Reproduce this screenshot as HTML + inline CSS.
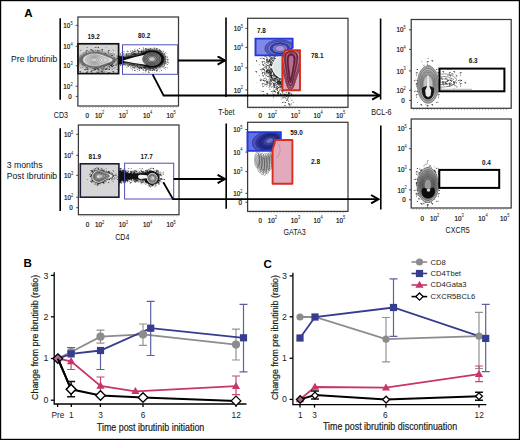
<!DOCTYPE html>
<html><head><meta charset="utf-8">
<style>html,body{margin:0;padding:0;background:#fff;}body{width:520px;height:440px;overflow:hidden;}svg{display:block;font-family:"Liberation Sans",sans-serif;}</style></head><body>
<svg width="520" height="440" viewBox="0 0 520 440">
<defs>
 <filter id="bl05" x="-30%" y="-30%" width="160%" height="160%"><feGaussianBlur stdDeviation="0.5"/></filter>
 <filter id="bl1" x="-30%" y="-30%" width="160%" height="160%"><feGaussianBlur stdDeviation="0.9"/></filter>
 <filter id="bl2" x="-30%" y="-30%" width="160%" height="160%"><feGaussianBlur stdDeviation="1.6"/></filter>
 <filter id="grain" x="0" y="0" width="100%" height="100%">
   <feTurbulence type="fractalNoise" baseFrequency="0.9" numOctaves="2" seed="3" result="n"/>
   <feColorMatrix in="n" type="matrix" values="0 0 0 0 0  0 0 0 0 0  0 0 0 0 0  0 0 0 -2.2 1.25" result="m"/>
   <feComposite in="SourceGraphic" in2="m" operator="in"/>
 </filter>
 <marker id="ah" viewBox="0 0 10 10" refX="9" refY="5" markerWidth="10" markerHeight="10" orient="auto" markerUnits="userSpaceOnUse">
  <path d="M1.6,0.8 L8.9,5 L1.6,9.2" fill="none" stroke="#000" stroke-width="2"/>
 </marker>
<pattern id="pd0" width="11" height="11" patternUnits="userSpaceOnUse"><path d="M6.9,3.3h.8v.8h-.8zM9.9,3.1h.8v.8h-.8zM8.5,2.8h.8v.8h-.8zM2.5,4.9h.8v.8h-.8zM3.3,5.6h.8v.8h-.8zM9.6,6.1h.8v.8h-.8zM0.1,11.0h.8v.8h-.8zM9.0,8.7h.8v.8h-.8zM8.8,6.8h.8v.8h-.8zM5.1,10.9h.8v.8h-.8z" fill="#000"/></pattern><pattern id="pw0" width="11" height="11" patternUnits="userSpaceOnUse" patternTransform="rotate(37)"><path d="M6.9,3.3h.8v.8h-.8zM9.9,3.1h.8v.8h-.8zM8.5,2.8h.8v.8h-.8zM2.5,4.9h.8v.8h-.8zM3.3,5.6h.8v.8h-.8zM9.6,6.1h.8v.8h-.8zM0.1,11.0h.8v.8h-.8zM9.0,8.7h.8v.8h-.8zM8.8,6.8h.8v.8h-.8zM5.1,10.9h.8v.8h-.8z" fill="#000"/></pattern><pattern id="pd1" width="11" height="11" patternUnits="userSpaceOnUse"><path d="M2.4,5.6h.8v.8h-.8zM1.8,9.3h.8v.8h-.8zM6.7,7.0h.8v.8h-.8zM0.5,8.2h.8v.8h-.8zM0.4,1.0h.8v.8h-.8zM5.7,6.0h.8v.8h-.8zM5.1,5.6h.8v.8h-.8zM10.1,9.6h.8v.8h-.8zM6.9,4.0h.8v.8h-.8zM5.7,6.6h.8v.8h-.8zM5.5,0.7h.8v.8h-.8zM2.7,4.3h.8v.8h-.8zM0.1,3.6h.8v.8h-.8zM2.1,1.7h.8v.8h-.8zM7.6,9.0h.8v.8h-.8zM2.2,4.2h.8v.8h-.8zM4.1,10.8h.8v.8h-.8zM0.0,6.5h.8v.8h-.8zM9.1,6.7h.8v.8h-.8zM1.7,7.0h.8v.8h-.8zM2.9,7.4h.8v.8h-.8zM9.7,1.7h.8v.8h-.8z" fill="#000"/></pattern><pattern id="pw1" width="11" height="11" patternUnits="userSpaceOnUse" patternTransform="rotate(37)"><path d="M2.4,5.6h.8v.8h-.8zM1.8,9.3h.8v.8h-.8zM6.7,7.0h.8v.8h-.8zM0.5,8.2h.8v.8h-.8zM0.4,1.0h.8v.8h-.8zM5.7,6.0h.8v.8h-.8zM5.1,5.6h.8v.8h-.8zM10.1,9.6h.8v.8h-.8zM6.9,4.0h.8v.8h-.8zM5.7,6.6h.8v.8h-.8zM5.5,0.7h.8v.8h-.8zM2.7,4.3h.8v.8h-.8zM0.1,3.6h.8v.8h-.8zM2.1,1.7h.8v.8h-.8zM7.6,9.0h.8v.8h-.8zM2.2,4.2h.8v.8h-.8zM4.1,10.8h.8v.8h-.8zM0.0,6.5h.8v.8h-.8zM9.1,6.7h.8v.8h-.8zM1.7,7.0h.8v.8h-.8zM2.9,7.4h.8v.8h-.8zM9.7,1.7h.8v.8h-.8z" fill="#000"/></pattern><pattern id="pd2" width="11" height="11" patternUnits="userSpaceOnUse"><path d="M4.8,9.6h.8v.8h-.8zM2.6,3.8h.8v.8h-.8zM4.4,6.5h.8v.8h-.8zM1.1,7.5h.8v.8h-.8zM10.6,3.9h.8v.8h-.8zM2.4,5.7h.8v.8h-.8zM7.4,8.4h.8v.8h-.8zM3.3,10.0h.8v.8h-.8zM9.6,1.7h.8v.8h-.8zM7.3,10.3h.8v.8h-.8zM1.4,0.1h.8v.8h-.8zM9.3,8.3h.8v.8h-.8zM10.4,8.9h.8v.8h-.8zM9.9,1.5h.8v.8h-.8zM6.3,4.6h.8v.8h-.8zM1.6,9.0h.8v.8h-.8zM2.1,0.2h.8v.8h-.8zM10.2,6.9h.8v.8h-.8zM6.1,8.7h.8v.8h-.8zM2.0,5.6h.8v.8h-.8zM9.7,8.0h.8v.8h-.8zM7.1,2.5h.8v.8h-.8zM6.3,2.2h.8v.8h-.8zM4.1,4.0h.8v.8h-.8zM4.5,2.0h.8v.8h-.8zM2.6,3.8h.8v.8h-.8zM0.4,10.4h.8v.8h-.8zM9.6,6.3h.8v.8h-.8zM5.1,3.7h.8v.8h-.8zM6.0,3.0h.8v.8h-.8zM3.5,10.5h.8v.8h-.8zM8.3,4.9h.8v.8h-.8zM0.3,10.8h.8v.8h-.8zM4.1,5.7h.8v.8h-.8zM0.3,5.7h.8v.8h-.8zM1.4,9.9h.8v.8h-.8zM10.6,8.2h.8v.8h-.8zM7.2,6.4h.8v.8h-.8zM4.7,4.7h.8v.8h-.8zM5.8,9.7h.8v.8h-.8z" fill="#000"/></pattern><pattern id="pw2" width="11" height="11" patternUnits="userSpaceOnUse" patternTransform="rotate(37)"><path d="M4.8,9.6h.8v.8h-.8zM2.6,3.8h.8v.8h-.8zM4.4,6.5h.8v.8h-.8zM1.1,7.5h.8v.8h-.8zM10.6,3.9h.8v.8h-.8zM2.4,5.7h.8v.8h-.8zM7.4,8.4h.8v.8h-.8zM3.3,10.0h.8v.8h-.8zM9.6,1.7h.8v.8h-.8zM7.3,10.3h.8v.8h-.8zM1.4,0.1h.8v.8h-.8zM9.3,8.3h.8v.8h-.8zM10.4,8.9h.8v.8h-.8zM9.9,1.5h.8v.8h-.8zM6.3,4.6h.8v.8h-.8zM1.6,9.0h.8v.8h-.8zM2.1,0.2h.8v.8h-.8zM10.2,6.9h.8v.8h-.8zM6.1,8.7h.8v.8h-.8zM2.0,5.6h.8v.8h-.8zM9.7,8.0h.8v.8h-.8zM7.1,2.5h.8v.8h-.8zM6.3,2.2h.8v.8h-.8zM4.1,4.0h.8v.8h-.8zM4.5,2.0h.8v.8h-.8zM2.6,3.8h.8v.8h-.8zM0.4,10.4h.8v.8h-.8zM9.6,6.3h.8v.8h-.8zM5.1,3.7h.8v.8h-.8zM6.0,3.0h.8v.8h-.8zM3.5,10.5h.8v.8h-.8zM8.3,4.9h.8v.8h-.8zM0.3,10.8h.8v.8h-.8zM4.1,5.7h.8v.8h-.8zM0.3,5.7h.8v.8h-.8zM1.4,9.9h.8v.8h-.8zM10.6,8.2h.8v.8h-.8zM7.2,6.4h.8v.8h-.8zM4.7,4.7h.8v.8h-.8zM5.8,9.7h.8v.8h-.8z" fill="#000"/></pattern><pattern id="pd3" width="11" height="11" patternUnits="userSpaceOnUse"><path d="M4.5,8.8h.8v.8h-.8zM10.2,3.5h.8v.8h-.8zM0.8,9.5h.8v.8h-.8zM4.7,8.8h.8v.8h-.8zM5.7,1.4h.8v.8h-.8zM10.5,8.4h.8v.8h-.8zM2.8,9.7h.8v.8h-.8zM8.9,2.2h.8v.8h-.8zM7.4,6.3h.8v.8h-.8zM7.9,7.0h.8v.8h-.8zM6.9,6.7h.8v.8h-.8zM10.7,1.1h.8v.8h-.8zM3.7,7.3h.8v.8h-.8zM4.4,7.0h.8v.8h-.8zM2.2,9.1h.8v.8h-.8zM0.6,8.8h.8v.8h-.8zM2.3,3.6h.8v.8h-.8zM10.1,7.9h.8v.8h-.8zM9.2,9.5h.8v.8h-.8zM1.2,9.8h.8v.8h-.8zM6.6,1.8h.8v.8h-.8zM5.3,0.3h.8v.8h-.8zM6.5,7.2h.8v.8h-.8zM7.3,2.4h.8v.8h-.8zM3.4,6.2h.8v.8h-.8zM10.6,10.4h.8v.8h-.8zM5.1,4.2h.8v.8h-.8zM6.9,2.8h.8v.8h-.8zM7.0,5.0h.8v.8h-.8zM2.0,7.2h.8v.8h-.8zM0.7,1.1h.8v.8h-.8zM4.5,4.2h.8v.8h-.8zM8.4,1.5h.8v.8h-.8zM9.0,7.3h.8v.8h-.8zM8.0,9.1h.8v.8h-.8zM1.2,4.1h.8v.8h-.8zM10.0,4.1h.8v.8h-.8zM8.8,5.9h.8v.8h-.8zM9.7,2.4h.8v.8h-.8zM5.8,2.7h.8v.8h-.8zM10.1,3.6h.8v.8h-.8zM0.5,5.0h.8v.8h-.8zM0.3,0.9h.8v.8h-.8zM0.2,8.3h.8v.8h-.8zM2.8,6.4h.8v.8h-.8zM2.7,3.3h.8v.8h-.8zM2.1,0.9h.8v.8h-.8zM6.2,8.4h.8v.8h-.8zM0.4,1.4h.8v.8h-.8zM6.5,1.5h.8v.8h-.8zM1.8,1.4h.8v.8h-.8zM7.5,0.9h.8v.8h-.8zM0.2,10.0h.8v.8h-.8zM3.4,3.0h.8v.8h-.8zM10.3,3.4h.8v.8h-.8zM5.9,9.2h.8v.8h-.8zM8.9,6.8h.8v.8h-.8zM7.2,2.1h.8v.8h-.8zM6.7,4.8h.8v.8h-.8zM2.1,9.7h.8v.8h-.8zM6.3,4.1h.8v.8h-.8zM0.4,7.8h.8v.8h-.8zM8.8,1.1h.8v.8h-.8zM10.6,8.0h.8v.8h-.8zM9.4,8.5h.8v.8h-.8zM0.6,9.1h.8v.8h-.8zM3.7,7.4h.8v.8h-.8zM3.5,4.1h.8v.8h-.8zM1.2,0.7h.8v.8h-.8zM6.9,5.7h.8v.8h-.8z" fill="#000"/></pattern><pattern id="pw3" width="11" height="11" patternUnits="userSpaceOnUse" patternTransform="rotate(37)"><path d="M4.5,8.8h.8v.8h-.8zM10.2,3.5h.8v.8h-.8zM0.8,9.5h.8v.8h-.8zM4.7,8.8h.8v.8h-.8zM5.7,1.4h.8v.8h-.8zM10.5,8.4h.8v.8h-.8zM2.8,9.7h.8v.8h-.8zM8.9,2.2h.8v.8h-.8zM7.4,6.3h.8v.8h-.8zM7.9,7.0h.8v.8h-.8zM6.9,6.7h.8v.8h-.8zM10.7,1.1h.8v.8h-.8zM3.7,7.3h.8v.8h-.8zM4.4,7.0h.8v.8h-.8zM2.2,9.1h.8v.8h-.8zM0.6,8.8h.8v.8h-.8zM2.3,3.6h.8v.8h-.8zM10.1,7.9h.8v.8h-.8zM9.2,9.5h.8v.8h-.8zM1.2,9.8h.8v.8h-.8zM6.6,1.8h.8v.8h-.8zM5.3,0.3h.8v.8h-.8zM6.5,7.2h.8v.8h-.8zM7.3,2.4h.8v.8h-.8zM3.4,6.2h.8v.8h-.8zM10.6,10.4h.8v.8h-.8zM5.1,4.2h.8v.8h-.8zM6.9,2.8h.8v.8h-.8zM7.0,5.0h.8v.8h-.8zM2.0,7.2h.8v.8h-.8zM0.7,1.1h.8v.8h-.8zM4.5,4.2h.8v.8h-.8zM8.4,1.5h.8v.8h-.8zM9.0,7.3h.8v.8h-.8zM8.0,9.1h.8v.8h-.8zM1.2,4.1h.8v.8h-.8zM10.0,4.1h.8v.8h-.8zM8.8,5.9h.8v.8h-.8zM9.7,2.4h.8v.8h-.8zM5.8,2.7h.8v.8h-.8zM10.1,3.6h.8v.8h-.8zM0.5,5.0h.8v.8h-.8zM0.3,0.9h.8v.8h-.8zM0.2,8.3h.8v.8h-.8zM2.8,6.4h.8v.8h-.8zM2.7,3.3h.8v.8h-.8zM2.1,0.9h.8v.8h-.8zM6.2,8.4h.8v.8h-.8zM0.4,1.4h.8v.8h-.8zM6.5,1.5h.8v.8h-.8zM1.8,1.4h.8v.8h-.8zM7.5,0.9h.8v.8h-.8zM0.2,10.0h.8v.8h-.8zM3.4,3.0h.8v.8h-.8zM10.3,3.4h.8v.8h-.8zM5.9,9.2h.8v.8h-.8zM8.9,6.8h.8v.8h-.8zM7.2,2.1h.8v.8h-.8zM6.7,4.8h.8v.8h-.8zM2.1,9.7h.8v.8h-.8zM6.3,4.1h.8v.8h-.8zM0.4,7.8h.8v.8h-.8zM8.8,1.1h.8v.8h-.8zM10.6,8.0h.8v.8h-.8zM9.4,8.5h.8v.8h-.8zM0.6,9.1h.8v.8h-.8zM3.7,7.4h.8v.8h-.8zM3.5,4.1h.8v.8h-.8zM1.2,0.7h.8v.8h-.8zM6.9,5.7h.8v.8h-.8z" fill="#000"/></pattern><pattern id="pd4" width="11" height="11" patternUnits="userSpaceOnUse"><path d="M8.3,3.3h.8v.8h-.8zM2.1,1.8h.8v.8h-.8zM2.9,8.3h.8v.8h-.8zM5.9,1.8h.8v.8h-.8zM8.2,10.1h.8v.8h-.8zM9.9,6.6h.8v.8h-.8zM1.4,3.6h.8v.8h-.8zM2.0,10.3h.8v.8h-.8zM8.8,1.7h.8v.8h-.8zM7.1,5.7h.8v.8h-.8zM7.9,1.0h.8v.8h-.8zM11.0,10.6h.8v.8h-.8zM10.3,6.3h.8v.8h-.8zM9.3,8.8h.8v.8h-.8zM8.5,3.1h.8v.8h-.8zM4.3,8.8h.8v.8h-.8zM7.1,7.7h.8v.8h-.8zM2.0,7.1h.8v.8h-.8zM8.4,10.5h.8v.8h-.8zM8.3,4.8h.8v.8h-.8zM7.9,4.6h.8v.8h-.8zM4.9,7.6h.8v.8h-.8zM4.2,9.2h.8v.8h-.8zM4.6,3.7h.8v.8h-.8zM0.4,7.4h.8v.8h-.8zM9.3,2.3h.8v.8h-.8zM6.0,6.1h.8v.8h-.8zM4.3,8.5h.8v.8h-.8zM6.0,0.7h.8v.8h-.8zM7.9,8.0h.8v.8h-.8zM4.2,0.2h.8v.8h-.8zM9.1,10.5h.8v.8h-.8zM10.1,5.2h.8v.8h-.8zM4.3,4.5h.8v.8h-.8zM1.5,7.9h.8v.8h-.8zM8.4,5.8h.8v.8h-.8zM10.9,8.0h.8v.8h-.8zM1.6,0.9h.8v.8h-.8zM7.8,6.2h.8v.8h-.8zM9.1,6.1h.8v.8h-.8zM10.1,10.3h.8v.8h-.8zM1.4,0.4h.8v.8h-.8zM1.0,5.0h.8v.8h-.8zM10.9,6.9h.8v.8h-.8zM1.3,6.1h.8v.8h-.8zM1.9,0.8h.8v.8h-.8zM6.3,6.5h.8v.8h-.8zM4.9,2.4h.8v.8h-.8zM8.3,2.2h.8v.8h-.8zM2.1,9.7h.8v.8h-.8zM10.1,2.2h.8v.8h-.8zM2.4,5.0h.8v.8h-.8zM8.5,8.3h.8v.8h-.8zM0.7,7.8h.8v.8h-.8zM5.2,6.1h.8v.8h-.8zM0.4,8.9h.8v.8h-.8zM3.5,5.1h.8v.8h-.8zM3.4,6.8h.8v.8h-.8zM7.9,9.0h.8v.8h-.8zM5.0,7.5h.8v.8h-.8zM0.6,7.1h.8v.8h-.8zM10.9,4.5h.8v.8h-.8zM9.8,6.1h.8v.8h-.8zM10.1,4.4h.8v.8h-.8zM2.7,8.2h.8v.8h-.8zM4.3,4.2h.8v.8h-.8zM2.5,5.1h.8v.8h-.8zM1.4,8.3h.8v.8h-.8zM0.4,5.5h.8v.8h-.8zM5.5,3.7h.8v.8h-.8zM1.4,9.1h.8v.8h-.8zM1.9,4.2h.8v.8h-.8zM9.5,9.3h.8v.8h-.8zM5.3,8.6h.8v.8h-.8zM2.0,4.9h.8v.8h-.8zM7.4,7.8h.8v.8h-.8zM2.9,0.4h.8v.8h-.8zM5.8,4.3h.8v.8h-.8zM3.1,9.5h.8v.8h-.8zM5.7,6.4h.8v.8h-.8zM6.9,6.1h.8v.8h-.8zM5.9,7.3h.8v.8h-.8zM4.4,7.5h.8v.8h-.8zM8.7,6.4h.8v.8h-.8zM9.6,4.6h.8v.8h-.8zM2.0,2.0h.8v.8h-.8zM1.5,3.2h.8v.8h-.8zM1.2,3.2h.8v.8h-.8zM10.8,4.7h.8v.8h-.8zM10.4,11.0h.8v.8h-.8zM2.5,3.9h.8v.8h-.8zM10.7,4.9h.8v.8h-.8zM2.3,4.1h.8v.8h-.8zM5.6,6.4h.8v.8h-.8zM5.5,10.4h.8v.8h-.8zM10.1,9.8h.8v.8h-.8zM0.4,4.1h.8v.8h-.8zM3.5,2.9h.8v.8h-.8zM6.6,9.7h.8v.8h-.8zM0.7,5.4h.8v.8h-.8zM2.6,7.5h.8v.8h-.8zM5.1,0.8h.8v.8h-.8zM9.7,9.5h.8v.8h-.8zM8.4,3.4h.8v.8h-.8zM9.1,5.4h.8v.8h-.8zM8.4,2.2h.8v.8h-.8zM7.8,4.6h.8v.8h-.8zM9.3,9.1h.8v.8h-.8zM7.5,9.1h.8v.8h-.8zM8.1,5.2h.8v.8h-.8z" fill="#000"/></pattern><pattern id="pw4" width="11" height="11" patternUnits="userSpaceOnUse" patternTransform="rotate(37)"><path d="M8.3,3.3h.8v.8h-.8zM2.1,1.8h.8v.8h-.8zM2.9,8.3h.8v.8h-.8zM5.9,1.8h.8v.8h-.8zM8.2,10.1h.8v.8h-.8zM9.9,6.6h.8v.8h-.8zM1.4,3.6h.8v.8h-.8zM2.0,10.3h.8v.8h-.8zM8.8,1.7h.8v.8h-.8zM7.1,5.7h.8v.8h-.8zM7.9,1.0h.8v.8h-.8zM11.0,10.6h.8v.8h-.8zM10.3,6.3h.8v.8h-.8zM9.3,8.8h.8v.8h-.8zM8.5,3.1h.8v.8h-.8zM4.3,8.8h.8v.8h-.8zM7.1,7.7h.8v.8h-.8zM2.0,7.1h.8v.8h-.8zM8.4,10.5h.8v.8h-.8zM8.3,4.8h.8v.8h-.8zM7.9,4.6h.8v.8h-.8zM4.9,7.6h.8v.8h-.8zM4.2,9.2h.8v.8h-.8zM4.6,3.7h.8v.8h-.8zM0.4,7.4h.8v.8h-.8zM9.3,2.3h.8v.8h-.8zM6.0,6.1h.8v.8h-.8zM4.3,8.5h.8v.8h-.8zM6.0,0.7h.8v.8h-.8zM7.9,8.0h.8v.8h-.8zM4.2,0.2h.8v.8h-.8zM9.1,10.5h.8v.8h-.8zM10.1,5.2h.8v.8h-.8zM4.3,4.5h.8v.8h-.8zM1.5,7.9h.8v.8h-.8zM8.4,5.8h.8v.8h-.8zM10.9,8.0h.8v.8h-.8zM1.6,0.9h.8v.8h-.8zM7.8,6.2h.8v.8h-.8zM9.1,6.1h.8v.8h-.8zM10.1,10.3h.8v.8h-.8zM1.4,0.4h.8v.8h-.8zM1.0,5.0h.8v.8h-.8zM10.9,6.9h.8v.8h-.8zM1.3,6.1h.8v.8h-.8zM1.9,0.8h.8v.8h-.8zM6.3,6.5h.8v.8h-.8zM4.9,2.4h.8v.8h-.8zM8.3,2.2h.8v.8h-.8zM2.1,9.7h.8v.8h-.8zM10.1,2.2h.8v.8h-.8zM2.4,5.0h.8v.8h-.8zM8.5,8.3h.8v.8h-.8zM0.7,7.8h.8v.8h-.8zM5.2,6.1h.8v.8h-.8zM0.4,8.9h.8v.8h-.8zM3.5,5.1h.8v.8h-.8zM3.4,6.8h.8v.8h-.8zM7.9,9.0h.8v.8h-.8zM5.0,7.5h.8v.8h-.8zM0.6,7.1h.8v.8h-.8zM10.9,4.5h.8v.8h-.8zM9.8,6.1h.8v.8h-.8zM10.1,4.4h.8v.8h-.8zM2.7,8.2h.8v.8h-.8zM4.3,4.2h.8v.8h-.8zM2.5,5.1h.8v.8h-.8zM1.4,8.3h.8v.8h-.8zM0.4,5.5h.8v.8h-.8zM5.5,3.7h.8v.8h-.8zM1.4,9.1h.8v.8h-.8zM1.9,4.2h.8v.8h-.8zM9.5,9.3h.8v.8h-.8zM5.3,8.6h.8v.8h-.8zM2.0,4.9h.8v.8h-.8zM7.4,7.8h.8v.8h-.8zM2.9,0.4h.8v.8h-.8zM5.8,4.3h.8v.8h-.8zM3.1,9.5h.8v.8h-.8zM5.7,6.4h.8v.8h-.8zM6.9,6.1h.8v.8h-.8zM5.9,7.3h.8v.8h-.8zM4.4,7.5h.8v.8h-.8zM8.7,6.4h.8v.8h-.8zM9.6,4.6h.8v.8h-.8zM2.0,2.0h.8v.8h-.8zM1.5,3.2h.8v.8h-.8zM1.2,3.2h.8v.8h-.8zM10.8,4.7h.8v.8h-.8zM10.4,11.0h.8v.8h-.8zM2.5,3.9h.8v.8h-.8zM10.7,4.9h.8v.8h-.8zM2.3,4.1h.8v.8h-.8zM5.6,6.4h.8v.8h-.8zM5.5,10.4h.8v.8h-.8zM10.1,9.8h.8v.8h-.8zM0.4,4.1h.8v.8h-.8zM3.5,2.9h.8v.8h-.8zM6.6,9.7h.8v.8h-.8zM0.7,5.4h.8v.8h-.8zM2.6,7.5h.8v.8h-.8zM5.1,0.8h.8v.8h-.8zM9.7,9.5h.8v.8h-.8zM8.4,3.4h.8v.8h-.8zM9.1,5.4h.8v.8h-.8zM8.4,2.2h.8v.8h-.8zM7.8,4.6h.8v.8h-.8zM9.3,9.1h.8v.8h-.8zM7.5,9.1h.8v.8h-.8zM8.1,5.2h.8v.8h-.8z" fill="#000"/></pattern><pattern id="pd5" width="11" height="11" patternUnits="userSpaceOnUse"><path d="M8.4,5.2h.8v.8h-.8zM5.0,8.9h.8v.8h-.8zM4.1,0.7h.8v.8h-.8zM6.0,6.5h.8v.8h-.8zM2.2,9.5h.8v.8h-.8zM3.5,9.5h.8v.8h-.8zM7.8,0.1h.8v.8h-.8zM8.5,5.7h.8v.8h-.8zM0.6,4.1h.8v.8h-.8zM8.1,8.4h.8v.8h-.8zM9.0,0.8h.8v.8h-.8zM4.9,2.9h.8v.8h-.8zM0.7,8.9h.8v.8h-.8zM7.5,5.2h.8v.8h-.8zM2.7,5.0h.8v.8h-.8zM7.1,10.7h.8v.8h-.8zM4.1,3.5h.8v.8h-.8zM7.0,0.5h.8v.8h-.8zM2.8,4.3h.8v.8h-.8zM5.2,1.7h.8v.8h-.8zM5.8,0.9h.8v.8h-.8zM6.9,6.2h.8v.8h-.8zM2.2,10.5h.8v.8h-.8zM10.6,6.4h.8v.8h-.8zM3.2,7.1h.8v.8h-.8zM3.4,3.6h.8v.8h-.8zM2.8,6.3h.8v.8h-.8zM0.7,8.3h.8v.8h-.8zM4.7,6.5h.8v.8h-.8zM8.5,8.8h.8v.8h-.8zM7.8,6.1h.8v.8h-.8zM2.2,2.2h.8v.8h-.8zM1.5,6.4h.8v.8h-.8zM3.5,5.4h.8v.8h-.8zM8.5,1.8h.8v.8h-.8zM5.4,6.8h.8v.8h-.8zM10.2,9.0h.8v.8h-.8zM7.2,1.5h.8v.8h-.8zM6.8,6.0h.8v.8h-.8zM8.4,8.1h.8v.8h-.8zM8.3,4.4h.8v.8h-.8zM3.8,3.0h.8v.8h-.8zM2.8,4.1h.8v.8h-.8zM4.8,6.0h.8v.8h-.8zM5.4,7.6h.8v.8h-.8zM1.6,6.2h.8v.8h-.8zM4.9,1.2h.8v.8h-.8zM7.0,9.0h.8v.8h-.8zM1.5,10.2h.8v.8h-.8zM1.5,1.1h.8v.8h-.8zM1.9,2.7h.8v.8h-.8zM3.1,1.9h.8v.8h-.8zM10.6,9.3h.8v.8h-.8zM0.3,10.0h.8v.8h-.8zM2.0,0.5h.8v.8h-.8zM1.8,3.7h.8v.8h-.8zM5.2,2.1h.8v.8h-.8zM0.2,5.2h.8v.8h-.8zM5.0,10.1h.8v.8h-.8zM1.8,0.8h.8v.8h-.8zM3.0,1.9h.8v.8h-.8zM8.7,5.4h.8v.8h-.8zM2.0,5.8h.8v.8h-.8zM6.8,8.2h.8v.8h-.8zM4.5,4.8h.8v.8h-.8zM4.6,1.6h.8v.8h-.8zM9.0,3.9h.8v.8h-.8zM1.8,10.8h.8v.8h-.8zM10.2,8.3h.8v.8h-.8zM9.8,1.3h.8v.8h-.8zM7.4,8.9h.8v.8h-.8zM0.5,3.4h.8v.8h-.8zM7.3,8.6h.8v.8h-.8zM6.6,0.1h.8v.8h-.8zM8.5,9.6h.8v.8h-.8zM2.4,1.8h.8v.8h-.8zM10.5,5.0h.8v.8h-.8zM9.7,7.3h.8v.8h-.8zM1.3,5.6h.8v.8h-.8zM3.5,1.8h.8v.8h-.8zM0.4,1.5h.8v.8h-.8zM9.1,3.1h.8v.8h-.8zM10.1,0.6h.8v.8h-.8zM10.9,2.4h.8v.8h-.8zM6.7,1.4h.8v.8h-.8zM7.3,5.1h.8v.8h-.8zM7.5,3.9h.8v.8h-.8zM6.3,6.5h.8v.8h-.8zM10.5,3.1h.8v.8h-.8zM6.7,0.4h.8v.8h-.8zM3.7,3.6h.8v.8h-.8zM5.6,8.3h.8v.8h-.8zM0.2,2.8h.8v.8h-.8zM8.0,4.5h.8v.8h-.8zM7.6,8.3h.8v.8h-.8zM4.6,4.5h.8v.8h-.8zM9.4,9.8h.8v.8h-.8zM8.3,10.1h.8v.8h-.8zM3.7,3.4h.8v.8h-.8zM0.9,8.1h.8v.8h-.8zM1.5,2.8h.8v.8h-.8zM2.0,1.5h.8v.8h-.8zM3.3,4.8h.8v.8h-.8zM4.9,6.6h.8v.8h-.8zM10.2,10.3h.8v.8h-.8zM3.1,1.6h.8v.8h-.8zM9.9,7.8h.8v.8h-.8zM7.5,5.2h.8v.8h-.8zM9.4,1.4h.8v.8h-.8zM4.4,10.7h.8v.8h-.8zM0.0,7.7h.8v.8h-.8zM8.7,1.4h.8v.8h-.8zM2.7,10.0h.8v.8h-.8zM1.6,1.1h.8v.8h-.8zM8.8,1.0h.8v.8h-.8zM7.5,3.6h.8v.8h-.8zM2.3,10.3h.8v.8h-.8zM2.9,0.4h.8v.8h-.8zM10.3,10.1h.8v.8h-.8zM3.0,6.7h.8v.8h-.8zM7.7,0.7h.8v.8h-.8zM1.4,6.3h.8v.8h-.8zM9.0,5.0h.8v.8h-.8zM1.3,6.2h.8v.8h-.8zM5.7,8.1h.8v.8h-.8zM0.4,7.5h.8v.8h-.8zM6.1,11.0h.8v.8h-.8zM9.3,1.7h.8v.8h-.8zM0.9,8.9h.8v.8h-.8zM3.0,4.5h.8v.8h-.8zM8.4,8.6h.8v.8h-.8zM6.7,9.8h.8v.8h-.8zM3.4,10.9h.8v.8h-.8zM6.9,2.9h.8v.8h-.8zM5.0,5.0h.8v.8h-.8zM9.5,10.4h.8v.8h-.8zM3.2,10.4h.8v.8h-.8zM8.3,4.1h.8v.8h-.8zM7.0,10.3h.8v.8h-.8zM8.1,4.5h.8v.8h-.8zM4.2,4.1h.8v.8h-.8zM8.0,8.3h.8v.8h-.8zM7.7,5.2h.8v.8h-.8zM4.3,4.9h.8v.8h-.8zM0.3,4.2h.8v.8h-.8zM10.6,4.8h.8v.8h-.8zM7.8,1.5h.8v.8h-.8zM2.3,0.7h.8v.8h-.8zM8.0,8.3h.8v.8h-.8zM3.1,6.2h.8v.8h-.8zM5.2,7.4h.8v.8h-.8zM9.5,8.8h.8v.8h-.8zM4.9,2.5h.8v.8h-.8zM3.2,2.6h.8v.8h-.8zM3.4,3.1h.8v.8h-.8zM0.8,3.3h.8v.8h-.8zM2.4,8.4h.8v.8h-.8zM3.0,4.1h.8v.8h-.8zM1.9,3.6h.8v.8h-.8zM0.7,7.0h.8v.8h-.8zM5.1,2.1h.8v.8h-.8zM2.4,1.2h.8v.8h-.8zM8.1,7.7h.8v.8h-.8zM10.1,8.3h.8v.8h-.8zM3.0,3.3h.8v.8h-.8zM6.3,7.0h.8v.8h-.8zM5.6,0.4h.8v.8h-.8zM0.8,4.4h.8v.8h-.8zM1.4,6.4h.8v.8h-.8zM9.7,2.8h.8v.8h-.8z" fill="#000"/></pattern><pattern id="pw5" width="11" height="11" patternUnits="userSpaceOnUse" patternTransform="rotate(37)"><path d="M8.4,5.2h.8v.8h-.8zM5.0,8.9h.8v.8h-.8zM4.1,0.7h.8v.8h-.8zM6.0,6.5h.8v.8h-.8zM2.2,9.5h.8v.8h-.8zM3.5,9.5h.8v.8h-.8zM7.8,0.1h.8v.8h-.8zM8.5,5.7h.8v.8h-.8zM0.6,4.1h.8v.8h-.8zM8.1,8.4h.8v.8h-.8zM9.0,0.8h.8v.8h-.8zM4.9,2.9h.8v.8h-.8zM0.7,8.9h.8v.8h-.8zM7.5,5.2h.8v.8h-.8zM2.7,5.0h.8v.8h-.8zM7.1,10.7h.8v.8h-.8zM4.1,3.5h.8v.8h-.8zM7.0,0.5h.8v.8h-.8zM2.8,4.3h.8v.8h-.8zM5.2,1.7h.8v.8h-.8zM5.8,0.9h.8v.8h-.8zM6.9,6.2h.8v.8h-.8zM2.2,10.5h.8v.8h-.8zM10.6,6.4h.8v.8h-.8zM3.2,7.1h.8v.8h-.8zM3.4,3.6h.8v.8h-.8zM2.8,6.3h.8v.8h-.8zM0.7,8.3h.8v.8h-.8zM4.7,6.5h.8v.8h-.8zM8.5,8.8h.8v.8h-.8zM7.8,6.1h.8v.8h-.8zM2.2,2.2h.8v.8h-.8zM1.5,6.4h.8v.8h-.8zM3.5,5.4h.8v.8h-.8zM8.5,1.8h.8v.8h-.8zM5.4,6.8h.8v.8h-.8zM10.2,9.0h.8v.8h-.8zM7.2,1.5h.8v.8h-.8zM6.8,6.0h.8v.8h-.8zM8.4,8.1h.8v.8h-.8zM8.3,4.4h.8v.8h-.8zM3.8,3.0h.8v.8h-.8zM2.8,4.1h.8v.8h-.8zM4.8,6.0h.8v.8h-.8zM5.4,7.6h.8v.8h-.8zM1.6,6.2h.8v.8h-.8zM4.9,1.2h.8v.8h-.8zM7.0,9.0h.8v.8h-.8zM1.5,10.2h.8v.8h-.8zM1.5,1.1h.8v.8h-.8zM1.9,2.7h.8v.8h-.8zM3.1,1.9h.8v.8h-.8zM10.6,9.3h.8v.8h-.8zM0.3,10.0h.8v.8h-.8zM2.0,0.5h.8v.8h-.8zM1.8,3.7h.8v.8h-.8zM5.2,2.1h.8v.8h-.8zM0.2,5.2h.8v.8h-.8zM5.0,10.1h.8v.8h-.8zM1.8,0.8h.8v.8h-.8zM3.0,1.9h.8v.8h-.8zM8.7,5.4h.8v.8h-.8zM2.0,5.8h.8v.8h-.8zM6.8,8.2h.8v.8h-.8zM4.5,4.8h.8v.8h-.8zM4.6,1.6h.8v.8h-.8zM9.0,3.9h.8v.8h-.8zM1.8,10.8h.8v.8h-.8zM10.2,8.3h.8v.8h-.8zM9.8,1.3h.8v.8h-.8zM7.4,8.9h.8v.8h-.8zM0.5,3.4h.8v.8h-.8zM7.3,8.6h.8v.8h-.8zM6.6,0.1h.8v.8h-.8zM8.5,9.6h.8v.8h-.8zM2.4,1.8h.8v.8h-.8zM10.5,5.0h.8v.8h-.8zM9.7,7.3h.8v.8h-.8zM1.3,5.6h.8v.8h-.8zM3.5,1.8h.8v.8h-.8zM0.4,1.5h.8v.8h-.8zM9.1,3.1h.8v.8h-.8zM10.1,0.6h.8v.8h-.8zM10.9,2.4h.8v.8h-.8zM6.7,1.4h.8v.8h-.8zM7.3,5.1h.8v.8h-.8zM7.5,3.9h.8v.8h-.8zM6.3,6.5h.8v.8h-.8zM10.5,3.1h.8v.8h-.8zM6.7,0.4h.8v.8h-.8zM3.7,3.6h.8v.8h-.8zM5.6,8.3h.8v.8h-.8zM0.2,2.8h.8v.8h-.8zM8.0,4.5h.8v.8h-.8zM7.6,8.3h.8v.8h-.8zM4.6,4.5h.8v.8h-.8zM9.4,9.8h.8v.8h-.8zM8.3,10.1h.8v.8h-.8zM3.7,3.4h.8v.8h-.8zM0.9,8.1h.8v.8h-.8zM1.5,2.8h.8v.8h-.8zM2.0,1.5h.8v.8h-.8zM3.3,4.8h.8v.8h-.8zM4.9,6.6h.8v.8h-.8zM10.2,10.3h.8v.8h-.8zM3.1,1.6h.8v.8h-.8zM9.9,7.8h.8v.8h-.8zM7.5,5.2h.8v.8h-.8zM9.4,1.4h.8v.8h-.8zM4.4,10.7h.8v.8h-.8zM0.0,7.7h.8v.8h-.8zM8.7,1.4h.8v.8h-.8zM2.7,10.0h.8v.8h-.8zM1.6,1.1h.8v.8h-.8zM8.8,1.0h.8v.8h-.8zM7.5,3.6h.8v.8h-.8zM2.3,10.3h.8v.8h-.8zM2.9,0.4h.8v.8h-.8zM10.3,10.1h.8v.8h-.8zM3.0,6.7h.8v.8h-.8zM7.7,0.7h.8v.8h-.8zM1.4,6.3h.8v.8h-.8zM9.0,5.0h.8v.8h-.8zM1.3,6.2h.8v.8h-.8zM5.7,8.1h.8v.8h-.8zM0.4,7.5h.8v.8h-.8zM6.1,11.0h.8v.8h-.8zM9.3,1.7h.8v.8h-.8zM0.9,8.9h.8v.8h-.8zM3.0,4.5h.8v.8h-.8zM8.4,8.6h.8v.8h-.8zM6.7,9.8h.8v.8h-.8zM3.4,10.9h.8v.8h-.8zM6.9,2.9h.8v.8h-.8zM5.0,5.0h.8v.8h-.8zM9.5,10.4h.8v.8h-.8zM3.2,10.4h.8v.8h-.8zM8.3,4.1h.8v.8h-.8zM7.0,10.3h.8v.8h-.8zM8.1,4.5h.8v.8h-.8zM4.2,4.1h.8v.8h-.8zM8.0,8.3h.8v.8h-.8zM7.7,5.2h.8v.8h-.8zM4.3,4.9h.8v.8h-.8zM0.3,4.2h.8v.8h-.8zM10.6,4.8h.8v.8h-.8zM7.8,1.5h.8v.8h-.8zM2.3,0.7h.8v.8h-.8zM8.0,8.3h.8v.8h-.8zM3.1,6.2h.8v.8h-.8zM5.2,7.4h.8v.8h-.8zM9.5,8.8h.8v.8h-.8zM4.9,2.5h.8v.8h-.8zM3.2,2.6h.8v.8h-.8zM3.4,3.1h.8v.8h-.8zM0.8,3.3h.8v.8h-.8zM2.4,8.4h.8v.8h-.8zM3.0,4.1h.8v.8h-.8zM1.9,3.6h.8v.8h-.8zM0.7,7.0h.8v.8h-.8zM5.1,2.1h.8v.8h-.8zM2.4,1.2h.8v.8h-.8zM8.1,7.7h.8v.8h-.8zM10.1,8.3h.8v.8h-.8zM3.0,3.3h.8v.8h-.8zM6.3,7.0h.8v.8h-.8zM5.6,0.4h.8v.8h-.8zM0.8,4.4h.8v.8h-.8zM1.4,6.4h.8v.8h-.8zM9.7,2.8h.8v.8h-.8z" fill="#000"/></pattern></defs>
<rect x="0" y="0" width="520" height="440" fill="#fff"/>
<rect x="0.5" y="0.5" width="519" height="439" fill="none" stroke="#000" stroke-width="1.4"/>
<text x="24.2" y="16.8" font-size="11.6" fill="#000" font-weight="bold">A</text>
<text x="11.1" y="62" font-size="8.55" fill="#111">Pre Ibrutinib</text>
<text x="6.8" y="168.2" font-size="8.7" fill="#111">3 months</text>
<text x="6.8" y="178.7" font-size="8.65" fill="#111">Post Ibrutinib</text>
<g stroke="#000" stroke-width="1.6">
<line x1="60.2" y1="18.3" x2="60.2" y2="99.8"/>
<line x1="226" y1="17.5" x2="226" y2="97"/>
<line x1="380.6" y1="18.5" x2="380.6" y2="99.6"/>
<line x1="60.2" y1="128.3" x2="60.2" y2="211"/>
<line x1="226.2" y1="123.5" x2="226.2" y2="208.8"/>
<line x1="380.8" y1="125.5" x2="380.8" y2="209.5"/>
</g>
<g fill="none" stroke="#3a3a3a" stroke-width="1.25">
<rect x="77.9" y="17.0" width="100.6" height="89.0"/>
<rect x="247.6" y="18.3" width="100.4" height="89.0"/>
<rect x="411.2" y="19.5" width="100.0" height="88.8"/>
<rect x="78.4" y="125" width="100.6" height="89.7"/>
<rect x="247.6" y="122.3" width="100.4" height="89.1"/>
<rect x="411.2" y="119.0" width="100.0" height="89.0"/>
</g>
<g fill="none" stroke="#9a9a9a" stroke-width="0.9" stroke-dasharray="0.9 2.1">
<line x1="79.9" y1="107.3" x2="176.5" y2="107.3"/>
<line x1="249.6" y1="108.6" x2="346" y2="108.6"/>
<line x1="413.2" y1="109.6" x2="509.2" y2="109.6"/>
<line x1="80.4" y1="216.0" x2="177" y2="216.0"/>
<line x1="249.6" y1="212.70000000000002" x2="346" y2="212.70000000000002"/>
<line x1="413.2" y1="209.3" x2="509.2" y2="209.3"/>
</g>
<clipPath id="c11a"><rect x="78.5" y="44.5" width="40" height="29"/></clipPath><clipPath id="c11b"><rect x="118.5" y="44.5" width="59" height="29.5"/></clipPath><rect x="78" y="43.8" width="40.6" height="29.8" fill="#d4d4d4"/><path d="M98.2,76.5L97.5,76.5L96.8,76.5L96.0,76.6L95.2,76.5L94.5,76.5L94.0,76.5L93.2,76.4L92.5,76.4L91.8,76.3L91.2,76.2L90.5,76.2L89.8,76.0L89.2,75.9L88.5,75.8L88.0,75.7L87.2,75.5L86.8,75.4L86.1,75.2L85.5,75.1L85.0,74.9L84.5,74.8L83.8,74.5L83.2,74.3L82.8,74.1L82.2,73.9L81.8,73.7L81.2,73.5L80.8,73.2L80.2,73.0L79.8,72.7L79.2,72.4L78.8,72.1L78.2,71.8L77.8,71.5L77.4,71.2L77.0,70.9L76.5,70.5L76.1,70.2L75.8,69.9L75.3,69.5L75.0,69.2L74.6,68.8L74.2,68.3L74.0,68.0L73.6,67.5L73.3,67.0L73.0,66.6L72.8,66.1L72.5,65.6L72.3,65.0L72.1,64.5L71.9,64.0L71.8,63.3L71.7,62.8L71.6,62.0L71.6,61.2L71.6,60.5L71.7,59.8L71.9,59.2L72.0,58.7L72.2,58.0L72.5,57.5L72.7,57.0L73.0,56.5L73.2,56.0L73.5,55.7L73.8,55.2L74.2,54.8L74.5,54.4L74.8,54.0L75.2,53.6L75.6,53.2L76.0,52.9L76.4,52.5L76.8,52.2L77.2,51.9L77.8,51.5L78.1,51.2L78.5,51.0L79.0,50.7L79.5,50.4L80.0,50.1L80.5,49.9L81.0,49.6L81.5,49.4L82.0,49.2L82.5,49.0L83.1,48.8L83.7,48.5L84.2,48.3L84.8,48.2L85.3,48.0L86.0,47.8L86.5,47.7L87.1,47.5L87.8,47.4L88.2,47.2L89.0,47.1L89.5,47.0L90.2,46.9L91.0,46.8L91.5,46.7L92.2,46.6L93.0,46.6L93.8,46.5L94.2,46.5L95.0,46.5L95.8,46.4L96.5,46.4L97.2,46.5L98.0,46.5L98.5,46.5L99.2,46.6L100.0,46.6L100.8,46.7L101.2,46.8L102.0,46.8L102.8,47.0L103.2,47.0L104.0,47.2L104.5,47.3L105.2,47.4L105.8,47.5L106.5,47.7L107.0,47.8L107.6,48.0L108.2,48.2L108.8,48.3L109.3,48.5L110.0,48.7L110.5,48.9L111.0,49.1L111.5,49.2L112.2,49.5L112.8,49.7L113.2,49.9L113.8,50.2L114.2,50.4L114.8,50.6L115.2,50.9L115.8,51.1L116.2,51.4L116.8,51.6L117.2,51.9L117.8,52.2L118.2,52.5L118.5,52.8L119.0,53.1L119.5,53.4L119.9,53.8L120.2,54.0L120.8,54.5L121.1,54.8L121.5,55.2L121.8,55.5L122.2,56.0L122.5,56.4L122.8,56.8L123.1,57.2L123.4,57.8L123.7,58.2L123.9,58.8L124.0,59.2L124.2,60.0L124.3,60.5L124.4,61.2L124.4,62.0L124.3,62.8L124.2,63.2L124.0,63.9L123.8,64.5L123.5,65.0L123.3,65.5L123.0,65.9L122.8,66.3L122.4,66.8L122.0,67.2L121.8,67.5L121.3,68.0L121.0,68.3L120.5,68.8L120.2,69.0L119.8,69.4L119.2,69.7L118.9,70.0L118.5,70.3L118.0,70.6L117.5,70.9L117.0,71.2L116.5,71.5L116.0,71.8L115.5,72.0L115.0,72.2L114.5,72.5L114.0,72.7L113.5,73.0L113.0,73.2L112.5,73.4L112.0,73.6L111.5,73.8L110.8,74.0L110.2,74.2L109.8,74.4L109.2,74.5L108.5,74.8L108.0,74.9L107.5,75.0L106.8,75.2L106.2,75.4L105.6,75.5L105.0,75.6L104.4,75.8L103.8,75.9L103.0,76.0L102.5,76.1L101.8,76.2L101.2,76.2L100.5,76.3L99.8,76.4L99.0,76.5L98.3,76.5Z" fill="url(#pd0)" fill-opacity="1.0" clip-path="url(#c11a)"/><path d="M98.5,73.3L97.8,73.3L97.0,73.3L96.2,73.3L95.5,73.3L94.8,73.3L94.2,73.2L93.5,73.2L92.8,73.1L92.1,73.0L91.5,72.9L90.8,72.8L90.2,72.7L89.5,72.5L89.0,72.4L88.4,72.2L87.8,72.1L87.2,71.9L86.8,71.7L86.1,71.5L85.5,71.3L85.0,71.1L84.5,70.8L84.0,70.6L83.5,70.3L83.0,70.1L82.5,69.8L82.1,69.5L81.7,69.2L81.2,68.9L80.8,68.5L80.4,68.2L80.0,67.8L79.7,67.5L79.2,67.1L79.0,66.8L78.6,66.2L78.3,65.8L78.0,65.3L77.8,64.8L77.5,64.2L77.3,63.8L77.2,63.2L77.0,62.5L77.0,62.0L77.0,61.2L77.0,60.8L77.1,60.0L77.2,59.5L77.5,58.8L77.7,58.2L78.0,57.8L78.2,57.3L78.5,56.9L78.8,56.5L79.2,56.0L79.5,55.7L79.9,55.2L80.2,54.9L80.7,54.5L81.0,54.2L81.5,53.9L82.0,53.6L82.5,53.2L82.9,53.0L83.3,52.8L83.8,52.5L84.3,52.2L84.9,52.0L85.4,51.8L86.0,51.5L86.5,51.3L87.0,51.2L87.5,51.0L88.2,50.8L88.8,50.7L89.4,50.5L90.0,50.4L90.6,50.2L91.2,50.1L92.0,50.0L92.5,49.9L93.2,49.9L94.0,49.8L94.7,49.8L95.2,49.7L96.0,49.7L96.8,49.7L97.5,49.7L98.2,49.7L98.8,49.8L99.5,49.8L100.2,49.9L101.0,50.0L101.5,50.0L102.2,50.1L103.0,50.2L103.5,50.3L104.2,50.5L104.8,50.6L105.5,50.7L106.0,50.8L106.6,51.0L107.2,51.2L107.8,51.3L108.4,51.5L109.0,51.7L109.5,51.8L110.0,52.0L110.7,52.2L111.2,52.5L111.8,52.7L112.2,52.9L112.8,53.1L113.2,53.3L113.8,53.6L114.2,53.8L114.8,54.1L115.2,54.4L115.8,54.7L116.2,55.0L116.5,55.2L117.0,55.6L117.5,56.0L117.8,56.2L118.2,56.7L118.5,57.0L118.9,57.5L119.2,58.0L119.5,58.3L119.8,58.8L120.0,59.4L120.2,60.0L120.3,60.5L120.4,61.2L120.4,62.0L120.3,62.8L120.1,63.2L120.0,63.8L119.7,64.2L119.4,64.8L119.1,65.2L118.8,65.7L118.5,66.0L118.0,66.5L117.8,66.8L117.2,67.2L116.9,67.5L116.5,67.8L116.0,68.1L115.5,68.5L115.0,68.8L114.6,69.0L114.1,69.2L113.6,69.5L113.1,69.8L112.5,70.0L112.0,70.2L111.5,70.4L111.0,70.6L110.5,70.8L110.0,71.0L109.2,71.2L108.8,71.4L108.2,71.6L107.6,71.8L107.0,71.9L106.5,72.0L105.8,72.2L105.2,72.3L104.5,72.5L104.0,72.6L103.2,72.7L102.8,72.8L102.0,72.9L101.4,73.0L100.8,73.1L100.0,73.1L99.2,73.2L98.6,73.2Z" fill="url(#pw1)" fill-opacity="1.0" clip-path="url(#c11a)"/><path d="M101.0,70.8L100.2,70.8L99.5,70.9L98.8,70.9L98.0,70.9L97.2,71.0L96.5,70.9L95.8,70.9L95.0,70.9L94.2,70.8L93.7,70.8L93.0,70.7L92.2,70.5L91.8,70.4L91.0,70.3L90.5,70.2L89.9,70.0L89.2,69.8L88.8,69.6L88.2,69.4L87.7,69.2L87.2,69.0L86.6,68.8L86.2,68.5L85.7,68.2L85.2,68.0L84.8,67.6L84.2,67.3L83.9,67.0L83.5,66.6L83.1,66.2L82.8,65.9L82.5,65.5L82.1,65.0L81.8,64.5L81.5,64.0L81.3,63.5L81.2,63.0L81.0,62.2L81.0,61.8L81.0,61.1L81.1,60.5L81.2,59.8L81.4,59.2L81.7,58.8L81.9,58.2L82.2,57.8L82.5,57.5L82.9,57.0L83.2,56.6L83.6,56.2L84.0,55.9L84.5,55.5L84.9,55.2L85.3,55.0L85.8,54.7L86.2,54.5L86.8,54.2L87.2,54.0L87.8,53.7L88.4,53.5L89.0,53.3L89.5,53.1L90.0,53.0L90.8,52.8L91.2,52.7L92.0,52.5L92.5,52.4L93.2,52.3L93.8,52.2L94.5,52.2L95.2,52.1L96.0,52.1L96.8,52.0L97.5,52.0L98.2,52.1L99.0,52.1L99.8,52.1L100.5,52.2L101.1,52.2L101.8,52.3L102.5,52.4L103.0,52.5L103.8,52.6L104.4,52.8L105.0,52.9L105.6,53.0L106.2,53.1L106.8,53.3L107.5,53.5L108.0,53.6L108.5,53.8L109.2,54.0L109.8,54.2L110.2,54.4L110.8,54.6L111.2,54.8L111.8,55.0L112.2,55.3L112.8,55.5L113.2,55.8L113.8,56.1L114.2,56.4L114.7,56.8L115.0,57.0L115.5,57.5L115.8,57.8L116.2,58.2L116.5,58.6L116.8,59.0L117.0,59.5L117.2,60.1L117.4,60.8L117.5,61.5L117.4,62.2L117.2,62.9L117.0,63.5L116.8,64.0L116.5,64.4L116.2,64.8L115.8,65.2L115.5,65.5L115.0,66.0L114.7,66.2L114.2,66.6L113.8,66.9L113.2,67.2L112.8,67.5L112.2,67.7L111.8,68.0L111.2,68.2L110.8,68.4L110.2,68.6L109.8,68.8L109.2,69.0L108.5,69.2L108.0,69.4L107.5,69.5L106.8,69.7L106.2,69.9L105.6,70.0L105.0,70.1L104.4,70.2L103.8,70.4L103.0,70.5L102.5,70.6L101.8,70.7L101.1,70.8Z" fill="url(#pd2)" fill-opacity="1.0" clip-path="url(#c11a)"/><path d="M101.5,68.8L100.8,68.8L100.0,68.9L99.2,68.9L98.5,68.9L97.8,68.9L97.0,68.9L96.2,68.9L95.5,68.8L95.0,68.8L94.2,68.7L93.5,68.5L93.0,68.4L92.2,68.3L91.8,68.1L91.2,68.0L90.6,67.8L90.0,67.5L89.5,67.3L89.0,67.1L88.5,66.8L88.0,66.5L87.6,66.2L87.2,66.0L86.8,65.6L86.4,65.2L86.0,64.8L85.7,64.5L85.4,64.0L85.1,63.5L84.9,63.0L84.8,62.5L84.6,61.8L84.7,61.0L84.8,60.5L85.0,59.8L85.2,59.2L85.5,58.8L85.8,58.5L86.1,58.0L86.5,57.6L86.9,57.2L87.2,57.0L87.8,56.6L88.2,56.3L88.8,56.0L89.2,55.8L89.8,55.6L90.2,55.4L90.8,55.2L91.3,55.0L92.0,54.8L92.5,54.7L93.2,54.5L93.8,54.4L94.5,54.3L95.0,54.2L95.8,54.2L96.5,54.1L97.2,54.1L98.0,54.1L98.8,54.1L99.5,54.1L100.2,54.1L101.0,54.2L101.6,54.2L102.2,54.3L103.0,54.4L103.5,54.5L104.2,54.6L104.9,54.8L105.5,54.9L106.1,55.0L106.8,55.2L107.2,55.3L107.9,55.5L108.5,55.7L109.0,55.9L109.5,56.1L110.0,56.3L110.5,56.5L111.0,56.8L111.5,57.0L112.0,57.4L112.5,57.7L112.9,58.0L113.2,58.3L113.6,58.8L114.0,59.2L114.2,59.6L114.5,60.1L114.7,60.8L114.8,61.2L114.8,62.0L114.7,62.5L114.5,63.0L114.2,63.5L113.9,64.0L113.5,64.4L113.2,64.8L112.8,65.1L112.2,65.5L111.8,65.8L111.4,66.0L111.0,66.2L110.5,66.5L109.9,66.8L109.3,67.0L108.8,67.2L108.2,67.4L107.8,67.5L107.0,67.8L106.5,67.9L106.0,68.0L105.2,68.2L104.8,68.3L104.0,68.4L103.5,68.5L102.8,68.6L102.0,68.7L101.5,68.8Z" fill="url(#pw3)" fill-opacity="1.0" clip-path="url(#c11a)"/><path d="M102.8,66.8L102.0,66.8L101.2,66.9L100.5,66.9L99.8,67.0L99.0,67.0L98.2,66.9L97.5,66.9L96.8,66.8L96.0,66.8L95.5,66.7L94.8,66.5L94.2,66.4L93.7,66.2L93.0,66.0L92.5,65.9L92.0,65.6L91.5,65.4L91.0,65.1L90.5,64.8L90.1,64.5L89.8,64.2L89.4,63.8L89.0,63.3L88.8,62.8L88.6,62.2L88.5,61.8L88.5,61.1L88.6,60.5L88.9,60.0L89.2,59.5L89.5,59.1L89.8,58.8L90.2,58.4L90.8,58.0L91.2,57.8L91.7,57.5L92.2,57.2L92.8,57.0L93.2,56.9L93.8,56.7L94.5,56.5L95.0,56.4L95.8,56.3L96.2,56.2L97.0,56.1L97.8,56.1L98.5,56.0L99.2,56.0L100.0,56.0L100.8,56.1L101.5,56.1L102.2,56.2L102.8,56.2L103.5,56.3L104.2,56.5L104.8,56.6L105.5,56.7L106.0,56.8L106.6,57.0L107.2,57.2L107.8,57.4L108.2,57.6L108.8,57.8L109.2,58.1L109.8,58.3L110.2,58.7L110.7,59.0L111.0,59.3L111.4,59.8L111.7,60.2L111.9,60.8L112.0,61.4L112.0,61.8L111.8,62.5L111.5,63.0L111.2,63.4L110.9,63.8L110.5,64.1L110.0,64.5L109.6,64.8L109.1,65.0L108.6,65.2L108.0,65.5L107.5,65.7L107.0,65.9L106.5,66.0L105.8,66.2L105.2,66.3L104.5,66.5L104.0,66.6L103.2,66.7L102.8,66.8Z" fill="url(#pd3)" fill-opacity="1.0" clip-path="url(#c11a)"/><path d="M95.8,68.3L95.2,68.3L94.8,68.3L94.2,68.3L93.8,68.3L93.5,68.2L93.0,68.2L92.5,68.2L92.0,68.1L91.5,68.1L91.0,68.0L90.8,68.0L90.2,67.9L89.8,67.8L89.3,67.8L89.0,67.7L88.5,67.6L88.2,67.5L87.8,67.4L87.2,67.3L87.0,67.2L86.5,67.0L86.2,67.0L85.8,66.8L85.5,66.7L85.0,66.5L84.8,66.4L84.4,66.2L84.0,66.1L83.8,66.0L83.3,65.8L83.0,65.6L82.8,65.4L82.4,65.2L82.0,65.0L81.8,64.8L81.5,64.6L81.2,64.4L81.0,64.2L80.7,64.0L80.5,63.8L80.2,63.5L80.0,63.2L79.8,63.0L79.5,62.6L79.3,62.2L79.1,62.0L79.0,61.8L78.8,61.2L78.7,61.0L78.6,60.5L78.5,60.0L78.5,59.5L78.6,59.0L78.7,58.5L78.8,58.2L79.0,57.8L79.2,57.5L79.3,57.2L79.5,57.0L79.8,56.6L80.0,56.3L80.2,56.1L80.5,55.8L80.8,55.6L81.0,55.4L81.2,55.2L81.5,55.0L81.8,54.8L82.2,54.5L82.5,54.3L82.8,54.2L83.1,54.0L83.5,53.8L83.8,53.6L84.1,53.5L84.5,53.3L84.8,53.2L85.2,53.0L85.5,52.9L86.0,52.8L86.2,52.7L86.7,52.5L87.0,52.4L87.5,52.3L87.8,52.2L88.2,52.1L88.7,52.0L89.0,51.9L89.5,51.8L90.0,51.8L90.2,51.7L90.8,51.6L91.2,51.6L91.8,51.5L92.0,51.5L92.5,51.4L93.0,51.4L93.5,51.4L94.0,51.4L94.5,51.3L95.0,51.3L95.5,51.4L96.0,51.4L96.5,51.4L97.0,51.4L97.5,51.5L97.9,51.5L98.2,51.5L98.8,51.6L99.2,51.7L99.8,51.7L100.0,51.8L100.5,51.9L101.0,52.0L101.2,52.0L101.8,52.1L102.2,52.2L102.5,52.3L103.0,52.4L103.2,52.5L103.8,52.7L104.0,52.8L104.5,52.9L104.8,53.0L105.2,53.2L105.5,53.3L106.0,53.5L106.2,53.6L106.6,53.8L107.0,53.9L107.2,54.0L107.7,54.2L108.0,54.4L108.2,54.5L108.7,54.8L109.0,54.9L109.3,55.0L109.8,55.2L110.0,55.3L110.4,55.5L110.8,55.7L111.0,55.8L111.5,56.0L111.8,56.1L112.1,56.2L112.5,56.4L112.8,56.6L113.1,56.8L113.5,56.9L113.8,57.1L114.1,57.2L114.5,57.5L114.8,57.6L115.0,57.8L115.3,58.0L115.6,58.2L115.8,58.5L116.0,58.8L116.2,59.1L116.4,59.5L116.5,60.0L116.4,60.5L116.2,60.8L116.0,61.2L115.8,61.5L115.5,61.7L115.2,62.0L115.0,62.1L114.8,62.3L114.4,62.5L114.0,62.7L113.8,62.9L113.5,63.0L113.0,63.2L112.8,63.3L112.4,63.5L112.0,63.7L111.8,63.8L111.2,64.0L111.0,64.1L110.5,64.2L110.2,64.4L109.9,64.5L109.5,64.7L109.2,64.8L108.8,65.0L108.5,65.1L108.1,65.2L107.8,65.4L107.5,65.5L107.0,65.7L106.8,65.8L106.3,66.0L106.0,66.1L105.7,66.2L105.2,66.4L105.0,66.5L104.5,66.7L104.2,66.8L103.8,66.9L103.5,67.0L103.0,67.2L102.7,67.2L102.2,67.4L101.8,67.5L101.5,67.5L101.0,67.7L100.5,67.7L100.2,67.8L99.8,67.9L99.2,68.0L98.9,68.0L98.5,68.1L98.0,68.1L97.5,68.2L97.0,68.2L96.5,68.2L96.0,68.2L95.8,68.3Z" fill="#6a6a6a" filter="url(#bl1)" clip-path="url(#c11a)"/><path d="M97.5,66.0L97.0,66.1L96.5,66.2L96.0,66.2L95.5,66.2L95.0,66.2L94.5,66.2L94.0,66.2L93.5,66.2L93.0,66.2L92.5,66.1L92.0,66.1L91.5,66.0L91.2,66.0L90.8,65.9L90.2,65.8L90.0,65.7L89.5,65.6L89.2,65.5L88.8,65.3L88.5,65.2L88.0,65.1L87.8,65.0L87.2,64.8L87.0,64.6L86.7,64.5L86.2,64.3L86.0,64.1L85.8,64.0L85.4,63.8L85.1,63.5L84.8,63.3L84.5,63.0L84.2,62.8L84.0,62.5L83.8,62.3L83.6,62.0L83.4,61.8L83.2,61.5L83.0,61.0L82.9,60.8L82.8,60.2L82.8,59.8L82.8,59.2L83.0,58.8L83.1,58.5L83.2,58.1L83.5,57.8L83.6,57.5L83.8,57.2L84.1,57.0L84.3,56.8L84.6,56.5L84.9,56.2L85.2,56.0L85.5,55.8L85.8,55.7L86.0,55.5L86.5,55.2L86.8,55.1L87.0,55.0L87.5,54.8L87.8,54.7L88.2,54.5L88.5,54.4L88.9,54.2L89.2,54.1L89.8,54.0L90.0,53.9L90.5,53.8L90.9,53.8L91.2,53.7L91.8,53.6L92.2,53.5L92.7,53.5L93.0,53.5L93.5,53.4L94.0,53.4L94.5,53.4L95.0,53.4L95.5,53.4L96.0,53.5L96.5,53.5L96.8,53.5L97.2,53.6L97.8,53.6L98.2,53.7L98.5,53.8L99.0,53.9L99.5,54.0L99.8,54.0L100.2,54.1L100.7,54.2L101.0,54.3L101.5,54.5L101.8,54.6L102.2,54.7L102.5,54.8L103.0,55.0L103.2,55.1L103.6,55.2L104.0,55.4L104.2,55.5L104.8,55.7L105.0,55.8L105.4,56.0L105.8,56.1L106.0,56.2L106.5,56.4L106.8,56.5L107.2,56.7L107.5,56.8L108.0,57.0L108.2,57.1L108.7,57.2L109.0,57.4L109.4,57.5L109.8,57.6L110.0,57.8L110.5,57.9L110.8,58.1L111.1,58.2L111.5,58.5L111.8,58.6L112.0,58.8L112.2,59.0L112.5,59.3L112.7,59.8L112.7,60.2L112.5,60.6L112.2,60.9L112.0,61.1L111.8,61.3L111.5,61.5L111.0,61.8L110.8,61.9L110.4,62.0L110.0,62.2L109.8,62.3L109.2,62.4L109.0,62.5L108.5,62.7L108.2,62.8L107.8,62.9L107.5,63.0L107.0,63.2L106.8,63.3L106.2,63.4L106.0,63.5L105.5,63.7L105.2,63.8L104.8,64.0L104.5,64.1L104.0,64.2L103.8,64.4L103.4,64.5L103.0,64.6L102.7,64.8L102.2,64.9L101.9,65.0L101.5,65.1L101.1,65.2L100.8,65.4L100.2,65.5L100.0,65.6L99.5,65.7L99.1,65.8L98.8,65.8L98.2,65.9L97.8,66.0L97.5,66.0Z" fill="#e0e0e0" stroke="#7a7a7a" stroke-width="0.55" fill-rule="evenodd"/><path d="M96.8,64.8L96.2,64.8L95.8,64.9L95.2,64.9L94.8,64.9L94.2,65.0L93.8,64.9L93.2,64.9L92.8,64.9L92.2,64.8L91.9,64.8L91.5,64.7L91.0,64.6L90.8,64.5L90.2,64.3L90.0,64.2L89.5,64.1L89.2,64.0L88.8,63.8L88.5,63.6L88.2,63.5L87.9,63.2L87.5,63.0L87.2,62.8L87.0,62.6L86.8,62.3L86.5,62.1L86.3,61.8L86.1,61.5L85.9,61.2L85.8,60.8L85.6,60.5L85.6,60.0L85.6,59.5L85.7,59.0L85.8,58.8L86.0,58.3L86.2,58.0L86.4,57.8L86.6,57.5L86.8,57.2L87.1,57.0L87.4,56.8L87.8,56.5L88.0,56.4L88.2,56.2L88.7,56.0L89.0,55.8L89.2,55.7L89.8,55.5L90.0,55.4L90.5,55.3L90.8,55.2L91.2,55.1L91.7,55.0L92.0,54.9L92.5,54.9L93.0,54.8L93.5,54.8L93.9,54.8L94.2,54.7L94.8,54.7L95.0,54.8L95.5,54.8L96.0,54.8L96.5,54.9L97.0,55.0L97.2,55.0L97.8,55.1L98.2,55.2L98.5,55.3L99.0,55.4L99.3,55.5L99.8,55.6L100.1,55.8L100.5,55.9L100.8,56.0L101.2,56.2L101.5,56.3L102.0,56.5L102.2,56.6L102.6,56.8L103.0,56.9L103.2,57.1L103.7,57.2L104.0,57.4L104.3,57.5L104.8,57.7L105.0,57.8L105.5,58.0L105.8,58.1L106.1,58.2L106.5,58.4L106.8,58.5L107.2,58.7L107.5,58.8L107.8,59.0L108.2,59.2L108.5,59.5L108.7,59.8L108.6,60.2L108.4,60.5L108.1,60.8L107.8,60.9L107.5,61.0L107.0,61.2L106.8,61.4L106.4,61.5L106.0,61.6L105.7,61.8L105.2,61.9L105.0,62.0L104.5,62.2L104.2,62.3L103.8,62.5L103.5,62.6L103.0,62.8L102.8,62.9L102.4,63.0L102.0,63.2L101.8,63.3L101.2,63.5L101.0,63.6L100.5,63.8L100.2,63.8L99.8,64.0L99.5,64.1L99.0,64.2L98.8,64.3L98.2,64.5L98.0,64.5L97.5,64.6L97.0,64.7L96.8,64.8Z" fill="#d8d8d8" stroke="#7a7a7a" stroke-width="0.55" fill-rule="evenodd"/><path d="M94.5,64.0L94.0,64.0L93.6,64.0L93.2,64.0L92.8,63.9L92.2,63.8L91.8,63.8L91.5,63.7L91.0,63.5L90.8,63.4L90.3,63.2L90.0,63.1L89.8,63.0L89.4,62.8L89.0,62.5L88.8,62.3L88.5,62.1L88.2,61.8L88.0,61.5L87.8,61.2L87.7,61.0L87.5,60.5L87.4,60.2L87.4,59.8L87.5,59.2L87.6,59.0L87.8,58.6L88.0,58.2L88.2,58.0L88.4,57.8L88.6,57.5L89.0,57.2L89.2,57.0L89.5,56.9L89.8,56.8L90.2,56.5L90.5,56.4L90.9,56.2L91.2,56.1L91.8,56.0L92.0,55.9L92.5,55.9L93.0,55.8L93.3,55.8L93.8,55.7L94.2,55.7L94.8,55.7L95.2,55.8L95.5,55.8L96.0,55.8L96.5,55.9L96.8,56.0L97.2,56.1L97.8,56.2L98.0,56.3L98.5,56.5L98.8,56.6L99.2,56.8L99.5,56.9L99.8,57.0L100.2,57.2L100.5,57.4L100.8,57.5L101.1,57.8L101.5,58.0L101.8,58.1L102.0,58.3L102.3,58.5L102.6,58.8L102.9,59.0L103.1,59.2L103.3,59.5L103.4,60.0L103.2,60.4L103.0,60.7L102.8,60.9L102.5,61.1L102.2,61.3L101.9,61.5L101.5,61.7L101.2,61.9L101.0,62.0L100.6,62.2L100.2,62.4L100.0,62.6L99.6,62.8L99.2,62.9L99.0,63.0L98.5,63.2L98.2,63.3L97.8,63.5L97.5,63.5L97.0,63.7L96.6,63.8L96.2,63.8L95.8,63.9L95.2,64.0L94.8,64.0L94.5,64.0Z" fill="#dedede" stroke="#7a7a7a" stroke-width="0.55" fill-rule="evenodd"/><path d="M95.8,63.0L95.2,63.1L94.8,63.2L94.2,63.2L93.8,63.2L93.2,63.1L92.8,63.1L92.4,63.0L92.0,62.9L91.5,62.8L91.2,62.6L90.9,62.5L90.5,62.3L90.2,62.1L90.0,61.9L89.8,61.7L89.5,61.4L89.2,61.1L89.1,60.8L89.0,60.5L88.9,60.0L88.9,59.5L89.0,59.2L89.2,58.8L89.3,58.5L89.5,58.2L89.8,58.0L90.1,57.8L90.5,57.5L90.8,57.3L91.0,57.2L91.5,57.0L91.8,56.9L92.2,56.8L92.5,56.7L93.0,56.6L93.5,56.6L94.0,56.6L94.5,56.6L95.0,56.6L95.5,56.7L96.0,56.8L96.2,56.8L96.8,56.9L97.0,57.0L97.5,57.2L97.8,57.3L98.1,57.5L98.5,57.7L98.8,57.9L99.0,58.0L99.3,58.2L99.6,58.5L99.8,58.8L100.0,59.0L100.2,59.5L100.3,59.8L100.2,60.2L100.1,60.5L100.0,60.8L99.8,61.0L99.5,61.3L99.2,61.5L98.9,61.8L98.5,62.0L98.2,62.1L98.0,62.3L97.5,62.5L97.2,62.6L96.8,62.8L96.5,62.9L96.0,63.0L95.8,63.0Z" fill="#d4d4d4" stroke="#7a7a7a" stroke-width="0.55" fill-rule="evenodd"/><path d="M95.8,62.3L95.2,62.4L94.8,62.4L94.2,62.5L93.8,62.5L93.2,62.4L92.8,62.3L92.4,62.2L92.0,62.1L91.7,62.0L91.3,61.8L91.0,61.6L90.8,61.4L90.5,61.1L90.3,60.8L90.2,60.5L90.0,60.0L90.1,59.5L90.2,59.0L90.4,58.8L90.7,58.5L90.9,58.2L91.2,58.0L91.5,57.9L91.8,57.8L92.2,57.6L92.5,57.5L93.0,57.4L93.5,57.3L94.0,57.3L94.5,57.3L95.0,57.3L95.5,57.4L95.8,57.5L96.2,57.7L96.5,57.8L97.0,58.0L97.2,58.1L97.5,58.3L97.8,58.5L98.0,58.8L98.2,59.0L98.5,59.5L98.5,59.8L98.5,60.0L98.4,60.5L98.2,60.8L98.0,61.0L97.7,61.2L97.4,61.5L97.0,61.8L96.8,61.9L96.5,62.0L96.0,62.2L95.8,62.3Z" fill="#dcdcdc" stroke="#7a7a7a" stroke-width="0.55" fill-rule="evenodd"/><path d="M95.0,61.5L94.5,61.6L94.0,61.7L93.5,61.6L93.0,61.5L92.8,61.5L92.3,61.2L92.0,61.1L91.8,60.9L91.5,60.5L91.4,60.2L91.3,59.8L91.5,59.2L91.7,59.0L91.9,58.8L92.2,58.5L92.5,58.4L93.0,58.2L93.2,58.2L93.8,58.1L94.2,58.1L94.8,58.2L95.1,58.2L95.5,58.4L95.8,58.5L96.2,58.8L96.5,59.0L96.7,59.2L96.8,59.5L96.9,60.0L96.8,60.4L96.5,60.7L96.2,61.0L96.0,61.1L95.8,61.3L95.2,61.5L95.0,61.5Z" fill="#d0d0d0" stroke="#7a7a7a" stroke-width="0.55" fill-rule="evenodd"/><rect x="78" y="43.8" width="40.6" height="29.8" fill="none" stroke="#111" stroke-width="1.7"/><path d="M152.5,72.5L151.8,72.6L151.0,72.6L150.2,72.6L149.5,72.7L148.8,72.7L148.0,72.7L147.2,72.7L146.5,72.6L145.8,72.6L145.0,72.6L144.2,72.5L143.8,72.5L143.0,72.4L142.2,72.4L141.5,72.3L141.0,72.2L140.2,72.1L139.5,72.0L139.0,71.9L138.2,71.8L137.8,71.7L137.0,71.6L136.5,71.5L135.8,71.3L135.2,71.2L134.5,71.1L134.0,70.9L133.3,70.8L132.8,70.6L132.2,70.5L131.5,70.3L131.0,70.1L130.5,69.9L129.9,69.8L129.2,69.5L128.8,69.4L128.2,69.2L127.8,69.0L127.1,68.8L126.5,68.5L126.0,68.3L125.5,68.1L125.0,68.0L124.5,67.8L123.8,67.5L123.2,67.3L122.8,67.1L122.2,66.9L121.8,66.7L121.2,66.5L120.6,66.2L120.0,66.0L119.5,65.8L119.0,65.6L118.5,65.4L118.0,65.2L117.5,65.0L117.0,64.7L116.5,64.5L116.0,64.2L115.5,64.0L115.0,63.7L114.5,63.4L114.0,63.1L113.5,62.8L113.1,62.5L112.8,62.2L112.3,61.8L112.0,61.5L111.6,61.0L111.3,60.5L111.1,60.0L111.0,59.5L111.0,58.8L111.1,58.2L111.2,57.7L111.5,57.2L111.9,56.8L112.2,56.3L112.6,56.0L113.0,55.7L113.5,55.3L114.0,55.0L114.4,54.8L114.8,54.5L115.3,54.2L115.8,54.0L116.4,53.8L117.0,53.5L117.5,53.3L118.0,53.1L118.5,53.0L119.1,52.8L119.8,52.6L120.2,52.4L120.8,52.2L121.5,52.1L122.0,51.9L122.7,51.8L123.2,51.6L123.8,51.5L124.5,51.3L125.0,51.2L125.8,51.0L126.2,50.9L127.0,50.8L127.5,50.7L128.2,50.5L128.8,50.4L129.4,50.2L130.0,50.1L130.5,50.0L131.2,49.8L131.8,49.7L132.5,49.5L133.0,49.4L133.7,49.2L134.2,49.1L134.8,49.0L135.5,48.8L136.0,48.7L136.8,48.5L137.2,48.4L137.9,48.2L138.5,48.1L139.1,48.0L139.8,47.9L140.3,47.8L141.0,47.6L141.8,47.5L142.2,47.4L143.0,47.3L143.5,47.2L144.2,47.2L145.0,47.1L145.8,47.0L146.2,47.0L147.0,47.0L147.8,46.9L148.5,46.9L149.2,46.9L150.0,47.0L150.8,47.0L151.2,47.0L152.0,47.1L152.8,47.2L153.4,47.2L154.0,47.3L154.8,47.5L155.2,47.6L156.0,47.7L156.5,47.8L157.2,48.0L157.8,48.2L158.2,48.3L158.9,48.5L159.5,48.7L160.0,48.9L160.5,49.1L161.0,49.3L161.5,49.5L162.0,49.8L162.5,50.0L163.0,50.3L163.5,50.6L164.0,50.9L164.5,51.2L164.9,51.5L165.2,51.8L165.8,52.2L166.1,52.5L166.5,52.9L166.9,53.2L167.2,53.7L167.5,54.0L167.9,54.5L168.2,55.0L168.5,55.5L168.7,56.0L168.9,56.5L169.1,57.0L169.2,57.7L169.3,58.2L169.4,59.0L169.4,59.8L169.4,60.5L169.4,61.2L169.3,62.0L169.3,62.8L169.3,63.5L169.3,64.2L169.2,64.8L169.2,65.5L169.0,66.1L168.8,66.7L168.5,67.2L168.2,67.5L167.8,68.0L167.5,68.3L167.0,68.7L166.5,69.0L166.1,69.2L165.6,69.5L165.1,69.8L164.5,70.0L164.0,70.2L163.5,70.4L163.0,70.6L162.5,70.8L161.8,71.0L161.2,71.1L160.7,71.2L160.0,71.4L159.5,71.5L158.8,71.7L158.2,71.8L157.5,71.9L157.0,72.0L156.2,72.1L155.5,72.2L155.0,72.3L154.2,72.4L153.5,72.4L152.8,72.5Z" fill="url(#pd1)" fill-opacity="1.0" clip-path="url(#c11b)"/><path d="M152.0,71.0L151.2,71.1L150.5,71.1L149.8,71.1L149.0,71.1L148.2,71.2L147.5,71.1L146.8,71.1L146.0,71.1L145.2,71.1L144.5,71.0L144.0,71.0L143.2,70.9L142.5,70.8L142.0,70.8L141.2,70.7L140.5,70.5L140.0,70.5L139.2,70.3L138.8,70.2L138.0,70.1L137.5,70.0L136.8,69.8L136.2,69.6L135.7,69.5L135.0,69.3L134.5,69.1L134.0,69.0L133.3,68.8L132.8,68.6L132.2,68.4L131.8,68.2L131.2,68.0L130.6,67.8L130.0,67.5L129.5,67.3L129.0,67.1L128.5,66.9L128.0,66.7L127.5,66.5L126.9,66.2L126.3,66.0L125.8,65.8L125.2,65.6L124.8,65.4L124.2,65.2L123.7,65.0L123.1,64.8L122.5,64.5L122.0,64.3L121.5,64.1L121.0,63.9L120.5,63.6L120.0,63.4L119.5,63.1L119.0,62.9L118.5,62.6L118.0,62.2L117.7,62.0L117.2,61.7L116.8,61.2L116.5,60.9L116.2,60.5L115.9,60.0L115.8,59.3L115.7,58.8L115.9,58.2L116.1,57.8L116.4,57.2L116.8,56.9L117.2,56.5L117.5,56.2L118.0,55.9L118.5,55.6L119.0,55.3L119.5,55.0L120.0,54.8L120.5,54.6L121.0,54.4L121.5,54.2L122.0,54.0L122.8,53.8L123.2,53.6L123.8,53.5L124.5,53.2L125.0,53.1L125.5,53.0L126.2,52.8L126.8,52.7L127.4,52.5L128.0,52.4L128.5,52.2L129.2,52.1L129.8,52.0L130.5,51.8L131.0,51.7L131.8,51.5L132.2,51.4L132.9,51.2L133.5,51.1L134.0,51.0L134.8,50.8L135.2,50.7L136.0,50.5L136.5,50.4L137.2,50.3L137.8,50.1L138.4,50.0L139.0,49.9L139.6,49.8L140.2,49.6L141.0,49.5L141.5,49.4L142.2,49.3L142.8,49.2L143.5,49.1L144.2,49.0L144.8,49.0L145.5,48.9L146.2,48.9L147.0,48.8L147.8,48.8L148.5,48.8L149.2,48.8L150.0,48.9L150.8,48.9L151.5,49.0L152.0,49.0L152.8,49.1L153.4,49.2L154.0,49.4L154.7,49.5L155.2,49.6L155.8,49.8L156.5,50.0L157.0,50.1L157.5,50.3L158.1,50.5L158.8,50.7L159.2,51.0L159.8,51.2L160.2,51.4L160.8,51.7L161.2,52.0L161.6,52.2L162.0,52.5L162.5,52.9L163.0,53.2L163.3,53.5L163.8,54.0L164.0,54.2L164.4,54.8L164.8,55.2L165.0,55.5L165.3,56.0L165.5,56.5L165.8,57.1L165.9,57.8L166.0,58.2L166.1,59.0L166.1,59.8L166.0,60.5L166.0,61.0L165.9,61.8L165.8,62.5L165.7,63.0L165.5,63.8L165.4,64.2L165.2,65.0L165.1,65.5L164.8,66.0L164.5,66.5L164.2,66.9L163.9,67.2L163.5,67.6L163.0,68.0L162.6,68.2L162.2,68.5L161.7,68.8L161.2,69.0L160.6,69.2L160.0,69.5L159.5,69.6L159.0,69.8L158.2,70.0L157.8,70.1L157.2,70.2L156.5,70.4L155.9,70.5L155.2,70.6L154.5,70.7L154.0,70.8L153.2,70.9L152.5,71.0L152.0,71.0Z" fill="url(#pw2)" fill-opacity="1.0" clip-path="url(#c11b)"/><path d="M150.0,69.8L149.2,69.8L148.5,69.8L147.8,69.8L147.0,69.8L146.2,69.8L145.8,69.7L145.0,69.7L144.2,69.6L143.5,69.5L143.0,69.5L142.2,69.4L141.6,69.2L141.0,69.1L140.3,69.0L139.8,68.9L139.2,68.8L138.5,68.6L138.0,68.4L137.4,68.2L136.8,68.1L136.2,67.9L135.8,67.7L135.2,67.5L134.5,67.2L134.0,67.0L133.5,66.8L133.0,66.6L132.5,66.4L132.0,66.2L131.5,66.0L130.9,65.8L130.3,65.5L129.8,65.3L129.2,65.1L128.8,64.9L128.2,64.7L127.7,64.5L127.1,64.2L126.5,64.0L126.0,63.8L125.5,63.6L125.0,63.4L124.5,63.2L124.0,62.9L123.5,62.7L123.0,62.4L122.5,62.1L122.0,61.8L121.5,61.5L121.2,61.2L120.8,60.8L120.5,60.5L120.1,60.0L120.0,59.5L119.9,58.8L120.1,58.2L120.3,57.8L120.8,57.3L121.0,57.0L121.5,56.6L122.0,56.3L122.5,56.0L123.0,55.8L123.5,55.5L124.0,55.3L124.5,55.1L125.0,54.9L125.5,54.7L126.2,54.5L126.8,54.3L127.2,54.2L127.9,54.0L128.5,53.8L129.0,53.7L129.8,53.5L130.2,53.4L130.8,53.2L131.5,53.1L132.0,52.9L132.8,52.8L133.2,52.6L133.9,52.5L134.5,52.4L135.0,52.2L135.8,52.1L136.2,52.0L137.0,51.8L137.5,51.7L138.2,51.5L138.8,51.4L139.5,51.3L140.0,51.2L140.8,51.0L141.2,50.9L142.0,50.8L142.5,50.8L143.2,50.7L144.0,50.6L144.7,50.5L145.2,50.4L146.0,50.4L146.8,50.4L147.5,50.4L148.2,50.4L149.0,50.4L149.8,50.4L150.5,50.5L151.0,50.5L151.8,50.6L152.5,50.7L153.0,50.8L153.8,51.0L154.2,51.1L154.9,51.2L155.5,51.4L156.0,51.6L156.5,51.8L157.1,52.0L157.6,52.2L158.2,52.5L158.6,52.8L159.1,53.0L159.5,53.3L160.0,53.6L160.5,54.0L160.8,54.2L161.2,54.6L161.6,55.0L162.0,55.5L162.2,55.8L162.5,56.2L162.8,56.8L163.0,57.3L163.2,58.0L163.3,58.5L163.3,59.2L163.3,60.0L163.2,60.5L163.1,61.2L163.0,61.8L162.8,62.5L162.6,63.0L162.5,63.5L162.2,64.1L162.0,64.7L161.8,65.2L161.5,65.6L161.2,66.0L160.8,66.5L160.5,66.8L160.0,67.1L159.5,67.5L159.0,67.7L158.5,68.0L158.0,68.2L157.5,68.4L157.0,68.6L156.5,68.8L155.8,68.9L155.2,69.1L154.5,69.2L154.0,69.3L153.2,69.4L152.8,69.5L152.0,69.6L151.2,69.7L150.5,69.7L150.0,69.8Z" fill="url(#pd3)" fill-opacity="1.0" clip-path="url(#c11b)"/><path d="M150.8,68.3L150.0,68.3L149.2,68.4L148.5,68.4L147.8,68.4L147.0,68.4L146.2,68.4L145.5,68.3L144.8,68.2L144.2,68.2L143.5,68.1L143.0,68.0L142.2,67.9L141.7,67.8L141.0,67.6L140.5,67.4L139.8,67.2L139.2,67.1L138.8,66.9L138.2,66.7L137.6,66.5L137.0,66.3L136.5,66.1L136.0,65.9L135.5,65.7L135.0,65.5L134.5,65.2L133.9,65.0L133.3,64.8L132.8,64.5L132.2,64.3L131.8,64.1L131.2,63.9L130.8,63.7L130.2,63.5L129.6,63.2L129.0,63.0L128.5,62.8L128.0,62.6L127.5,62.3L127.0,62.1L126.5,61.8L126.0,61.5L125.6,61.2L125.2,61.0L124.8,60.6L124.5,60.2L124.2,59.8L124.0,59.0L124.2,58.2L124.5,57.8L124.8,57.5L125.2,57.1L125.8,56.8L126.2,56.5L126.7,56.2L127.2,56.0L127.8,55.8L128.2,55.6L128.8,55.4L129.2,55.2L130.0,55.0L130.5,54.8L131.0,54.7L131.7,54.5L132.2,54.3L132.8,54.2L133.5,54.0L134.0,53.9L134.5,53.7L135.2,53.6L135.8,53.4L136.5,53.3L137.0,53.1L137.7,53.0L138.2,52.9L138.8,52.8L139.5,52.6L140.1,52.5L140.8,52.4L141.5,52.3L142.0,52.2L142.8,52.1L143.2,52.0L144.0,51.9L144.8,51.8L145.5,51.8L146.2,51.8L146.8,51.7L147.5,51.7L148.2,51.7L148.8,51.8L149.5,51.8L150.2,51.9L151.0,52.0L151.5,52.0L152.2,52.2L152.8,52.3L153.5,52.5L154.0,52.6L154.5,52.8L155.1,53.0L155.8,53.2L156.2,53.5L156.8,53.7L157.2,54.0L157.7,54.2L158.0,54.5L158.5,54.9L158.9,55.2L159.2,55.6L159.6,56.0L160.0,56.5L160.2,57.0L160.5,57.5L160.6,58.0L160.8,58.5L160.8,59.2L160.8,59.9L160.7,60.5L160.5,61.1L160.3,61.8L160.1,62.2L159.9,62.8L159.6,63.2L159.4,63.8L159.1,64.2L158.8,64.7L158.5,65.0L158.1,65.5L157.8,65.8L157.2,66.2L156.8,66.5L156.4,66.8L155.9,67.0L155.3,67.2L154.8,67.4L154.2,67.6L153.7,67.8L153.0,67.9L152.5,68.0L151.8,68.1L151.0,68.2Z" fill="url(#pw4)" fill-opacity="1.0" clip-path="url(#c11b)"/><path d="M148.8,67.0L148.0,67.0L147.2,67.0L146.5,67.0L146.0,67.0L145.2,66.9L144.5,66.8L144.0,66.7L143.2,66.6L142.8,66.5L142.0,66.3L141.5,66.2L141.0,66.0L140.2,65.8L139.8,65.6L139.2,65.4L138.8,65.2L138.1,65.0L137.5,64.8L137.0,64.6L136.5,64.4L136.0,64.2L135.5,64.0L135.0,63.8L134.3,63.5L133.8,63.3L133.2,63.0L132.8,62.8L132.2,62.6L131.8,62.4L131.2,62.2L130.8,61.9L130.2,61.7L129.8,61.4L129.2,61.1L128.8,60.8L128.5,60.5L128.0,60.0L127.8,59.5L127.7,59.0L127.8,58.5L128.1,58.0L128.5,57.6L129.0,57.3L129.4,57.0L129.9,56.8L130.4,56.5L130.9,56.2L131.5,56.0L132.0,55.8L132.5,55.7L133.0,55.5L133.7,55.2L134.2,55.1L134.8,54.9L135.4,54.8L136.0,54.6L136.5,54.5L137.2,54.3L137.8,54.2L138.4,54.0L139.0,53.9L139.6,53.8L140.2,53.6L140.8,53.5L141.5,53.4L142.2,53.3L142.8,53.2L143.5,53.1L144.2,53.0L144.8,53.0L145.5,52.9L146.2,52.9L147.0,52.9L147.8,52.9L148.5,52.9L149.2,53.0L149.8,53.0L150.5,53.1L151.2,53.2L151.8,53.4L152.3,53.5L153.0,53.7L153.5,53.9L154.0,54.0L154.5,54.3L155.0,54.5L155.5,54.8L156.0,55.1L156.5,55.4L156.9,55.8L157.2,56.1L157.6,56.5L158.0,57.0L158.2,57.5L158.4,58.0L158.5,58.5L158.6,59.2L158.5,60.0L158.4,60.5L158.2,61.0L158.0,61.5L157.8,62.0L157.5,62.5L157.1,63.0L156.8,63.5L156.5,63.8L156.1,64.2L155.8,64.6L155.3,65.0L154.9,65.2L154.5,65.5L154.0,65.8L153.5,66.0L152.9,66.2L152.2,66.4L151.8,66.6L151.0,66.7L150.5,66.8L149.8,66.9L149.0,67.0Z" fill="url(#pd5)" fill-opacity="1.0" clip-path="url(#c11b)"/><path d="M148.0,65.5L147.2,65.5L146.5,65.5L146.0,65.5L145.2,65.4L144.5,65.3L144.0,65.2L143.2,65.1L142.8,64.9L142.0,64.8L141.5,64.6L141.0,64.4L140.4,64.2L139.8,64.0L139.2,63.9L138.8,63.7L138.2,63.5L137.6,63.2L137.0,63.0L136.5,62.8L136.0,62.6L135.5,62.4L135.0,62.2L134.5,61.9L134.0,61.7L133.5,61.4L133.0,61.1L132.5,60.8L132.1,60.5L131.8,60.2L131.4,59.8L131.2,59.1L131.3,58.8L131.5,58.2L132.0,57.8L132.3,57.5L132.8,57.2L133.2,57.0L133.8,56.7L134.2,56.5L134.8,56.2L135.5,56.0L136.0,55.8L136.5,55.7L137.1,55.5L137.8,55.3L138.2,55.2L138.9,55.0L139.5,54.9L140.0,54.7L140.8,54.6L141.2,54.5L142.0,54.4L142.7,54.2L143.2,54.2L144.0,54.1L144.8,54.0L145.2,54.0L146.0,54.0L146.8,53.9L147.5,54.0L148.2,54.0L148.8,54.0L149.5,54.1L150.2,54.2L150.8,54.4L151.3,54.5L152.0,54.7L152.5,54.9L153.0,55.1L153.5,55.3L154.0,55.6L154.5,55.9L155.0,56.2L155.3,56.5L155.7,57.0L156.0,57.4L156.2,57.8L156.5,58.5L156.5,59.0L156.5,59.5L156.3,60.2L156.2,60.8L155.9,61.2L155.6,61.8L155.2,62.2L155.0,62.5L154.5,63.0L154.2,63.2L153.8,63.6L153.2,64.0L152.8,64.2L152.3,64.5L151.8,64.7L151.2,64.9L150.8,65.1L150.0,65.2L149.5,65.4L148.8,65.5L148.1,65.5Z" fill="url(#pw5)" fill-opacity="1.0" clip-path="url(#c11b)"/><path d="M153.0,69.0L152.5,69.0L152.0,69.0L151.5,69.0L151.0,69.0L150.6,69.0L150.2,69.0L149.8,68.9L149.2,68.9L148.8,68.8L148.5,68.7L148.0,68.7L147.5,68.5L147.2,68.5L146.8,68.4L146.3,68.2L146.0,68.2L145.5,68.0L145.2,67.9L144.8,67.8L144.5,67.7L144.1,67.5L143.8,67.4L143.4,67.2L143.0,67.1L142.7,67.0L142.2,66.8L142.0,66.7L141.5,66.5L141.2,66.5L140.8,66.3L140.5,66.2L140.0,66.0L139.8,66.0L139.2,65.8L139.0,65.8L138.5,65.6L138.0,65.5L137.8,65.5L137.2,65.4L136.8,65.3L136.5,65.2L136.0,65.2L135.5,65.1L135.0,65.1L134.6,65.0L134.2,65.0L133.8,64.9L133.2,64.9L132.8,64.8L132.3,64.8L132.0,64.7L131.5,64.7L131.0,64.6L130.5,64.5L130.1,64.5L129.8,64.5L129.2,64.4L128.8,64.3L128.4,64.2L128.0,64.2L127.5,64.1L127.0,64.0L126.7,64.0L126.2,64.0L125.8,63.9L125.2,64.0L125.0,64.0L124.5,64.1L124.0,64.2L123.8,64.3L123.2,64.5L123.0,64.6L122.5,64.7L122.0,64.7L121.5,64.7L121.0,64.6L120.7,64.5L120.2,64.3L120.0,64.2L119.8,64.0L119.5,63.8L119.2,63.5L119.0,63.2L118.8,63.0L118.5,62.7L118.2,62.3L118.1,62.0L118.0,61.8L117.8,61.2L117.7,61.0L117.6,60.5L117.5,60.0L117.6,59.5L117.7,59.0L117.8,58.7L117.9,58.2L118.0,58.0L118.2,57.7L118.5,57.3L118.7,57.0L118.9,56.8L119.2,56.5L119.5,56.2L119.8,56.1L120.0,55.9L120.3,55.8L120.8,55.5L121.0,55.5L121.5,55.4L122.0,55.3L122.5,55.4L123.0,55.4L123.5,55.5L123.8,55.5L124.2,55.6L124.8,55.7L125.2,55.7L125.8,55.7L126.2,55.7L126.8,55.6L127.2,55.5L127.5,55.5L128.0,55.4L128.5,55.3L129.0,55.2L129.2,55.2L129.8,55.1L130.2,55.1L130.8,55.0L131.0,55.0L131.5,54.9L132.0,54.8L132.5,54.8L132.8,54.7L133.2,54.7L133.8,54.6L134.2,54.5L134.6,54.5L135.0,54.4L135.5,54.3L135.9,54.2L136.2,54.2L136.8,54.1L137.0,54.0L137.5,53.9L137.8,53.8L138.2,53.6L138.6,53.5L139.0,53.3L139.2,53.2L139.7,53.0L140.0,52.9L140.2,52.7L140.7,52.5L141.0,52.3L141.2,52.2L141.6,52.0L142.0,51.8L142.2,51.6L142.5,51.5L143.0,51.2L143.2,51.1L143.5,51.0L144.0,50.8L144.2,50.6L144.6,50.5L145.0,50.3L145.2,50.2L145.8,50.0L146.0,49.9L146.5,49.8L146.8,49.7L147.2,49.6L147.6,49.5L148.0,49.4L148.5,49.3L148.8,49.2L149.2,49.2L149.8,49.1L150.2,49.1L150.8,49.0L151.0,49.0L151.5,49.0L152.0,49.0L152.5,49.0L153.0,49.0L153.2,49.0L153.8,49.1L154.2,49.1L154.8,49.2L155.2,49.2L155.5,49.3L156.0,49.4L156.4,49.5L156.8,49.6L157.2,49.7L157.5,49.8L158.0,50.0L158.2,50.1L158.7,50.2L159.0,50.4L159.3,50.5L159.8,50.7L160.0,50.8L160.3,51.0L160.8,51.2L161.0,51.4L161.2,51.6L161.5,51.8L161.9,52.0L162.2,52.2L162.5,52.5L162.8,52.7L163.0,52.9L163.2,53.2L163.5,53.4L163.8,53.7L164.0,54.0L164.2,54.2L164.4,54.5L164.5,54.8L164.8,55.1L165.0,55.5L165.1,55.8L165.2,56.0L165.4,56.5L165.5,56.8L165.7,57.2L165.8,57.5L165.8,58.0L165.9,58.5L165.9,59.0L165.9,59.5L165.9,60.0L165.8,60.5L165.7,60.8L165.6,61.2L165.5,61.5L165.3,62.0L165.2,62.2L165.0,62.6L164.8,63.0L164.6,63.2L164.4,63.5L164.2,63.8L164.0,64.1L163.8,64.4L163.5,64.6L163.2,64.9L163.0,65.1L162.8,65.3L162.5,65.6L162.2,65.8L161.9,66.0L161.6,66.2L161.2,66.5L161.0,66.6L160.8,66.8L160.4,67.0L160.0,67.2L159.8,67.3L159.4,67.5L159.0,67.7L158.8,67.8L158.2,68.0L158.0,68.0L157.5,68.2L157.2,68.3L156.8,68.4L156.5,68.5L156.0,68.6L155.5,68.7L155.2,68.8L154.8,68.8L154.2,68.9L153.8,69.0L153.2,69.0L153.0,69.0Z" fill="#3a3a3a" filter="url(#bl1)" clip-path="url(#c11b)"/><path d="M153.8,67.5L153.2,67.6L152.8,67.6L152.2,67.6L151.8,67.6L151.2,67.6L150.8,67.6L150.2,67.5L149.8,67.5L149.5,67.5L149.0,67.4L148.5,67.3L148.2,67.2L147.8,67.2L147.2,67.0L147.0,67.0L146.5,66.8L146.2,66.8L145.8,66.6L145.4,66.5L145.0,66.4L144.7,66.2L144.2,66.1L144.0,66.0L143.5,65.8L143.2,65.7L142.8,65.6L142.5,65.5L142.0,65.3L141.8,65.2L141.2,65.1L141.0,65.0L140.5,64.8L140.2,64.8L139.8,64.6L139.2,64.5L139.0,64.5L138.5,64.4L138.0,64.3L137.8,64.2L137.2,64.1L136.8,64.1L136.3,64.0L136.0,64.0L135.5,63.9L135.0,63.8L134.5,63.8L134.2,63.7L133.8,63.7L133.2,63.6L132.8,63.6L132.3,63.5L132.0,63.5L131.5,63.4L131.0,63.3L130.5,63.2L130.2,63.2L129.8,63.1L129.2,63.0L129.0,63.0L128.5,62.9L128.0,62.8L127.8,62.7L127.2,62.6L126.9,62.5L126.5,62.4L126.0,62.4L125.5,62.4L125.0,62.4L124.7,62.5L124.2,62.7L124.0,62.8L123.5,63.0L123.2,63.1L122.8,63.2L122.5,63.3L122.0,63.4L121.5,63.4L121.0,63.2L120.8,63.1L120.5,63.0L120.2,62.8L119.9,62.5L119.7,62.2L119.5,61.9L119.3,61.5L119.2,61.2L119.0,60.8L119.0,60.5L119.0,60.0L119.0,59.5L119.0,59.2L119.2,58.8L119.3,58.5L119.5,58.1L119.8,57.8L120.0,57.5L120.2,57.3L120.5,57.1L120.8,56.9L121.2,56.8L121.5,56.7L122.0,56.7L122.5,56.7L122.8,56.8L123.2,56.8L123.8,57.0L124.0,57.1L124.5,57.2L124.8,57.3L125.2,57.3L125.8,57.3L126.2,57.3L126.5,57.2L127.0,57.1L127.4,57.0L127.8,56.9L128.2,56.8L128.5,56.7L129.0,56.6L129.5,56.5L129.8,56.5L130.2,56.4L130.8,56.3L131.1,56.2L131.5,56.2L132.0,56.1L132.5,56.0L132.8,56.0L133.2,55.9L133.8,55.9L134.2,55.8L134.6,55.8L135.0,55.7L135.5,55.6L136.0,55.5L136.2,55.5L136.8,55.4L137.2,55.3L137.5,55.2L138.0,55.1L138.3,55.0L138.8,54.9L139.1,54.8L139.5,54.6L139.8,54.5L140.2,54.3L140.5,54.2L140.9,54.0L141.2,53.8L141.5,53.7L141.9,53.5L142.2,53.3L142.5,53.2L142.9,53.0L143.2,52.8L143.5,52.7L143.8,52.5L144.2,52.3L144.5,52.2L144.9,52.0L145.2,51.8L145.5,51.7L146.0,51.5L146.2,51.4L146.8,51.3L147.0,51.2L147.5,51.0L147.8,51.0L148.2,50.8L148.7,50.8L149.0,50.7L149.5,50.6L150.0,50.5L150.4,50.5L150.8,50.5L151.2,50.4L151.8,50.4L152.2,50.4L152.8,50.4L153.2,50.5L153.6,50.5L154.0,50.5L154.5,50.6L155.0,50.7L155.2,50.8L155.8,50.9L156.2,51.0L156.5,51.1L157.0,51.2L157.2,51.3L157.7,51.5L158.0,51.6L158.3,51.8L158.8,52.0L159.0,52.1L159.3,52.2L159.7,52.5L160.0,52.7L160.2,52.9L160.5,53.0L160.8,53.2L161.1,53.5L161.4,53.8L161.6,54.0L161.9,54.2L162.1,54.5L162.3,54.8L162.5,55.0L162.8,55.4L163.0,55.8L163.1,56.0L163.3,56.2L163.5,56.8L163.6,57.0L163.7,57.5L163.8,57.8L163.9,58.2L163.9,58.8L163.9,59.2L163.9,59.8L163.8,60.2L163.8,60.6L163.6,61.0L163.5,61.3L163.3,61.8L163.2,62.0L163.0,62.4L162.8,62.7L162.6,63.0L162.4,63.2L162.2,63.5L161.9,63.8L161.7,64.0L161.4,64.2L161.2,64.5L160.9,64.8L160.5,65.0L160.2,65.2L160.0,65.4L159.8,65.5L159.4,65.8L159.0,66.0L158.8,66.1L158.4,66.2L158.0,66.4L157.8,66.5L157.2,66.7L157.0,66.8L156.5,67.0L156.2,67.0L155.8,67.2L155.4,67.2L155.0,67.3L154.5,67.4L154.0,67.5L153.8,67.5Z" fill="#111" filter="url(#bl05)" clip-path="url(#c11b)"/><path d="M123,60.6 Q134,57 146,54.6 L146,64.8 Q134,63.4 123,61 Z" fill="#f4f4f4" filter="url(#bl05)"/><path d="M153.2,66.0L152.8,66.1L152.2,66.1L151.8,66.1L151.2,66.1L150.8,66.0L150.5,66.0L150.0,65.9L149.5,65.8L149.2,65.8L148.8,65.6L148.3,65.5L148.0,65.4L147.6,65.2L147.2,65.1L147.0,65.0L146.5,64.8L146.2,64.6L146.0,64.4L145.7,64.2L145.4,64.0L145.1,63.8L144.8,63.5L144.5,63.2L144.3,63.0L144.1,62.8L143.9,62.5L143.7,62.2L143.5,62.0L143.3,61.5L143.1,61.2L143.0,60.9L142.9,60.5L142.8,60.0L142.7,59.8L142.7,59.2L142.7,58.8L142.8,58.3L142.8,58.0L142.9,57.5L143.0,57.2L143.2,56.8L143.4,56.5L143.5,56.2L143.8,55.9L144.0,55.5L144.2,55.2L144.5,55.0L144.7,54.8L145.0,54.5L145.2,54.3L145.5,54.1L145.8,53.9L146.0,53.8L146.4,53.5L146.8,53.3L147.0,53.2L147.5,53.0L147.8,52.9L148.1,52.8L148.5,52.6L149.0,52.5L149.2,52.4L149.8,52.3L150.2,52.2L150.5,52.2L151.0,52.2L151.5,52.1L152.0,52.1L152.5,52.1L153.0,52.2L153.5,52.2L153.8,52.2L154.2,52.3L154.8,52.4L155.0,52.5L155.5,52.6L155.9,52.8L156.2,52.9L156.5,53.0L157.0,53.2L157.2,53.3L157.6,53.5L158.0,53.8L158.2,53.9L158.5,54.1L158.8,54.3L159.0,54.5L159.3,54.8L159.5,55.0L159.8,55.2L160.0,55.5L160.2,55.9L160.5,56.2L160.6,56.5L160.8,56.8L161.0,57.2L161.1,57.5L161.2,58.0L161.2,58.3L161.3,58.8L161.3,59.2L161.3,59.8L161.2,60.0L161.1,60.5L161.0,60.9L160.9,61.2L160.7,61.5L160.5,62.0L160.3,62.2L160.1,62.5L159.9,62.8L159.7,63.0L159.5,63.2L159.2,63.5L158.9,63.8L158.6,64.0L158.3,64.2L158.0,64.4L157.8,64.6L157.5,64.8L157.0,65.0L156.8,65.1L156.4,65.2L156.0,65.4L155.7,65.5L155.2,65.6L154.8,65.8L154.5,65.8L154.0,65.9L153.5,66.0L153.2,66.0Z" fill="#7e7e7e" stroke="#1a1a1a" stroke-width="0.55" fill-rule="evenodd"/><path d="M153.5,64.8L153.0,64.8L152.5,64.9L152.0,64.9L151.5,64.9L151.0,64.8L150.5,64.8L150.2,64.7L149.8,64.6L149.3,64.5L149.0,64.4L148.5,64.2L148.2,64.1L147.9,64.0L147.5,63.8L147.2,63.6L147.0,63.5L146.7,63.2L146.3,63.0L146.0,62.8L145.8,62.5L145.6,62.2L145.4,62.0L145.2,61.8L145.0,61.5L144.8,61.0L144.6,60.8L144.5,60.4L144.4,60.0L144.3,59.5L144.3,59.0L144.4,58.5L144.5,58.0L144.5,57.8L144.7,57.2L144.8,57.0L145.0,56.7L145.2,56.3L145.5,56.0L145.7,55.8L146.0,55.5L146.2,55.3L146.5,55.1L146.8,54.9L147.0,54.7L147.4,54.5L147.8,54.3L148.0,54.2L148.4,54.0L148.8,53.9L149.1,53.8L149.5,53.6L150.0,53.5L150.2,53.5L150.8,53.4L151.2,53.4L151.8,53.3L152.2,53.3L152.8,53.4L153.2,53.4L153.8,53.5L154.0,53.5L154.5,53.6L154.9,53.8L155.2,53.9L155.6,54.0L156.0,54.2L156.2,54.3L156.6,54.5L157.0,54.7L157.2,54.9L157.5,55.1L157.8,55.3L158.0,55.5L158.3,55.8L158.5,56.0L158.8,56.3L159.0,56.7L159.2,57.0L159.3,57.2L159.5,57.8L159.5,58.0L159.6,58.5L159.7,59.0L159.7,59.5L159.6,60.0L159.5,60.4L159.4,60.8L159.2,61.0L159.0,61.5L158.8,61.8L158.6,62.0L158.4,62.2L158.2,62.5L158.0,62.8L157.7,63.0L157.3,63.2L157.0,63.5L156.8,63.6L156.5,63.8L156.1,64.0L155.8,64.1L155.5,64.2L155.0,64.4L154.7,64.5L154.2,64.6L153.8,64.7L153.5,64.8Z" fill="#959595" stroke="#1a1a1a" stroke-width="0.55" fill-rule="evenodd"/><path d="M152.8,63.8L152.2,63.8L151.8,63.8L151.2,63.8L151.0,63.7L150.5,63.7L150.0,63.6L149.8,63.5L149.2,63.3L149.0,63.2L148.5,63.0L148.2,62.9L148.0,62.7L147.7,62.5L147.4,62.2L147.1,62.0L146.8,61.8L146.6,61.5L146.4,61.2L146.2,61.0L146.0,60.5L145.9,60.2L145.8,59.8L145.8,59.4L145.7,59.0L145.8,58.8L145.8,58.2L146.0,57.8L146.1,57.5L146.2,57.2L146.5,56.9L146.8,56.5L147.0,56.3L147.2,56.0L147.5,55.8L147.8,55.6L148.0,55.5L148.4,55.2L148.8,55.1L149.0,55.0L149.5,54.8L149.8,54.7L150.2,54.6L150.7,54.5L151.0,54.5L151.5,54.4L152.0,54.4L152.5,54.4L153.0,54.5L153.3,54.5L153.8,54.6L154.2,54.7L154.5,54.8L155.0,55.0L155.2,55.1L155.6,55.2L156.0,55.5L156.2,55.6L156.5,55.8L156.8,56.0L157.0,56.3L157.2,56.5L157.5,56.9L157.8,57.2L157.9,57.5L158.0,57.8L158.2,58.2L158.2,58.8L158.3,59.0L158.2,59.4L158.2,59.8L158.1,60.2L158.0,60.5L157.8,61.0L157.6,61.2L157.4,61.5L157.2,61.8L156.9,62.0L156.6,62.2L156.3,62.5L156.0,62.7L155.8,62.9L155.5,63.0L155.0,63.2L154.8,63.3L154.2,63.5L154.0,63.6L153.5,63.7L153.0,63.7L152.8,63.8Z" fill="#888888" stroke="#1a1a1a" stroke-width="0.55" fill-rule="evenodd"/><path d="M153.8,62.5L153.2,62.6L152.8,62.7L152.2,62.7L151.8,62.7L151.2,62.7L150.8,62.6L150.2,62.5L150.0,62.4L149.5,62.2L149.2,62.1L149.0,62.0L148.7,61.8L148.3,61.5L148.1,61.2L147.8,61.0L147.7,60.8L147.5,60.5L147.3,60.0L147.2,59.8L147.1,59.2L147.2,58.8L147.2,58.3L147.4,58.0L147.5,57.7L147.8,57.3L148.0,57.0L148.2,56.8L148.5,56.6L148.8,56.4L149.0,56.2L149.4,56.0L149.8,55.9L150.1,55.8L150.5,55.6L151.0,55.5L151.2,55.5L151.8,55.5L152.2,55.5L152.8,55.5L153.0,55.5L153.5,55.6L153.9,55.8L154.2,55.9L154.6,56.0L155.0,56.2L155.2,56.4L155.5,56.6L155.8,56.8L156.0,57.0L156.2,57.3L156.5,57.7L156.6,58.0L156.8,58.3L156.8,58.8L156.9,59.2L156.8,59.8L156.7,60.0L156.5,60.5L156.3,60.8L156.2,61.0L155.9,61.2L155.7,61.5L155.3,61.8L155.0,62.0L154.8,62.1L154.5,62.2L154.0,62.4L153.8,62.5Z" fill="#a6a6a6" stroke="#1a1a1a" stroke-width="0.55" fill-rule="evenodd"/><path d="M152.8,61.5L152.2,61.6L151.8,61.6L151.2,61.5L151.0,61.5L150.5,61.3L150.2,61.2L149.9,61.0L149.5,60.8L149.3,60.5L149.1,60.2L148.9,60.0L148.8,59.5L148.7,59.2L148.7,58.8L148.8,58.5L149.0,58.1L149.2,57.8L149.5,57.5L149.8,57.3L150.0,57.1L150.3,57.0L150.8,56.8L151.0,56.7L151.5,56.7L152.0,56.6L152.5,56.7L153.0,56.7L153.2,56.8L153.7,57.0L154.0,57.1L154.2,57.3L154.5,57.5L154.8,57.8L155.0,58.1L155.2,58.5L155.3,58.8L155.3,59.2L155.2,59.5L155.1,60.0L154.9,60.2L154.7,60.5L154.5,60.8L154.1,61.0L153.8,61.2L153.5,61.3L153.0,61.5L152.8,61.5Z" fill="#c4c4c4" stroke="#1a1a1a" stroke-width="0.55" fill-rule="evenodd"/><path d="M117.8,55.5 L123.5,57.5 L123.5,63 L117.8,65 Z" fill="#0a0a0a" filter="url(#bl05)"/><rect x="122.5" y="44.8" width="55.1" height="29.5" fill="none" stroke="#5050b4" stroke-width="1"/>
<text x="87.5" y="38.9" font-size="6.3" fill="#111" font-weight="bold">19.2</text>
<text x="138" y="38.1" font-size="6.3" fill="#111" font-weight="bold">80.2</text>
<clipPath id="c12"><rect x="248" y="19" width="99.5" height="87.5"/></clipPath><clipPath id="c12L"><polygon points="248,55 284,55 284,92 294,92 294,106.5 248,106.5"/></clipPath><path d="M289.2,112.3L288.6,112.2L288.0,112.0L287.7,111.8L287.2,111.4L286.9,111.0L286.6,110.5L286.3,110.0L286.0,109.5L285.8,109.0L285.5,108.5L285.3,108.0L285.1,107.5L284.8,107.0L284.6,106.5L284.4,106.0L284.1,105.5L283.8,105.0L283.5,104.6L283.1,104.2L282.8,103.9L282.2,103.7L281.8,103.5L281.0,103.3L280.3,103.2L279.8,103.2L279.0,103.1L278.4,103.0L277.8,102.9L277.1,102.8L276.5,102.6L276.0,102.5L275.2,102.3L274.8,102.1L274.2,102.0L273.5,101.8L273.0,101.6L272.5,101.4L272.0,101.2L271.5,100.9L271.0,100.7L270.5,100.5L270.0,100.2L269.5,99.9L269.0,99.7L268.5,99.3L268.0,99.0L267.6,98.8L267.2,98.5L266.8,98.1L266.3,97.8L266.0,97.5L265.5,97.1L265.1,96.8L264.8,96.4L264.4,96.0L264.0,95.6L263.7,95.2L263.2,94.8L263.0,94.5L262.6,94.0L262.2,93.5L262.0,93.2L261.7,92.8L261.3,92.2L261.0,91.8L260.8,91.4L260.5,91.0L260.2,90.5L259.9,90.0L259.6,89.5L259.4,89.0L259.1,88.5L258.9,88.0L258.7,87.5L258.4,87.0L258.2,86.5L258.0,86.0L257.8,85.3L257.5,84.8L257.4,84.2L257.2,83.8L257.0,83.2L256.8,82.5L256.6,82.0L256.5,81.5L256.3,80.8L256.2,80.2L256.0,79.5L255.9,79.0L255.8,78.2L255.7,77.8L255.6,77.0L255.5,76.5L255.4,75.8L255.3,75.0L255.2,74.5L255.2,73.8L255.1,73.0L255.1,72.2L255.0,71.5L255.0,70.8L255.0,70.0L255.0,69.2L255.0,68.5L255.1,67.8L255.1,67.0L255.2,66.2L255.2,65.5L255.3,65.0L255.4,64.2L255.5,63.5L255.6,63.0L255.7,62.2L255.8,61.8L255.9,61.0L256.0,60.5L256.2,59.8L256.3,59.2L256.5,58.5L256.6,58.0L256.8,57.5L257.0,56.8L257.2,56.2L257.4,55.8L257.5,55.2L257.8,54.7L258.0,54.0L258.2,53.5L258.4,53.0L258.7,52.5L258.9,52.0L259.1,51.5L259.4,51.0L259.7,50.5L259.9,50.0L260.2,49.5L260.5,49.0L260.8,48.6L261.0,48.2L261.3,47.8L261.7,47.2L262.0,46.8L262.2,46.5L262.6,46.0L263.0,45.5L263.2,45.2L263.7,44.8L264.0,44.4L264.4,44.0L264.8,43.6L265.2,43.2L265.5,42.9L266.0,42.5L266.3,42.2L266.8,41.9L267.2,41.5L267.7,41.2L268.0,41.0L268.5,40.7L269.0,40.4L269.5,40.2L270.0,39.9L270.5,39.7L271.0,39.5L271.5,39.2L272.2,39.0L272.8,38.8L273.2,38.7L274.0,38.5L274.5,38.5L275.2,38.3L276.0,38.3L276.7,38.2L277.2,38.2L277.8,38.3L278.5,38.3L279.2,38.4L279.8,38.5L280.5,38.7L281.0,38.8L281.8,39.0L282.2,39.2L282.8,39.4L283.2,39.6L283.8,39.8L284.2,40.0L284.8,40.3L285.2,40.6L285.8,40.9L286.2,41.2L286.7,41.5L287.0,41.8L287.5,42.1L288.0,42.5L288.3,42.8L288.8,43.2L289.1,43.5L289.5,43.9L289.9,44.2L290.2,44.7L290.6,45.0L291.0,45.5L291.2,45.8L291.6,46.2L292.0,46.8L292.2,47.1L292.5,47.5L292.9,48.0L293.2,48.5L293.5,49.0L293.8,49.4L294.0,49.9L294.2,50.3L294.5,50.8L294.8,51.3L295.0,51.8L295.2,52.3L295.5,52.8L295.8,53.4L296.0,54.0L296.2,54.5L296.4,55.0L296.6,55.5L296.8,56.1L297.0,56.8L297.1,57.2L297.3,57.8L297.5,58.5L297.6,59.0L297.8,59.5L297.9,60.2L298.0,60.8L298.2,61.5L298.3,62.0L298.4,62.8L298.5,63.4L298.6,64.0L298.7,64.8L298.8,65.3L298.8,66.0L298.9,66.8L298.9,67.5L299.0,68.2L299.0,69.0L299.0,69.5L299.0,70.2L299.0,71.0L299.0,71.5L299.0,72.2L298.9,73.0L298.9,73.8L298.9,74.5L298.8,75.2L298.8,75.8L298.7,76.5L298.6,77.2L298.5,78.0L298.5,78.5L298.4,79.2L298.2,80.0L298.2,80.5L298.1,81.2L298.0,81.8L297.9,82.5L297.8,83.1L297.6,83.8L297.5,84.5L297.4,85.0L297.2,85.7L297.1,86.2L297.0,86.9L296.9,87.5L296.8,88.0L296.6,88.8L296.5,89.2L296.3,90.0L296.2,90.5L296.0,91.1L295.8,91.8L295.7,92.2L295.5,93.0L295.4,93.5L295.3,94.2L295.2,94.8L295.0,95.5L294.9,96.0L294.8,96.8L294.7,97.2L294.5,98.0L294.4,98.5L294.3,99.2L294.2,99.8L294.1,100.5L294.0,101.1L293.9,101.8L293.8,102.5L293.7,103.0L293.5,103.7L293.4,104.2L293.2,104.9L293.1,105.5L293.0,106.0L292.8,106.8L292.6,107.2L292.5,107.8L292.2,108.4L292.0,109.0L291.8,109.5L291.5,110.0L291.3,110.5L291.0,110.9L290.7,111.2L290.2,111.7L289.9,112.0L289.3,112.2Z" fill="url(#pd0)" fill-opacity="1.0" clip-path="url(#c12L)"/><path d="M289.2,108.1L288.5,108.0L288.0,107.8L287.7,107.5L287.3,107.0L287.0,106.6L286.8,106.1L286.5,105.7L286.2,105.1L286.0,104.6L285.8,104.0L285.5,103.5L285.3,103.0L285.0,102.5L284.8,102.0L284.5,101.5L284.2,101.2L283.9,100.8L283.5,100.4L283.0,100.1L282.5,99.9L282.0,99.8L281.2,99.6L280.8,99.5L280.0,99.4L279.5,99.2L278.8,99.0L278.2,98.9L277.8,98.7L277.1,98.5L276.5,98.3L276.0,98.1L275.5,97.9L275.0,97.6L274.5,97.4L274.0,97.2L273.5,96.9L273.0,96.7L272.5,96.4L272.0,96.1L271.5,95.8L271.0,95.5L270.5,95.2L270.1,95.0L269.8,94.7L269.2,94.4L268.8,94.0L268.4,93.8L268.0,93.4L267.5,93.0L267.2,92.7L266.8,92.2L266.5,92.0L266.0,91.5L265.8,91.2L265.4,90.8L265.0,90.3L264.8,90.0L264.4,89.5L264.0,89.0L263.8,88.6L263.5,88.2L263.2,87.8L262.9,87.2L262.6,86.8L262.3,86.2L262.1,85.8L261.8,85.2L261.6,84.8L261.4,84.2L261.2,83.8L261.0,83.2L260.8,82.7L260.5,82.0L260.3,81.5L260.2,81.0L260.0,80.5L259.8,79.8L259.7,79.2L259.5,78.6L259.4,78.0L259.2,77.4L259.1,76.8L259.0,76.0L258.9,75.5L258.8,74.8L258.8,74.2L258.7,73.5L258.6,72.8L258.6,72.0L258.5,71.2L258.5,70.5L258.5,69.8L258.5,69.0L258.6,68.2L258.6,67.5L258.7,66.8L258.7,66.0L258.8,65.5L258.9,64.8L259.0,64.0L259.1,63.5L259.2,62.8L259.3,62.2L259.5,61.5L259.6,61.0L259.8,60.4L259.9,59.8L260.1,59.2L260.2,58.7L260.5,58.0L260.7,57.5L260.9,57.0L261.1,56.5L261.3,56.0L261.5,55.5L261.8,54.9L262.0,54.4L262.2,53.9L262.5,53.5L262.8,53.0L263.0,52.5L263.4,52.0L263.7,51.5L264.0,51.0L264.2,50.7L264.6,50.2L265.0,49.8L265.2,49.4L265.6,49.0L266.0,48.6L266.3,48.2L266.8,47.8L267.1,47.5L267.5,47.1L267.9,46.8L268.2,46.5L268.8,46.1L269.2,45.8L269.7,45.5L270.1,45.2L270.5,45.0L271.0,44.8L271.5,44.5L272.1,44.2L272.8,44.0L273.2,43.9L273.8,43.7L274.5,43.6L275.0,43.5L275.8,43.4L276.5,43.3L277.2,43.3L278.0,43.3L278.8,43.4L279.2,43.5L280.0,43.7L280.5,43.8L281.2,44.0L281.8,44.2L282.2,44.4L282.8,44.6L283.2,44.9L283.8,45.2L284.2,45.5L284.7,45.8L285.1,46.0L285.5,46.3L286.0,46.7L286.4,47.0L286.8,47.3L287.2,47.8L287.5,48.0L287.9,48.5L288.2,48.8L288.6,49.2L289.0,49.7L289.2,50.0L289.6,50.5L290.0,51.0L290.2,51.4L290.5,51.8L290.8,52.2L291.1,52.8L291.4,53.2L291.7,53.8L291.9,54.2L292.2,54.8L292.4,55.2L292.6,55.8L292.8,56.2L293.0,56.8L293.2,57.3L293.5,58.0L293.7,58.5L293.8,59.0L294.0,59.5L294.2,60.2L294.3,60.8L294.5,61.4L294.6,62.0L294.8,62.6L294.9,63.2L295.0,63.9L295.1,64.5L295.2,65.2L295.3,65.8L295.3,66.5L295.4,67.2L295.5,68.0L295.5,68.6L295.5,69.2L295.6,70.0L295.6,70.8L295.6,71.5L295.6,72.2L295.5,73.0L295.5,73.8L295.5,74.4L295.5,75.0L295.4,75.8L295.4,76.5L295.4,77.2L295.3,78.0L295.3,78.8L295.2,79.2L295.2,80.0L295.1,80.8L295.0,81.5L295.0,82.0L294.9,82.8L294.9,83.5L294.8,84.2L294.7,84.8L294.6,85.5L294.6,86.2L294.5,86.8L294.4,87.5L294.3,88.2L294.2,88.8L294.1,89.5L294.0,90.2L294.0,90.8L293.9,91.5L293.8,92.2L293.7,92.8L293.6,93.5L293.5,94.2L293.4,94.8L293.3,95.5L293.2,96.1L293.2,96.8L293.1,97.5L293.0,98.0L292.9,98.8L292.8,99.5L292.7,100.0L292.6,100.8L292.5,101.2L292.3,102.0L292.2,102.5L292.0,103.2L291.9,103.8L291.7,104.2L291.5,105.0L291.3,105.5L291.1,106.0L290.8,106.5L290.5,107.0L290.2,107.4L289.9,107.8L289.4,108.0Z" fill="url(#pw0)" fill-opacity="1.0" clip-path="url(#c12L)"/><path d="M289.2,104.1L288.5,104.1L288.0,103.8L287.8,103.4L287.4,103.0L287.1,102.5L286.9,102.0L286.6,101.5L286.4,101.0L286.1,100.5L285.9,100.0L285.6,99.5L285.3,99.0L285.0,98.5L284.8,98.2L284.3,97.8L284.0,97.5L283.5,97.2L282.9,97.0L282.2,96.8L281.8,96.7L281.0,96.5L280.5,96.4L280.0,96.2L279.2,96.0L278.8,95.8L278.2,95.6L277.8,95.4L277.2,95.1L276.8,94.9L276.2,94.6L275.8,94.3L275.2,94.0L274.8,93.8L274.4,93.5L274.0,93.2L273.5,92.9L273.0,92.6L272.5,92.3L272.1,92.0L271.8,91.7L271.2,91.4L270.8,91.0L270.5,90.8L270.0,90.4L269.6,90.0L269.2,89.7L268.8,89.3L268.5,89.0L268.0,88.5L267.8,88.2L267.3,87.8L267.0,87.3L266.7,87.0L266.4,86.5L266.0,86.0L265.8,85.6L265.5,85.2L265.2,84.8L264.9,84.2L264.6,83.8L264.4,83.2L264.1,82.8L263.9,82.2L263.7,81.8L263.5,81.2L263.2,80.6L263.0,80.0L262.9,79.5L262.7,79.0L262.5,78.3L262.4,77.8L262.2,77.2L262.1,76.5L262.0,76.0L261.8,75.2L261.8,74.7L261.7,74.0L261.6,73.2L261.5,72.5L261.5,72.0L261.4,71.2L261.4,70.5L261.4,69.8L261.4,69.0L261.5,68.2L261.5,67.5L261.5,67.0L261.6,66.2L261.7,65.5L261.8,65.0L261.9,64.2L262.0,63.8L262.2,63.0L262.3,62.5L262.5,61.8L262.6,61.2L262.8,60.8L263.0,60.1L263.2,59.5L263.4,59.0L263.6,58.5L263.8,58.0L264.0,57.5L264.3,57.0L264.5,56.5L264.8,56.0L265.1,55.5L265.4,55.0L265.7,54.5L266.0,54.0L266.2,53.7L266.6,53.2L267.0,52.8L267.2,52.4L267.6,52.0L268.0,51.6L268.4,51.2L268.8,50.9L269.2,50.5L269.5,50.2L270.0,49.9L270.5,49.5L270.9,49.2L271.4,49.0L271.8,48.8L272.3,48.5L272.9,48.2L273.5,48.0L274.0,47.9L274.6,47.8L275.2,47.6L276.0,47.5L276.5,47.5L277.2,47.5L277.8,47.5L278.5,47.6L279.2,47.7L279.8,47.8L280.3,48.0L281.0,48.2L281.5,48.4L282.0,48.7L282.5,48.9L283.0,49.2L283.5,49.5L283.8,49.8L284.2,50.1L284.8,50.5L285.1,50.8L285.5,51.1L285.9,51.5L286.2,51.9L286.6,52.2L287.0,52.7L287.2,53.0L287.6,53.5L288.0,54.0L288.2,54.4L288.5,54.8L288.8,55.2L289.1,55.8L289.4,56.2L289.6,56.8L289.9,57.2L290.1,57.8L290.3,58.2L290.5,58.8L290.8,59.4L291.0,60.0L291.1,60.5L291.3,61.0L291.5,61.7L291.7,62.2L291.8,62.8L291.9,63.5L292.1,64.0L292.2,64.8L292.3,65.2L292.4,66.0L292.5,66.8L292.5,67.2L292.6,68.0L292.7,68.8L292.7,69.5L292.8,70.0L292.8,70.8L292.8,71.5L292.8,72.2L292.8,73.0L292.9,73.8L292.9,74.5L292.9,75.2L292.9,76.0L292.9,76.8L292.9,77.5L292.9,78.2L292.9,79.0L292.9,79.8L292.9,80.5L292.9,81.2L292.9,82.0L292.9,82.8L292.9,83.5L292.9,84.2L292.8,85.0L292.8,85.8L292.8,86.5L292.7,87.0L292.7,87.8L292.7,88.5L292.6,89.2L292.5,90.0L292.5,90.5L292.4,91.2L292.4,92.0L292.3,92.8L292.2,93.3L292.2,94.0L292.1,94.8L292.0,95.5L292.0,96.0L291.9,96.8L291.8,97.5L291.7,98.0L291.5,98.8L291.4,99.2L291.3,100.0L291.2,100.5L291.0,101.1L290.8,101.8L290.6,102.2L290.4,102.8L290.1,103.2L289.8,103.7L289.4,104.0Z" fill="url(#pd1)" fill-opacity="1.0" clip-path="url(#c12L)"/><path d="M289.0,99.9L288.3,99.8L288.0,99.5L287.6,99.0L287.3,98.5L287.0,98.1L286.8,97.6L286.5,97.2L286.2,96.8L285.9,96.2L285.5,95.8L285.2,95.5L284.8,95.1L284.2,94.8L283.8,94.6L283.2,94.5L282.5,94.3L282.0,94.2L281.3,94.0L280.8,93.8L280.2,93.7L279.8,93.5L279.2,93.2L278.7,93.0L278.2,92.7L277.8,92.4L277.2,92.1L276.8,91.8L276.3,91.5L276.0,91.2L275.5,90.9L275.0,90.5L274.6,90.2L274.2,90.0L273.8,89.6L273.3,89.2L273.0,89.0L272.5,88.6L272.1,88.2L271.8,87.9L271.2,87.5L271.0,87.2L270.5,86.8L270.2,86.5L269.8,86.0L269.5,85.8L269.0,85.2L268.8,84.9L268.4,84.5L268.1,84.0L267.8,83.6L267.5,83.2L267.2,82.8L266.9,82.2L266.7,81.8L266.4,81.2L266.2,80.8L265.9,80.2L265.7,79.8L265.5,79.2L265.2,78.5L265.1,78.0L264.9,77.5L264.8,76.9L264.6,76.2L264.5,75.8L264.3,75.0L264.2,74.5L264.1,73.8L264.0,73.0L264.0,72.5L263.9,71.8L263.9,71.0L263.9,70.2L263.9,69.5L263.9,68.8L263.9,68.0L264.0,67.2L264.1,66.8L264.2,66.0L264.2,65.4L264.4,64.8L264.5,64.1L264.7,63.5L264.8,63.0L265.0,62.3L265.2,61.8L265.3,61.2L265.5,60.8L265.8,60.2L266.0,59.6L266.2,59.1L266.5,58.6L266.8,58.1L267.0,57.7L267.3,57.2L267.6,56.8L267.9,56.2L268.2,55.8L268.5,55.5L268.9,55.0L269.2,54.7L269.7,54.2L270.0,53.9L270.5,53.5L270.8,53.2L271.2,52.9L271.8,52.6L272.2,52.3L272.8,52.0L273.2,51.8L273.8,51.6L274.2,51.4L275.0,51.2L275.5,51.1L276.2,51.0L277.0,51.0L277.8,51.0L278.5,51.1L279.0,51.2L279.8,51.4L280.2,51.6L280.8,51.8L281.2,52.0L281.8,52.3L282.2,52.6L282.8,52.9L283.2,53.2L283.5,53.5L284.0,53.9L284.3,54.2L284.8,54.7L285.1,55.0L285.5,55.5L285.8,55.8L286.1,56.2L286.4,56.8L286.7,57.2L287.0,57.7L287.2,58.1L287.5,58.6L287.8,59.1L288.0,59.6L288.2,60.2L288.5,60.8L288.7,61.2L288.8,61.8L289.0,62.2L289.2,63.0L289.4,63.5L289.5,64.0L289.7,64.8L289.8,65.2L289.9,66.0L290.0,66.5L290.1,67.2L290.2,68.0L290.3,68.5L290.3,69.2L290.4,70.0L290.4,70.8L290.5,71.5L290.5,72.0L290.6,72.8L290.6,73.5L290.7,74.2L290.7,75.0L290.7,75.8L290.8,76.2L290.8,77.0L290.9,77.8L290.9,78.5L291.0,79.2L291.0,79.8L291.1,80.5L291.1,81.2L291.2,82.0L291.2,82.8L291.3,83.2L291.3,84.0L291.3,84.8L291.3,85.5L291.3,86.2L291.3,87.0L291.3,87.8L291.3,88.5L291.3,89.2L291.2,89.8L291.2,90.5L291.2,91.2L291.1,92.0L291.0,92.8L291.0,93.2L290.9,94.0L290.8,94.8L290.7,95.2L290.6,96.0L290.5,96.6L290.4,97.2L290.2,97.8L290.0,98.5L289.8,99.0L289.5,99.4L289.2,99.8Z" fill="url(#pw1)" fill-opacity="1.0" clip-path="url(#c12L)"/><path d="M288.5,94.3L287.8,94.3L287.4,94.0L287.0,93.7L286.5,93.2L286.2,93.0L285.8,92.7L285.2,92.4L284.8,92.2L284.0,92.0L283.5,91.9L282.8,91.8L282.2,91.7L281.5,91.5L281.0,91.3L280.5,91.2L280.0,90.9L279.5,90.7L279.0,90.4L278.5,90.0L278.1,89.8L277.8,89.5L277.2,89.1L276.8,88.8L276.5,88.5L276.0,88.0L275.7,87.8L275.2,87.4L274.8,87.0L274.5,86.7L274.0,86.3L273.7,86.0L273.2,85.6L272.9,85.2L272.5,84.9L272.1,84.5L271.8,84.1L271.4,83.8L271.0,83.3L270.7,83.0L270.3,82.5L270.0,82.1L269.7,81.8L269.4,81.2L269.1,80.8L268.8,80.2L268.5,79.8L268.3,79.2L268.0,78.8L267.8,78.2L267.6,77.8L267.4,77.2L267.2,76.8L267.0,76.0L266.9,75.5L266.8,75.0L266.6,74.2L266.5,73.7L266.4,73.0L266.3,72.2L266.2,71.6L266.2,71.0L266.2,70.2L266.2,69.5L266.2,68.8L266.3,68.2L266.3,67.5L266.4,66.8L266.5,66.2L266.6,65.5L266.8,65.0L267.0,64.2L267.1,63.8L267.3,63.2L267.5,62.6L267.7,62.0L267.9,61.5L268.2,61.0L268.4,60.5L268.7,60.0L269.0,59.5L269.2,59.1L269.5,58.8L269.9,58.2L270.2,57.8L270.5,57.5L271.0,57.0L271.3,56.8L271.8,56.4L272.2,56.0L272.6,55.8L273.0,55.5L273.5,55.2L274.0,55.0L274.7,54.8L275.2,54.6L275.8,54.5L276.5,54.4L277.2,54.4L278.0,54.5L278.5,54.5L279.2,54.7L279.8,54.9L280.2,55.1L280.8,55.4L281.2,55.6L281.8,56.0L282.1,56.2L282.5,56.6L283.0,57.0L283.2,57.3L283.7,57.8L284.0,58.1L284.3,58.5L284.7,59.0L285.0,59.5L285.2,59.9L285.5,60.3L285.8,60.8L286.0,61.3L286.2,61.9L286.5,62.5L286.7,63.0L286.9,63.5L287.0,64.0L287.2,64.8L287.4,65.2L287.5,65.8L287.6,66.5L287.8,67.1L287.9,67.8L288.0,68.5L288.0,69.0L288.1,69.8L288.2,70.5L288.2,71.0L288.3,71.8L288.4,72.5L288.5,73.2L288.5,73.8L288.6,74.5L288.6,75.2L288.7,76.0L288.8,76.5L288.9,77.2L289.0,78.0L289.0,78.5L289.1,79.2L289.2,80.0L289.3,80.5L289.4,81.2L289.5,82.0L289.5,82.5L289.6,83.2L289.7,84.0L289.7,84.8L289.8,85.2L289.8,86.0L289.8,86.8L289.8,87.5L289.8,88.2L289.8,89.0L289.7,89.5L289.7,90.2L289.6,91.0L289.5,91.8L289.4,92.2L289.2,93.0L289.1,93.5L288.8,94.0L288.5,94.3Z" fill="url(#pd2)" fill-opacity="1.0" clip-path="url(#c12L)"/><path d="M285.2,88.8L284.5,88.9L283.8,88.9L283.0,88.9L282.2,88.8L281.8,88.7L281.2,88.5L280.7,88.2L280.2,88.0L279.8,87.7L279.2,87.3L278.8,87.0L278.5,86.7L278.0,86.3L277.7,86.0L277.2,85.6L276.9,85.2L276.5,84.8L276.1,84.5L275.8,84.1L275.4,83.8L275.0,83.4L274.6,83.0L274.2,82.6L273.9,82.2L273.5,81.9L273.2,81.5L272.8,81.0L272.5,80.8L272.1,80.2L271.8,79.8L271.5,79.5L271.2,79.0L270.9,78.5L270.6,78.0L270.3,77.5L270.1,77.0L269.9,76.5L269.7,76.0L269.5,75.5L269.3,74.8L269.1,74.2L269.0,73.7L268.9,73.0L268.8,72.2L268.7,71.8L268.6,71.0L268.6,70.2L268.6,69.5L268.7,68.8L268.7,68.0L268.8,67.5L268.9,66.8L269.0,66.2L269.2,65.5L269.4,65.0L269.5,64.5L269.8,63.9L270.0,63.3L270.2,62.8L270.5,62.4L270.8,61.9L271.0,61.5L271.4,61.0L271.8,60.6L272.0,60.2L272.5,59.8L272.8,59.5L273.2,59.2L273.8,58.8L274.2,58.6L274.8,58.3L275.2,58.2L275.9,58.0L276.5,57.9L277.2,57.9L278.0,58.0L278.5,58.1L279.0,58.2L279.6,58.5L280.1,58.8L280.5,59.0L281.0,59.4L281.5,59.8L281.8,60.0L282.2,60.5L282.5,60.9L282.8,61.2L283.2,61.8L283.5,62.2L283.7,62.8L284.0,63.2L284.2,63.8L284.4,64.2L284.6,64.8L284.8,65.2L285.0,66.0L285.1,66.5L285.3,67.0L285.4,67.8L285.5,68.2L285.7,69.0L285.8,69.7L285.8,70.2L285.9,71.0L286.0,71.7L286.1,72.2L286.1,73.0L286.2,73.8L286.3,74.2L286.4,75.0L286.5,75.8L286.5,76.2L286.6,77.0L286.8,77.7L286.8,78.2L286.9,79.0L287.0,79.5L287.1,80.2L287.2,81.0L287.3,81.5L287.4,82.2L287.5,83.0L287.5,83.5L287.6,84.2L287.6,85.0L287.5,85.8L287.5,86.2L287.3,87.0L287.1,87.5L286.8,88.0L286.5,88.3L286.0,88.5L285.3,88.8Z" fill="url(#pw3)" fill-opacity="1.0" clip-path="url(#c12L)"/><path d="M292.2,80.5L291.8,80.6L291.2,80.6L290.8,80.6L290.2,80.6L289.8,80.6L289.2,80.5L289.0,80.5L288.5,80.4L288.0,80.3L287.8,80.2L287.2,80.1L287.0,80.0L286.5,79.9L286.2,79.8L285.8,79.6L285.5,79.5L285.0,79.3L284.8,79.2L284.2,79.0L284.0,78.9L283.6,78.8L283.2,78.6L283.0,78.5L282.5,78.3L282.2,78.2L281.8,78.0L281.5,77.9L281.2,77.8L280.8,77.5L280.5,77.4L280.1,77.2L279.8,77.1L279.5,76.9L279.1,76.8L278.8,76.5L278.5,76.4L278.2,76.2L277.8,76.0L277.5,75.8L277.2,75.6L277.0,75.4L276.8,75.2L276.5,75.0L276.2,74.8L275.9,74.5L275.7,74.2L275.5,74.0L275.2,73.8L275.0,73.5L274.8,73.1L274.5,72.8L274.3,72.5L274.2,72.2L274.0,72.0L273.8,71.5L273.7,71.2L273.5,70.9L273.3,70.5L273.2,70.2L273.1,69.8L273.0,69.3L272.9,69.0L272.8,68.5L272.8,68.0L272.8,67.6L272.7,67.2L272.7,66.8L272.7,66.2L272.8,66.0L272.8,65.5L272.9,65.0L273.0,64.5L273.1,64.2L273.2,63.8L273.3,63.5L273.5,63.0L273.6,62.8L273.8,62.3L273.9,62.0L274.0,61.8L274.2,61.4L274.5,61.0L274.6,60.8L274.8,60.5L275.0,60.2L275.2,59.9L275.5,59.6L275.8,59.4L276.0,59.1L276.2,58.8L276.5,58.6L276.8,58.4L277.0,58.2L277.2,58.0L277.5,57.8L277.8,57.5L278.2,57.2L278.5,57.0L278.8,56.8L279.0,56.7L279.3,56.5L279.6,56.2L280.0,56.0L280.2,55.9L280.5,55.7L280.8,55.5L281.2,55.2L281.5,55.1L281.8,54.9L282.1,54.8L282.5,54.5L282.8,54.3L283.0,54.2L283.3,54.0L283.7,53.8L284.0,53.6L284.2,53.5L284.6,53.2L285.0,53.1L285.2,52.9L285.6,52.8L286.0,52.6L286.2,52.5L286.8,52.3L287.0,52.2L287.5,52.0L287.8,51.9L288.2,51.8L288.5,51.7L289.0,51.6L289.5,51.5L289.8,51.5L290.2,51.4L290.8,51.4L291.2,51.4L291.8,51.5L292.2,51.5L292.5,51.5L293.0,51.6L293.4,51.8L293.8,51.8L294.2,52.0L294.5,52.1L294.8,52.2L295.2,52.4L295.5,52.6L295.8,52.8L296.2,53.0L296.5,53.2L296.8,53.3L297.0,53.5L297.3,53.8L297.6,54.0L297.9,54.2L298.1,54.5L298.4,54.8L298.6,55.0L298.9,55.2L299.1,55.5L299.3,55.8L299.5,56.0L299.8,56.4L300.0,56.8L300.2,57.0L300.3,57.2L300.5,57.6L300.7,58.0L300.9,58.2L301.0,58.5L301.2,59.0L301.3,59.2L301.5,59.7L301.6,60.0L301.8,60.4L301.9,60.8L302.0,61.2L302.1,61.5L302.2,62.0L302.3,62.2L302.4,62.8L302.4,63.2L302.5,63.7L302.5,64.0L302.6,64.5L302.6,65.0L302.6,65.5L302.6,66.0L302.6,66.5L302.6,67.0L302.6,67.5L302.5,68.0L302.5,68.3L302.4,68.8L302.4,69.2L302.3,69.8L302.2,70.0L302.1,70.5L302.0,70.8L301.9,71.2L301.8,71.6L301.6,72.0L301.5,72.3L301.3,72.8L301.2,73.0L301.0,73.5L300.9,73.8L300.7,74.0L300.5,74.4L300.3,74.8L300.2,75.0L300.0,75.2L299.8,75.6L299.5,76.0L299.3,76.2L299.1,76.5L298.9,76.8L298.6,77.0L298.4,77.2L298.1,77.5L297.9,77.8L297.6,78.0L297.3,78.2L297.0,78.5L296.8,78.7L296.5,78.8L296.2,79.0L295.8,79.2L295.5,79.4L295.2,79.6L294.8,79.8L294.5,79.9L294.2,80.0L293.8,80.2L293.4,80.2L293.0,80.4L292.5,80.5L292.2,80.5Z" fill="#dce5e7" stroke="#fcfcfc" stroke-width="1.1" clip-path="url(#c12L)"/><clipPath id="c12b"><polygon points="255.5,38.6 292.6,38.6 292.6,47.5 284.5,55.4 255.5,55.4"/></clipPath><polygon points="255.5,38.6 292.6,38.6 292.6,47.5 284.5,55.4 255.5,55.4" fill="#8088e8"/><g clip-path="url(#c12b)"><path d="M282.8,57.0L282.2,57.1L281.8,57.1L281.2,57.1L280.8,57.1L280.2,57.2L279.8,57.2L279.2,57.1L278.8,57.1L278.2,57.1L277.8,57.1L277.2,57.0L277.0,57.0L276.5,56.9L276.0,56.8L275.5,56.8L275.2,56.7L274.8,56.6L274.3,56.5L274.0,56.4L273.5,56.3L273.2,56.2L272.8,56.1L272.5,56.0L272.0,55.8L271.8,55.7L271.2,55.5L271.0,55.4L270.6,55.2L270.2,55.1L270.0,54.9L269.6,54.8L269.2,54.5L269.0,54.4L268.8,54.2L268.4,54.0L268.1,53.8L267.8,53.5L267.5,53.3L267.2,53.0L267.0,52.8L266.8,52.5L266.5,52.3L266.3,52.0L266.1,51.8L265.9,51.5L265.8,51.2L265.5,50.8L265.4,50.5L265.2,50.0L265.2,49.8L265.1,49.2L265.0,48.8L265.0,48.2L265.1,47.8L265.2,47.2L265.2,47.0L265.4,46.5L265.5,46.2L265.8,45.8L265.9,45.5L266.1,45.2L266.3,45.0L266.5,44.7L266.8,44.5L267.0,44.2L267.2,44.0L267.5,43.7L267.8,43.5L268.1,43.2L268.4,43.0L268.8,42.8L269.0,42.6L269.2,42.5L269.6,42.2L270.0,42.1L270.2,41.9L270.6,41.8L271.0,41.6L271.2,41.5L271.8,41.3L272.0,41.2L272.5,41.0L272.8,40.9L273.2,40.8L273.5,40.7L274.0,40.6L274.3,40.5L274.8,40.4L275.2,40.3L275.5,40.2L276.0,40.2L276.5,40.1L277.0,40.0L277.2,40.0L277.8,39.9L278.2,39.9L278.8,39.9L279.2,39.9L279.8,39.8L280.2,39.8L280.8,39.9L281.2,39.9L281.8,39.9L282.2,39.9L282.8,40.0L283.0,40.0L283.5,40.1L284.0,40.2L284.5,40.2L284.8,40.3L285.2,40.4L285.7,40.5L286.0,40.6L286.5,40.7L286.8,40.8L287.2,40.9L287.5,41.0L288.0,41.2L288.2,41.3L288.8,41.5L289.0,41.6L289.4,41.8L289.8,41.9L290.0,42.1L290.4,42.2L290.8,42.5L291.0,42.6L291.2,42.8L291.6,43.0L291.9,43.2L292.2,43.5L292.5,43.7L292.8,44.0L293.0,44.2L293.2,44.5L293.5,44.7L293.7,45.0L293.9,45.2L294.1,45.5L294.2,45.8L294.5,46.2L294.6,46.5L294.8,47.0L294.8,47.2L294.9,47.8L295.0,48.2L295.0,48.8L294.9,49.2L294.8,49.8L294.8,50.0L294.6,50.5L294.5,50.8L294.2,51.2L294.1,51.5L293.9,51.8L293.7,52.0L293.5,52.3L293.2,52.5L293.0,52.8L292.8,53.0L292.5,53.3L292.2,53.5L291.9,53.8L291.6,54.0L291.2,54.2L291.0,54.4L290.8,54.5L290.4,54.8L290.0,54.9L289.8,55.1L289.4,55.2L289.0,55.4L288.8,55.5L288.2,55.7L288.0,55.8L287.5,56.0L287.2,56.1L286.8,56.2L286.5,56.3L286.0,56.4L285.7,56.5L285.2,56.6L284.8,56.7L284.5,56.8L284.0,56.8L283.5,56.9L283.0,57.0L282.8,57.0Z" fill="#5a62c8" stroke="#1e2284" stroke-width="0.6" fill-rule="evenodd"/><path d="M281.2,55.5L280.8,55.5L280.2,55.5L279.8,55.5L279.2,55.5L278.8,55.5L278.5,55.5L278.0,55.4L277.5,55.4L277.0,55.3L276.5,55.2L276.2,55.2L275.8,55.1L275.3,55.0L275.0,54.9L274.5,54.8L274.2,54.7L273.8,54.5L273.5,54.5L273.0,54.3L272.8,54.2L272.4,54.0L272.0,53.8L271.8,53.7L271.4,53.5L271.0,53.2L270.8,53.1L270.5,52.9L270.2,52.7L270.0,52.5L269.7,52.2L269.4,52.0L269.2,51.8L269.0,51.5L268.8,51.2L268.5,50.8L268.3,50.5L268.2,50.2L268.0,49.8L267.9,49.5L267.8,49.0L267.8,48.5L267.8,48.0L267.9,47.5L268.0,47.2L268.2,46.8L268.3,46.5L268.5,46.2L268.8,45.8L269.0,45.5L269.2,45.2L269.4,45.0L269.7,44.8L270.0,44.5L270.2,44.3L270.5,44.1L270.8,43.9L271.0,43.8L271.4,43.5L271.8,43.3L272.0,43.2L272.4,43.0L272.8,42.8L273.0,42.7L273.5,42.5L273.8,42.5L274.2,42.3L274.5,42.2L275.0,42.1L275.3,42.0L275.8,41.9L276.2,41.8L276.5,41.8L277.0,41.7L277.5,41.6L278.0,41.6L278.5,41.5L278.8,41.5L279.2,41.5L279.8,41.5L280.2,41.5L280.8,41.5L281.2,41.5L281.5,41.5L282.0,41.6L282.5,41.6L283.0,41.7L283.5,41.8L283.8,41.8L284.2,41.9L284.7,42.0L285.0,42.1L285.5,42.2L285.8,42.3L286.2,42.5L286.5,42.5L287.0,42.7L287.2,42.8L287.6,43.0L288.0,43.2L288.2,43.3L288.6,43.5L289.0,43.8L289.2,43.9L289.5,44.1L289.8,44.3L290.0,44.5L290.3,44.8L290.6,45.0L290.8,45.2L291.0,45.5L291.2,45.8L291.5,46.2L291.7,46.5L291.8,46.8L292.0,47.2L292.1,47.5L292.2,48.0L292.2,48.5L292.2,49.0L292.1,49.5L292.0,49.8L291.8,50.2L291.7,50.5L291.5,50.8L291.2,51.2L291.0,51.5L290.8,51.8L290.6,52.0L290.3,52.2L290.0,52.5L289.8,52.7L289.5,52.9L289.2,53.1L289.0,53.2L288.6,53.5L288.2,53.7L288.0,53.8L287.6,54.0L287.2,54.2L287.0,54.3L286.5,54.5L286.2,54.5L285.8,54.7L285.5,54.8L285.0,54.9L284.7,55.0L284.2,55.1L283.8,55.2L283.5,55.2L283.0,55.3L282.5,55.4L282.0,55.4L281.5,55.5L281.2,55.5Z" fill="#7880d4" stroke="#1e2284" stroke-width="0.6" fill-rule="evenodd"/><path d="M282.2,54.0L281.8,54.1L281.2,54.1L280.8,54.2L280.2,54.2L279.8,54.2L279.2,54.2L278.8,54.1L278.2,54.1L277.8,54.0L277.5,54.0L277.0,53.9L276.5,53.8L276.2,53.8L275.8,53.6L275.3,53.5L275.0,53.4L274.6,53.2L274.2,53.1L274.0,53.0L273.5,52.8L273.2,52.6L273.0,52.5L272.6,52.2L272.2,52.0L272.0,51.8L271.8,51.6L271.5,51.4L271.2,51.1L271.0,50.8L270.8,50.5L270.6,50.2L270.5,50.0L270.3,49.5L270.2,49.2L270.2,48.8L270.2,48.2L270.2,47.8L270.3,47.5L270.5,47.0L270.6,46.8L270.8,46.5L271.0,46.2L271.2,45.9L271.5,45.6L271.8,45.4L272.0,45.2L272.2,45.0L272.6,44.8L273.0,44.5L273.2,44.4L273.5,44.2L274.0,44.0L274.2,43.9L274.6,43.8L275.0,43.6L275.3,43.5L275.8,43.4L276.2,43.2L276.5,43.2L277.0,43.1L277.5,43.0L277.8,43.0L278.2,42.9L278.8,42.9L279.2,42.8L279.8,42.8L280.2,42.8L280.8,42.8L281.2,42.9L281.8,42.9L282.2,43.0L282.5,43.0L283.0,43.1L283.5,43.2L283.8,43.2L284.2,43.4L284.7,43.5L285.0,43.6L285.4,43.8L285.8,43.9L286.0,44.0L286.5,44.2L286.8,44.4L287.0,44.5L287.4,44.8L287.8,45.0L288.0,45.2L288.2,45.4L288.5,45.6L288.8,45.9L289.0,46.2L289.2,46.5L289.4,46.8L289.5,47.0L289.7,47.5L289.8,47.8L289.8,48.2L289.8,48.8L289.8,49.2L289.7,49.5L289.5,50.0L289.4,50.2L289.2,50.5L289.0,50.8L288.8,51.1L288.5,51.4L288.2,51.6L288.0,51.8L287.8,52.0L287.4,52.2L287.0,52.5L286.8,52.6L286.5,52.8L286.0,53.0L285.8,53.1L285.4,53.2L285.0,53.4L284.7,53.5L284.2,53.6L283.8,53.8L283.5,53.8L283.0,53.9L282.5,54.0L282.2,54.0Z" fill="#3c42a4" stroke="#1e2284" stroke-width="0.6" fill-rule="evenodd"/><path d="M281.8,52.8L281.2,52.8L280.8,52.9L280.2,52.9L279.8,52.9L279.2,52.9L278.8,52.8L278.2,52.8L278.0,52.7L277.5,52.6L277.0,52.5L276.8,52.5L276.2,52.3L276.0,52.2L275.5,52.0L275.2,51.9L274.9,51.8L274.5,51.5L274.2,51.4L274.0,51.2L273.8,51.0L273.5,50.8L273.2,50.5L273.0,50.2L272.8,49.8L272.6,49.5L272.5,49.2L272.4,48.8L272.4,48.2L272.5,47.8L272.6,47.5L272.8,47.2L273.0,46.8L273.2,46.5L273.5,46.2L273.8,46.0L274.0,45.8L274.2,45.6L274.5,45.5L274.9,45.2L275.2,45.1L275.5,45.0L276.0,44.8L276.2,44.7L276.8,44.5L277.0,44.5L277.5,44.4L278.0,44.3L278.2,44.2L278.8,44.2L279.2,44.1L279.8,44.1L280.2,44.1L280.8,44.1L281.2,44.2L281.8,44.2L282.0,44.3L282.5,44.4L283.0,44.5L283.2,44.5L283.8,44.7L284.0,44.8L284.5,45.0L284.8,45.1L285.1,45.2L285.5,45.5L285.8,45.6L286.0,45.8L286.2,46.0L286.5,46.2L286.8,46.5L287.0,46.8L287.2,47.2L287.4,47.5L287.5,47.8L287.6,48.2L287.6,48.8L287.5,49.2L287.4,49.5L287.2,49.8L287.0,50.2L286.8,50.5L286.5,50.8L286.2,51.0L286.0,51.2L285.8,51.4L285.5,51.5L285.1,51.8L284.8,51.9L284.5,52.0L284.0,52.2L283.8,52.3L283.2,52.5L283.0,52.5L282.5,52.6L282.0,52.7L281.8,52.8Z" fill="#8a86d8" stroke="#1e2284" stroke-width="0.6" fill-rule="evenodd"/><path d="M281.8,51.3L281.2,51.4L280.8,51.4L280.2,51.5L279.8,51.5L279.2,51.4L278.8,51.4L278.2,51.3L278.0,51.2L277.5,51.1L277.2,51.0L276.8,50.8L276.5,50.7L276.2,50.5L275.9,50.2L275.6,50.0L275.3,49.8L275.2,49.5L275.0,49.2L274.9,48.8L274.9,48.2L275.0,47.8L275.2,47.5L275.3,47.2L275.6,47.0L275.9,46.8L276.2,46.5L276.5,46.3L276.8,46.2L277.2,46.0L277.5,45.9L278.0,45.8L278.2,45.7L278.8,45.6L279.2,45.6L279.8,45.5L280.2,45.5L280.8,45.6L281.2,45.6L281.8,45.7L282.0,45.8L282.5,45.9L282.8,46.0L283.2,46.2L283.5,46.3L283.8,46.5L284.1,46.8L284.4,47.0L284.7,47.2L284.8,47.5L285.0,47.8L285.1,48.2L285.1,48.8L285.0,49.2L284.8,49.5L284.7,49.8L284.4,50.0L284.1,50.2L283.8,50.5L283.5,50.7L283.2,50.8L282.8,51.0L282.5,51.1L282.0,51.2L281.8,51.3Z" fill="#a898dc" stroke="#1e2284" stroke-width="0.6" fill-rule="evenodd"/></g><polygon points="255.5,38.6 292.6,38.6 292.6,47.5 284.5,55.4 255.5,55.4" fill="none" stroke="#2238d8" stroke-width="1.9"/><clipPath id="c12r"><polygon points="282.4,57.5 285.6,50.2 300,50.2 300,90.2 282.4,90.2"/></clipPath><polygon points="282.4,57.5 285.6,50.2 300,50.2 300,90.2 282.4,90.2" fill="#d8a8b8"/><g clip-path="url(#c12r)"><path d="M291.0,89.6L290.5,89.7L290.0,89.6L289.6,89.5L289.2,89.3L289.0,89.2L288.8,89.0L288.5,88.7L288.2,88.4L288.0,88.1L287.8,87.8L287.7,87.5L287.5,87.2L287.3,86.8L287.2,86.5L287.0,86.0L286.9,85.8L286.8,85.2L286.7,85.0L286.6,84.5L286.5,84.2L286.4,83.8L286.2,83.3L286.2,83.0L286.0,82.5L285.9,82.2L285.8,81.8L285.7,81.5L285.6,81.0L285.5,80.6L285.4,80.2L285.3,79.8L285.2,79.5L285.1,79.0L285.0,78.8L284.8,78.2L284.8,77.9L284.6,77.5L284.5,77.0L284.4,76.8L284.3,76.2L284.2,76.0L284.1,75.5L284.0,75.2L283.9,74.8L283.8,74.3L283.7,74.0L283.5,73.5L283.5,73.2L283.3,72.8L283.2,72.5L283.1,72.0L283.0,71.6L282.9,71.2L282.8,70.8L282.7,70.5L282.6,70.0L282.5,69.7L282.4,69.2L282.2,68.8L282.2,68.5L282.1,68.0L282.0,67.8L281.9,67.2L281.8,66.8L281.7,66.5L281.6,66.0L281.5,65.7L281.4,65.2L281.3,64.8L281.2,64.5L281.1,64.0L281.0,63.6L280.9,63.2L280.8,62.8L280.8,62.4L280.7,62.0L280.6,61.5L280.5,61.2L280.4,60.8L280.3,60.2L280.3,59.8L280.2,59.5L280.2,59.0L280.1,58.5L280.1,58.0L280.0,57.5L280.0,57.0L280.0,56.5L280.0,56.0L280.1,55.5L280.1,55.0L280.2,54.5L280.3,54.2L280.4,53.8L280.5,53.5L280.7,53.0L280.9,52.8L281.0,52.5L281.2,52.1L281.5,51.8L281.7,51.5L282.0,51.2L282.2,51.0L282.5,50.8L282.8,50.6L283.0,50.4L283.2,50.2L283.6,50.0L284.0,49.8L284.2,49.6L284.5,49.5L285.0,49.2L285.2,49.1L285.6,49.0L286.0,48.9L286.3,48.8L286.8,48.6L287.2,48.5L287.5,48.4L288.0,48.3L288.4,48.2L288.8,48.2L289.2,48.1L289.8,48.1L290.2,48.0L290.8,48.0L291.2,48.0L291.8,48.0L292.2,48.0L292.8,48.1L293.2,48.1L293.8,48.2L294.2,48.2L294.5,48.3L295.0,48.4L295.4,48.5L295.8,48.6L296.2,48.7L296.5,48.8L297.0,49.0L297.2,49.1L297.6,49.2L298.0,49.4L298.2,49.6L298.6,49.8L299.0,50.0L299.2,50.1L299.5,50.3L299.8,50.5L300.1,50.8L300.3,51.0L300.6,51.2L300.8,51.5L301.0,51.8L301.2,52.0L301.5,52.4L301.7,52.8L301.8,53.0L302.0,53.5L302.1,53.8L302.2,54.2L302.3,54.5L302.4,55.0L302.4,55.5L302.4,56.0L302.4,56.5L302.4,57.0L302.4,57.5L302.3,58.0L302.2,58.4L302.2,58.8L302.1,59.2L302.0,59.8L302.0,60.0L301.9,60.5L301.8,61.0L301.7,61.2L301.6,61.8L301.5,62.0L301.4,62.5L301.2,62.9L301.2,63.2L301.0,63.8L301.0,64.0L300.8,64.5L300.7,64.8L300.6,65.2L300.5,65.6L300.4,66.0L300.2,66.4L300.1,66.8L300.0,67.2L299.9,67.5L299.8,68.0L299.7,68.2L299.5,68.8L299.4,69.0L299.3,69.5L299.2,69.8L299.0,70.2L299.0,70.5L298.8,71.0L298.7,71.2L298.5,71.8L298.5,72.0L298.3,72.5L298.2,72.8L298.0,73.2L298.0,73.5L297.8,74.0L297.7,74.2L297.5,74.8L297.5,75.0L297.3,75.5L297.2,75.8L297.0,76.2L297.0,76.5L296.8,77.0L296.7,77.2L296.5,77.8L296.5,78.0L296.3,78.5L296.2,78.8L296.0,79.2L296.0,79.5L295.8,80.0L295.7,80.2L295.6,80.8L295.5,81.0L295.3,81.5L295.2,81.8L295.1,82.2L295.0,82.5L294.8,83.0L294.7,83.2L294.6,83.8L294.5,84.0L294.3,84.5L294.2,84.8L294.1,85.2L294.0,85.5L293.8,86.0L293.7,86.2L293.5,86.8L293.4,87.0L293.2,87.3L293.0,87.8L292.9,88.0L292.7,88.2L292.5,88.5L292.2,88.8L292.0,89.0L291.7,89.2L291.2,89.5L291.0,89.6Z" fill="#a8587a" stroke="#5a1028" stroke-width="0.7" fill-rule="evenodd"/><path d="M291.0,87.6L290.5,87.7L290.0,87.7L289.6,87.5L289.2,87.3L289.0,87.0L288.8,86.8L288.6,86.5L288.5,86.2L288.2,85.8L288.1,85.5L288.0,85.2L287.9,84.8L287.8,84.4L287.6,84.0L287.5,83.5L287.4,83.2L287.3,82.8L287.2,82.4L287.1,82.0L287.0,81.5L287.0,81.2L286.9,80.8L286.8,80.2L286.7,80.0L286.6,79.5L286.5,79.1L286.4,78.8L286.3,78.2L286.2,77.9L286.2,77.5L286.1,77.0L286.0,76.7L285.9,76.2L285.8,75.8L285.7,75.5L285.6,75.0L285.5,74.5L285.5,74.2L285.3,73.8L285.2,73.3L285.2,73.0L285.1,72.5L285.0,72.1L284.9,71.8L284.8,71.2L284.8,71.0L284.6,70.5L284.5,70.0L284.5,69.8L284.4,69.2L284.3,68.8L284.2,68.5L284.1,68.0L284.0,67.5L284.0,67.2L283.9,66.8L283.8,66.2L283.7,66.0L283.6,65.5L283.5,65.0L283.5,64.8L283.4,64.2L283.3,63.8L283.2,63.4L283.2,63.0L283.1,62.5L283.0,62.0L283.0,61.8L282.9,61.2L282.8,60.8L282.8,60.2L282.7,60.0L282.7,59.5L282.7,59.0L282.6,58.5L282.6,58.0L282.6,57.5L282.6,57.0L282.6,56.5L282.7,56.0L282.8,55.6L282.8,55.2L282.9,54.8L283.0,54.5L283.2,54.0L283.3,53.8L283.5,53.4L283.8,53.0L283.9,52.8L284.2,52.5L284.4,52.2L284.6,52.0L284.9,51.8L285.2,51.5L285.5,51.4L285.8,51.2L286.1,51.0L286.5,50.8L286.8,50.7L287.2,50.5L287.5,50.4L288.0,50.3L288.2,50.2L288.8,50.1L289.1,50.0L289.5,49.9L290.0,49.9L290.5,49.8L291.0,49.8L291.5,49.8L292.0,49.8L292.5,49.9L293.0,49.9L293.5,50.0L293.8,50.1L294.2,50.2L294.6,50.2L295.0,50.4L295.4,50.5L295.8,50.7L296.0,50.8L296.5,51.0L296.8,51.2L297.0,51.3L297.3,51.5L297.6,51.8L297.9,52.0L298.2,52.2L298.4,52.5L298.6,52.8L298.8,53.0L299.0,53.3L299.2,53.8L299.3,54.0L299.5,54.5L299.6,54.8L299.7,55.2L299.7,55.8L299.8,56.0L299.8,56.5L299.8,57.0L299.8,57.5L299.8,57.9L299.7,58.2L299.7,58.8L299.6,59.2L299.5,59.8L299.5,60.0L299.4,60.5L299.3,61.0L299.2,61.3L299.2,61.8L299.1,62.2L299.0,62.5L298.9,63.0L298.8,63.5L298.7,63.8L298.6,64.2L298.5,64.7L298.4,65.0L298.3,65.5L298.2,65.8L298.1,66.2L298.0,66.7L297.9,67.0L297.8,67.5L297.7,67.8L297.6,68.2L297.5,68.6L297.4,69.0L297.3,69.5L297.2,69.8L297.1,70.2L297.0,70.5L296.9,71.0L296.8,71.4L296.6,71.8L296.5,72.2L296.4,72.5L296.3,73.0L296.2,73.2L296.1,73.8L296.0,74.1L295.9,74.5L295.8,75.0L295.7,75.2L295.5,75.8L295.5,76.0L295.3,76.5L295.2,76.8L295.1,77.2L295.0,77.7L294.9,78.0L294.8,78.5L294.7,78.8L294.6,79.2L294.5,79.5L294.4,80.0L294.2,80.4L294.2,80.8L294.0,81.2L294.0,81.5L293.8,82.0L293.7,82.2L293.6,82.8L293.5,83.1L293.4,83.5L293.2,84.0L293.2,84.2L293.0,84.7L292.9,85.0L292.8,85.4L292.6,85.8L292.5,86.0L292.2,86.4L292.0,86.8L291.8,87.0L291.6,87.2L291.2,87.5L291.0,87.6Z" fill="#dcb0c2" stroke="#5a1028" stroke-width="0.7" fill-rule="evenodd"/><path d="M290.8,86.3L290.2,86.3L290.0,86.2L289.6,86.0L289.4,85.8L289.2,85.5L289.0,85.2L288.8,84.8L288.7,84.5L288.5,84.1L288.4,83.8L288.3,83.2L288.2,83.0L288.1,82.5L288.0,82.1L287.9,81.8L287.8,81.2L287.8,80.9L287.7,80.5L287.6,80.0L287.5,79.6L287.4,79.2L287.4,78.8L287.3,78.2L287.2,78.0L287.1,77.5L287.0,77.0L287.0,76.7L286.9,76.2L286.8,75.8L286.8,75.3L286.7,75.0L286.6,74.5L286.5,74.0L286.5,73.8L286.4,73.2L286.3,72.8L286.2,72.5L286.2,72.0L286.1,71.5L286.0,71.2L285.9,70.8L285.8,70.2L285.8,69.8L285.7,69.5L285.6,69.0L285.5,68.5L285.5,68.2L285.4,67.8L285.3,67.2L285.2,66.8L285.2,66.5L285.1,66.0L285.0,65.5L285.0,65.2L284.9,64.8L284.8,64.2L284.8,63.8L284.7,63.5L284.7,63.0L284.6,62.5L284.5,62.0L284.5,61.7L284.5,61.2L284.4,60.8L284.4,60.2L284.3,59.8L284.3,59.2L284.3,58.8L284.3,58.2L284.3,57.8L284.3,57.2L284.3,56.8L284.4,56.2L284.5,55.8L284.6,55.5L284.7,55.0L284.8,54.8L285.0,54.3L285.2,54.0L285.3,53.8L285.5,53.5L285.8,53.2L286.0,52.9L286.2,52.7L286.5,52.5L286.9,52.2L287.2,52.0L287.5,51.9L287.8,51.8L288.2,51.6L288.5,51.5L289.0,51.3L289.4,51.2L289.8,51.2L290.2,51.1L290.8,51.1L291.2,51.1L291.8,51.1L292.2,51.1L292.8,51.2L293.1,51.2L293.5,51.3L294.0,51.5L294.2,51.6L294.8,51.7L295.0,51.9L295.3,52.0L295.7,52.2L296.0,52.5L296.2,52.7L296.5,52.9L296.8,53.1L297.0,53.4L297.2,53.8L297.4,54.0L297.5,54.3L297.7,54.8L297.8,55.0L297.9,55.5L298.0,56.0L298.0,56.2L298.1,56.8L298.1,57.2L298.1,57.8L298.1,58.2L298.0,58.8L298.0,59.2L298.0,59.5L297.9,60.0L297.8,60.5L297.8,61.0L297.7,61.2L297.6,61.8L297.5,62.2L297.5,62.5L297.4,63.0L297.3,63.5L297.2,63.8L297.1,64.2L297.0,64.8L297.0,65.0L296.9,65.5L296.8,66.0L296.7,66.2L296.6,66.8L296.5,67.2L296.4,67.5L296.3,68.0L296.2,68.3L296.2,68.8L296.0,69.2L296.0,69.5L295.9,70.0L295.8,70.4L295.7,70.8L295.6,71.2L295.5,71.5L295.4,72.0L295.2,72.5L295.2,72.8L295.1,73.2L295.0,73.5L294.9,74.0L294.8,74.5L294.7,74.8L294.6,75.2L294.5,75.6L294.4,76.0L294.3,76.5L294.2,76.8L294.1,77.2L294.0,77.7L293.9,78.0L293.8,78.5L293.8,78.8L293.6,79.2L293.5,79.8L293.5,80.0L293.3,80.5L293.2,80.9L293.2,81.2L293.0,81.8L293.0,82.0L292.8,82.5L292.8,82.8L292.6,83.2L292.5,83.6L292.4,84.0L292.2,84.4L292.1,84.8L292.0,85.0L291.8,85.4L291.5,85.7L291.2,86.0L291.0,86.2L290.8,86.3Z" fill="#8a3052" stroke="#5a1028" stroke-width="0.7" fill-rule="evenodd"/><path d="M290.8,84.8L290.2,84.9L290.0,84.8L289.7,84.5L289.5,84.2L289.2,83.8L289.1,83.5L289.0,83.1L288.9,82.8L288.8,82.2L288.7,82.0L288.6,81.5L288.5,81.0L288.5,80.8L288.4,80.2L288.3,79.8L288.2,79.5L288.2,79.0L288.1,78.5L288.0,78.0L288.0,77.8L287.9,77.2L287.8,76.8L287.8,76.2L287.7,76.0L287.7,75.5L287.6,75.0L287.5,74.5L287.5,74.2L287.4,73.8L287.3,73.2L287.3,72.8L287.2,72.5L287.1,72.0L287.1,71.5L287.0,71.1L287.0,70.8L286.9,70.2L286.8,69.8L286.8,69.4L286.7,69.0L286.6,68.5L286.5,68.0L286.5,67.7L286.4,67.2L286.4,66.8L286.3,66.2L286.2,65.9L286.2,65.5L286.1,65.0L286.1,64.5L286.0,64.0L286.0,63.8L285.9,63.2L285.9,62.8L285.8,62.2L285.8,61.8L285.8,61.5L285.7,61.0L285.7,60.5L285.7,60.0L285.6,59.5L285.6,59.0L285.6,58.5L285.7,58.0L285.7,57.5L285.8,57.0L285.8,56.8L285.9,56.2L286.0,55.8L286.1,55.5L286.2,55.1L286.4,54.8L286.6,54.5L286.8,54.2L287.0,53.9L287.2,53.7L287.5,53.5L287.8,53.2L288.2,53.0L288.5,52.8L288.8,52.7L289.2,52.5L289.5,52.4L290.0,52.3L290.5,52.3L290.8,52.2L291.2,52.2L291.8,52.2L292.0,52.3L292.5,52.3L293.0,52.4L293.2,52.5L293.8,52.7L294.0,52.8L294.4,53.0L294.8,53.2L295.0,53.4L295.2,53.7L295.5,53.9L295.8,54.2L295.9,54.5L296.1,54.8L296.2,55.2L296.4,55.5L296.5,56.0L296.5,56.2L296.6,56.8L296.7,57.2L296.7,57.8L296.7,58.2L296.7,58.8L296.6,59.2L296.6,59.8L296.5,60.2L296.5,60.6L296.5,61.0L296.4,61.5L296.3,62.0L296.2,62.4L296.2,62.8L296.1,63.2L296.0,63.8L296.0,64.0L295.9,64.5L295.8,65.0L295.8,65.3L295.7,65.8L295.6,66.2L295.5,66.5L295.4,67.0L295.3,67.5L295.2,67.8L295.2,68.2L295.1,68.8L295.0,69.0L294.9,69.5L294.8,70.0L294.7,70.2L294.6,70.8L294.5,71.2L294.5,71.5L294.4,72.0L294.3,72.5L294.2,72.8L294.1,73.2L294.0,73.7L293.9,74.0L293.8,74.5L293.8,74.9L293.7,75.2L293.6,75.8L293.5,76.1L293.4,76.5L293.3,77.0L293.2,77.3L293.2,77.8L293.1,78.2L293.0,78.5L292.9,79.0L292.8,79.5L292.7,79.8L292.6,80.2L292.5,80.8L292.5,81.0L292.3,81.5L292.2,81.8L292.1,82.2L292.0,82.7L291.9,83.0L291.8,83.4L291.6,83.8L291.5,84.0L291.2,84.4L291.0,84.7L290.8,84.8Z" fill="#cc96ac" stroke="#5a1028" stroke-width="0.7" fill-rule="evenodd"/><path d="M290.5,83.0L290.2,83.0L290.0,82.8L289.8,82.4L289.6,82.0L289.5,81.7L289.4,81.2L289.3,80.8L289.2,80.5L289.1,80.0L289.1,79.5L289.0,79.1L289.0,78.8L288.9,78.2L288.8,77.8L288.8,77.2L288.7,77.0L288.7,76.5L288.6,76.0L288.5,75.5L288.5,75.1L288.5,74.8L288.4,74.2L288.3,73.8L288.3,73.2L288.2,73.0L288.2,72.5L288.1,72.0L288.1,71.5L288.0,71.1L288.0,70.8L287.9,70.2L287.8,69.8L287.8,69.2L287.7,69.0L287.7,68.5L287.6,68.0L287.5,67.5L287.5,67.1L287.5,66.8L287.4,66.2L287.3,65.8L287.3,65.2L287.2,65.0L287.2,64.5L287.2,64.0L287.1,63.5L287.1,63.0L287.0,62.5L287.0,62.1L287.0,61.8L287.0,61.2L286.9,60.8L286.9,60.2L286.9,59.8L286.9,59.2L286.9,58.8L287.0,58.2L287.0,58.0L287.1,57.5L287.2,57.0L287.2,56.7L287.4,56.2L287.5,55.9L287.7,55.5L287.9,55.2L288.0,55.0L288.2,54.7L288.5,54.5L288.8,54.2L289.2,54.0L289.5,53.8L289.8,53.7L290.2,53.6L290.7,53.5L291.0,53.5L291.5,53.5L291.8,53.5L292.2,53.6L292.8,53.7L293.0,53.8L293.3,54.0L293.7,54.2L294.0,54.5L294.2,54.7L294.5,55.0L294.6,55.2L294.8,55.5L295.0,56.0L295.0,56.2L295.2,56.8L295.2,57.2L295.3,57.5L295.3,58.0L295.4,58.5L295.4,59.0L295.3,59.5L295.3,60.0L295.3,60.5L295.2,60.8L295.2,61.2L295.1,61.8L295.1,62.2L295.0,62.8L295.0,63.0L294.9,63.5L294.8,64.0L294.8,64.5L294.7,64.8L294.6,65.2L294.5,65.8L294.5,66.0L294.4,66.5L294.3,67.0L294.2,67.4L294.2,67.8L294.1,68.2L294.0,68.7L294.0,69.0L293.9,69.5L293.8,70.0L293.7,70.2L293.6,70.8L293.5,71.2L293.5,71.5L293.4,72.0L293.3,72.5L293.2,72.8L293.1,73.2L293.1,73.8L293.0,74.1L292.9,74.5L292.8,75.0L292.8,75.4L292.7,75.8L292.6,76.2L292.5,76.7L292.5,77.0L292.4,77.5L292.3,78.0L292.2,78.2L292.1,78.8L292.0,79.2L292.0,79.5L291.9,80.0L291.8,80.5L291.7,80.8L291.5,81.2L291.5,81.5L291.3,82.0L291.2,82.2L291.0,82.6L290.8,82.9L290.5,83.0Z" fill="#742444" stroke="#5a1028" stroke-width="0.7" fill-rule="evenodd"/><path d="M290.5,78.6L290.3,78.2L290.2,78.0L290.1,77.5L290.0,77.2L289.9,76.8L289.8,76.2L289.8,75.8L289.7,75.5L289.7,75.0L289.6,74.5L289.5,74.0L289.5,73.8L289.4,73.2L289.4,72.8L289.3,72.2L289.3,71.8L289.2,71.5L289.2,71.0L289.1,70.5L289.1,70.0L289.0,69.6L289.0,69.2L288.9,68.8L288.8,68.2L288.8,67.8L288.8,67.4L288.7,67.0L288.7,66.5L288.6,66.0L288.6,65.5L288.5,65.0L288.5,64.8L288.4,64.2L288.4,63.8L288.4,63.2L288.3,62.8L288.3,62.2L288.3,61.8L288.3,61.2L288.3,60.8L288.3,60.2L288.3,59.8L288.4,59.2L288.4,58.8L288.5,58.2L288.5,58.0L288.7,57.5L288.8,57.2L289.0,56.8L289.1,56.5L289.3,56.2L289.5,56.0L289.8,55.7L290.1,55.5L290.5,55.3L290.8,55.2L291.2,55.2L291.7,55.2L292.0,55.3L292.4,55.5L292.7,55.8L292.9,56.0L293.1,56.2L293.3,56.5L293.5,56.9L293.6,57.2L293.7,57.8L293.8,58.0L293.9,58.5L293.9,59.0L293.9,59.5L293.9,60.0L293.9,60.5L293.9,61.0L293.8,61.5L293.8,62.0L293.8,62.3L293.7,62.8L293.7,63.2L293.6,63.8L293.5,64.2L293.5,64.5L293.4,65.0L293.3,65.5L293.3,66.0L293.2,66.2L293.1,66.8L293.0,67.2L293.0,67.5L292.9,68.0L292.8,68.5L292.8,69.0L292.7,69.2L292.6,69.8L292.5,70.2L292.5,70.5L292.4,71.0L292.3,71.5L292.2,71.8L292.1,72.2L292.0,72.8L292.0,73.0L291.9,73.5L291.8,74.0L291.8,74.4L291.7,74.8L291.6,75.2L291.5,75.7L291.4,76.0L291.3,76.5L291.2,76.8L291.1,77.2L291.0,77.8L290.9,78.0L290.8,78.4L290.5,78.6Z" fill="#b4708e" stroke="#5a1028" stroke-width="0.7" fill-rule="evenodd"/></g><polygon points="282.4,57.5 285.6,50.2 300,50.2 300,90.2 282.4,90.2" fill="none" stroke="#d82a1c" stroke-width="1.9" stroke-linejoin="round"/>
<text x="257" y="33" font-size="6.3" fill="#111" font-weight="bold">7.8</text>
<text x="311" y="58.2" font-size="6.4" fill="#111" font-weight="bold">78.1</text>
<path d="M429.8,110.3L429.0,110.4L428.2,110.5L427.5,110.4L426.8,110.4L426.2,110.2L425.5,110.1L425.0,109.9L424.5,109.7L424.0,109.5L423.5,109.2L423.0,108.9L422.5,108.6L422.0,108.2L421.7,108.0L421.2,107.6L420.9,107.2L420.5,106.9L420.1,106.5L419.8,106.1L419.5,105.8L419.1,105.2L418.8,104.8L418.5,104.4L418.2,104.0L417.9,103.5L417.6,103.0L417.3,102.5L417.0,102.0L416.8,101.5L416.6,101.0L416.3,100.5L416.1,100.0L415.9,99.5L415.7,99.0L415.5,98.5L415.2,97.8L415.1,97.2L414.9,96.8L414.8,96.2L414.6,95.5L414.4,95.0L414.3,94.2L414.1,93.8L414.0,93.1L413.9,92.5L413.8,91.8L413.7,91.2L413.6,90.5L413.5,89.9L413.4,89.2L413.3,88.5L413.3,87.8L413.2,87.2L413.2,86.5L413.2,85.8L413.2,85.0L413.2,84.2L413.2,83.5L413.2,82.8L413.2,82.0L413.3,81.5L413.3,80.8L413.4,80.0L413.5,79.2L413.5,78.8L413.6,78.0L413.8,77.3L413.8,76.8L414.0,76.0L414.1,75.5L414.2,74.8L414.4,74.2L414.5,73.8L414.7,73.0L414.8,72.5L415.0,72.0L415.2,71.2L415.4,70.8L415.6,70.2L415.8,69.8L416.0,69.2L416.2,68.7L416.5,68.1L416.8,67.6L417.0,67.1L417.2,66.6L417.5,66.2L417.8,65.7L418.1,65.2L418.4,64.8L418.7,64.2L419.0,63.9L419.3,63.5L419.7,63.0L420.0,62.6L420.4,62.2L420.8,61.9L421.1,61.5L421.5,61.2L422.0,60.8L422.4,60.5L422.8,60.2L423.2,59.9L423.8,59.6L424.2,59.4L424.8,59.2L425.2,59.0L426.0,58.8L426.5,58.7L427.2,58.6L428.0,58.5L428.8,58.6L429.5,58.7L430.0,58.8L430.8,59.0L431.2,59.2L431.8,59.4L432.2,59.6L432.8,59.9L433.2,60.2L433.6,60.5L434.0,60.8L434.5,61.2L434.9,61.5L435.2,61.9L435.6,62.2L436.0,62.6L436.3,63.0L436.7,63.5L437.0,63.9L437.3,64.2L437.6,64.8L437.9,65.2L438.2,65.7L438.5,66.2L438.8,66.6L439.0,67.1L439.2,67.6L439.5,68.1L439.8,68.7L440.0,69.2L440.2,69.8L440.4,70.2L440.6,70.8L440.8,71.2L441.0,72.0L441.2,72.5L441.3,73.0L441.5,73.8L441.6,74.2L441.8,74.8L441.9,75.5L442.0,76.0L442.2,76.8L442.2,77.3L442.4,78.0L442.5,78.8L442.5,79.2L442.6,80.0L442.7,80.8L442.7,81.5L442.8,82.0L442.8,82.8L442.8,83.5L442.8,84.2L442.8,85.0L442.8,85.8L442.8,86.5L442.8,87.2L442.7,87.8L442.7,88.5L442.6,89.2L442.5,89.9L442.4,90.5L442.3,91.2L442.2,91.8L442.1,92.5L442.0,93.1L441.9,93.8L441.7,94.2L441.6,95.0L441.4,95.5L441.2,96.2L441.1,96.8L440.9,97.2L440.8,97.8L440.5,98.5L440.3,99.0L440.1,99.5L439.9,100.0L439.7,100.5L439.4,101.0L439.2,101.5L439.0,102.0L438.7,102.5L438.4,103.0L438.1,103.5L437.8,104.0L437.5,104.4L437.2,104.8L436.9,105.2L436.5,105.8L436.2,106.1L435.9,106.5L435.5,106.9L435.1,107.2L434.8,107.6L434.3,108.0L434.0,108.2L433.5,108.6L433.0,108.9L432.5,109.2L432.0,109.5L431.5,109.7L431.0,109.9L430.5,110.1L429.8,110.2Z" fill="url(#pd0)" fill-opacity="1.0"/><path d="M428.5,105.5L427.8,105.5L427.2,105.5L426.5,105.4L426.0,105.2L425.3,105.0L424.8,104.8L424.3,104.5L423.9,104.2L423.5,104.0L423.0,103.6L422.6,103.2L422.2,103.0L421.8,102.5L421.5,102.2L421.1,101.8L420.8,101.3L420.5,100.9L420.2,100.5L419.9,100.0L419.6,99.5L419.3,99.0L419.0,98.5L418.8,98.0L418.6,97.5L418.3,97.0L418.1,96.5L417.9,96.0L417.8,95.5L417.5,94.8L417.4,94.2L417.2,93.8L417.0,93.0L416.9,92.5L416.8,91.9L416.6,91.2L416.5,90.6L416.4,90.0L416.3,89.2L416.2,88.8L416.1,88.0L416.1,87.2L416.0,86.5L416.0,85.8L416.0,85.2L416.0,84.5L416.0,83.8L416.0,83.2L416.0,82.5L416.1,81.8L416.1,81.0L416.2,80.2L416.3,79.8L416.4,79.0L416.5,78.4L416.6,77.8L416.8,77.1L416.9,76.5L417.0,76.0L417.2,75.2L417.4,74.8L417.5,74.2L417.8,73.5L417.9,73.0L418.1,72.5L418.3,72.0L418.6,71.5L418.8,71.0L419.0,70.5L419.3,70.0L419.6,69.5L419.9,69.0L420.2,68.5L420.5,68.1L420.8,67.7L421.1,67.2L421.5,66.8L421.8,66.5L422.2,66.0L422.6,65.8L423.0,65.4L423.5,65.0L423.9,64.8L424.3,64.5L424.8,64.2L425.3,64.0L426.0,63.8L426.5,63.6L427.2,63.5L427.8,63.5L428.5,63.5L429.0,63.5L429.8,63.7L430.2,63.8L430.8,64.0L431.2,64.3L431.8,64.5L432.2,64.8L432.8,65.2L433.2,65.5L433.5,65.8L434.0,66.2L434.2,66.5L434.7,67.0L435.0,67.4L435.3,67.8L435.6,68.2L436.0,68.8L436.2,69.2L436.5,69.6L436.8,70.1L437.0,70.6L437.2,71.1L437.5,71.6L437.8,72.2L438.0,72.8L438.2,73.2L438.3,73.8L438.5,74.3L438.7,75.0L438.9,75.5L439.0,76.0L439.2,76.8L439.3,77.2L439.4,78.0L439.5,78.5L439.6,79.2L439.7,80.0L439.8,80.5L439.9,81.2L439.9,82.0L440.0,82.8L440.0,83.4L440.0,84.0L440.0,84.8L440.0,85.5L440.0,86.0L439.9,86.8L439.9,87.5L439.8,88.2L439.8,88.9L439.7,89.5L439.6,90.2L439.5,90.8L439.3,91.5L439.2,92.0L439.1,92.8L438.9,93.2L438.8,93.9L438.6,94.5L438.4,95.0L438.2,95.5L438.0,96.2L437.8,96.8L437.6,97.2L437.3,97.8L437.1,98.2L436.8,98.8L436.6,99.2L436.3,99.8L436.0,100.2L435.8,100.6L435.5,101.0L435.1,101.5L434.8,101.9L434.4,102.2L434.0,102.7L433.7,103.0L433.2,103.4L432.8,103.8L432.5,104.0L432.0,104.3L431.5,104.6L431.0,104.9L430.5,105.1L430.0,105.2L429.2,105.4L428.6,105.5Z" fill="url(#pw0)" fill-opacity="1.0"/><path d="M428.2,103.3L427.8,103.3L427.5,103.2L427.0,103.2L426.5,103.1L426.2,103.0L425.8,102.8L425.5,102.7L425.0,102.5L424.8,102.4L424.5,102.2L424.1,102.0L423.8,101.8L423.5,101.5L423.2,101.3L423.0,101.1L422.8,100.9L422.5,100.6L422.2,100.3L422.0,100.0L421.8,99.8L421.6,99.5L421.4,99.2L421.2,99.0L421.0,98.7L420.8,98.3L420.6,98.0L420.4,97.8L420.2,97.5L420.0,97.0L419.9,96.8L419.8,96.5L419.5,96.0L419.4,95.8L419.2,95.3L419.1,95.0L419.0,94.7L418.8,94.2L418.8,94.0L418.6,93.5L418.5,93.2L418.4,92.8L418.2,92.3L418.2,92.0L418.1,91.5L418.0,91.2L417.9,90.8L417.8,90.2L417.8,90.0L417.7,89.5L417.6,89.0L417.5,88.5L417.5,88.2L417.4,87.8L417.4,87.2L417.4,86.8L417.3,86.2L417.3,85.8L417.3,85.2L417.3,84.8L417.3,84.2L417.3,83.8L417.3,83.2L417.3,82.8L417.4,82.2L417.4,81.8L417.4,81.2L417.5,80.8L417.5,80.5L417.6,80.0L417.7,79.5L417.8,79.0L417.8,78.8L417.9,78.2L418.0,77.8L418.1,77.5L418.2,77.0L418.2,76.7L418.4,76.2L418.5,75.8L418.6,75.5L418.8,75.0L418.8,74.8L419.0,74.3L419.1,74.0L419.2,73.7L419.4,73.2L419.5,73.0L419.8,72.5L419.9,72.2L420.0,72.0L420.2,71.5L420.4,71.2L420.6,71.0L420.8,70.7L421.0,70.3L421.2,70.0L421.4,69.8L421.6,69.5L421.8,69.2L422.0,69.0L422.2,68.7L422.5,68.4L422.8,68.1L423.0,67.9L423.2,67.7L423.5,67.5L423.8,67.2L424.1,67.0L424.5,66.8L424.8,66.6L425.0,66.5L425.5,66.3L425.8,66.2L426.2,66.0L426.5,65.9L427.0,65.8L427.5,65.8L427.8,65.7L428.2,65.7L428.5,65.8L429.0,65.8L429.5,65.9L429.8,66.0L430.2,66.2L430.5,66.3L431.0,66.5L431.2,66.6L431.5,66.8L431.9,67.0L432.2,67.2L432.5,67.5L432.8,67.7L433.0,67.9L433.2,68.1L433.5,68.4L433.8,68.7L434.0,69.0L434.2,69.2L434.4,69.5L434.6,69.8L434.8,70.0L435.0,70.3L435.2,70.7L435.4,71.0L435.6,71.2L435.8,71.5L436.0,72.0L436.1,72.2L436.2,72.5L436.5,73.0L436.6,73.2L436.8,73.7L436.9,74.0L437.0,74.3L437.2,74.8L437.2,75.0L437.4,75.5L437.5,75.8L437.6,76.2L437.8,76.7L437.8,77.0L437.9,77.5L438.0,77.8L438.1,78.2L438.2,78.8L438.2,79.0L438.3,79.5L438.4,80.0L438.5,80.5L438.5,80.8L438.6,81.2L438.6,81.8L438.6,82.2L438.7,82.8L438.7,83.2L438.7,83.8L438.7,84.2L438.7,84.8L438.7,85.2L438.7,85.8L438.7,86.2L438.6,86.8L438.6,87.2L438.6,87.8L438.5,88.2L438.5,88.5L438.4,89.0L438.3,89.5L438.2,90.0L438.2,90.2L438.1,90.8L438.0,91.2L437.9,91.5L437.8,92.0L437.8,92.3L437.6,92.8L437.5,93.2L437.4,93.5L437.2,94.0L437.2,94.2L437.0,94.7L436.9,95.0L436.8,95.3L436.6,95.8L436.5,96.0L436.2,96.5L436.1,96.8L436.0,97.0L435.8,97.5L435.6,97.8L435.4,98.0L435.2,98.3L435.0,98.7L434.8,99.0L434.6,99.2L434.4,99.5L434.2,99.8L434.0,100.0L433.8,100.3L433.5,100.6L433.2,100.9L433.0,101.1L432.8,101.3L432.5,101.5L432.2,101.8L431.9,102.0L431.5,102.2L431.2,102.4L431.0,102.5L430.5,102.7L430.2,102.8L429.8,103.0L429.5,103.1L429.0,103.2L428.5,103.2L428.2,103.3Z" fill="#a6a6a6" stroke="#3a3a3a" stroke-width="0.5" fill-rule="evenodd"/><path d="M428.8,100.5L428.2,100.6L427.8,100.6L427.2,100.5L427.0,100.5L426.5,100.4L426.1,100.2L425.8,100.1L425.5,100.0L425.1,99.8L424.8,99.5L424.5,99.4L424.2,99.2L424.0,99.0L423.7,98.8L423.5,98.5L423.2,98.2L423.0,98.0L422.8,97.7L422.5,97.4L422.2,97.0L422.0,96.8L421.9,96.5L421.7,96.2L421.5,95.9L421.3,95.5L421.2,95.2L421.0,94.9L420.8,94.5L420.7,94.2L420.5,93.8L420.4,93.5L420.2,93.1L420.1,92.8L420.0,92.4L419.9,92.0L419.8,91.6L419.7,91.2L419.5,90.8L419.5,90.5L419.4,90.0L419.3,89.5L419.2,89.2L419.1,88.8L419.1,88.2L419.0,87.8L419.0,87.5L418.9,87.0L418.9,86.5L418.8,86.0L418.8,85.5L418.8,85.0L418.8,84.5L418.8,84.0L418.8,83.5L418.8,83.0L418.9,82.5L418.9,82.0L419.0,81.5L419.0,81.2L419.1,80.8L419.1,80.2L419.2,79.8L419.3,79.5L419.4,79.0L419.5,78.5L419.5,78.2L419.7,77.8L419.8,77.4L419.9,77.0L420.0,76.6L420.1,76.2L420.2,75.9L420.4,75.5L420.5,75.2L420.7,74.8L420.8,74.5L421.0,74.1L421.2,73.8L421.3,73.5L421.5,73.1L421.7,72.8L421.9,72.5L422.0,72.2L422.2,72.0L422.5,71.6L422.8,71.3L423.0,71.0L423.2,70.8L423.5,70.5L423.7,70.2L424.0,70.0L424.2,69.8L424.5,69.6L424.8,69.5L425.1,69.2L425.5,69.0L425.8,68.9L426.1,68.8L426.5,68.6L427.0,68.5L427.2,68.5L427.8,68.4L428.2,68.4L428.8,68.5L429.0,68.5L429.5,68.6L429.9,68.8L430.2,68.9L430.5,69.0L430.9,69.2L431.2,69.5L431.5,69.6L431.8,69.8L432.0,70.0L432.3,70.2L432.5,70.5L432.8,70.8L433.0,71.0L433.2,71.3L433.5,71.6L433.8,72.0L434.0,72.2L434.1,72.5L434.3,72.8L434.5,73.1L434.7,73.5L434.8,73.8L435.0,74.1L435.2,74.5L435.3,74.8L435.5,75.2L435.6,75.5L435.8,75.9L435.9,76.2L436.0,76.6L436.1,77.0L436.2,77.4L436.3,77.8L436.5,78.2L436.5,78.5L436.6,79.0L436.7,79.5L436.8,79.8L436.9,80.2L436.9,80.8L437.0,81.2L437.0,81.5L437.1,82.0L437.1,82.5L437.2,83.0L437.2,83.5L437.2,84.0L437.2,84.5L437.2,85.0L437.2,85.5L437.2,86.0L437.1,86.5L437.1,87.0L437.0,87.5L437.0,87.8L436.9,88.2L436.9,88.8L436.8,89.2L436.7,89.5L436.6,90.0L436.5,90.5L436.5,90.8L436.3,91.2L436.2,91.6L436.1,92.0L436.0,92.4L435.9,92.8L435.8,93.1L435.6,93.5L435.5,93.8L435.3,94.2L435.2,94.5L435.0,94.9L434.8,95.2L434.7,95.5L434.5,95.9L434.3,96.2L434.1,96.5L434.0,96.8L433.8,97.0L433.5,97.4L433.2,97.7L433.0,98.0L432.8,98.2L432.5,98.5L432.3,98.8L432.0,99.0L431.8,99.2L431.5,99.4L431.2,99.5L430.9,99.8L430.5,100.0L430.2,100.1L429.9,100.2L429.5,100.4L429.0,100.5L428.8,100.5Z" fill="#bababa" stroke="#3a3a3a" stroke-width="0.5" fill-rule="evenodd"/><path d="M428.2,98.5L427.8,98.5L427.5,98.5L427.0,98.4L426.5,98.3L426.2,98.2L425.9,98.0L425.5,97.8L425.2,97.7L425.0,97.5L424.7,97.2L424.4,97.0L424.1,96.8L423.9,96.5L423.6,96.2L423.4,96.0L423.2,95.8L423.0,95.4L422.8,95.1L422.5,94.8L422.4,94.5L422.2,94.2L422.0,93.8L421.9,93.5L421.7,93.2L421.5,92.8L421.4,92.5L421.2,92.0L421.2,91.8L421.0,91.3L420.9,91.0L420.8,90.5L420.7,90.2L420.6,89.8L420.5,89.4L420.4,89.0L420.3,88.5L420.2,88.0L420.2,87.8L420.1,87.2L420.1,86.8L420.1,86.2L420.0,85.8L420.0,85.2L420.0,85.0L420.0,84.5L420.0,84.0L420.0,83.8L420.0,83.2L420.1,82.8L420.1,82.2L420.1,81.8L420.2,81.2L420.2,81.0L420.3,80.5L420.4,80.0L420.5,79.6L420.6,79.2L420.7,78.8L420.8,78.5L420.9,78.0L421.0,77.7L421.2,77.2L421.2,77.0L421.4,76.5L421.5,76.2L421.7,75.8L421.9,75.5L422.0,75.2L422.2,74.8L422.4,74.5L422.5,74.2L422.8,73.9L423.0,73.6L423.2,73.2L423.4,73.0L423.6,72.8L423.9,72.5L424.1,72.2L424.4,72.0L424.7,71.8L425.0,71.5L425.2,71.3L425.5,71.2L425.9,71.0L426.2,70.8L426.5,70.7L427.0,70.6L427.5,70.5L427.8,70.5L428.2,70.5L428.5,70.5L429.0,70.6L429.5,70.7L429.8,70.8L430.1,71.0L430.5,71.2L430.8,71.3L431.0,71.5L431.3,71.8L431.6,72.0L431.9,72.2L432.1,72.5L432.4,72.8L432.6,73.0L432.8,73.2L433.0,73.6L433.2,73.9L433.5,74.2L433.6,74.5L433.8,74.8L434.0,75.2L434.1,75.5L434.3,75.8L434.5,76.2L434.6,76.5L434.8,77.0L434.8,77.2L435.0,77.7L435.1,78.0L435.2,78.5L435.3,78.8L435.4,79.2L435.5,79.6L435.6,80.0L435.7,80.5L435.8,81.0L435.8,81.2L435.9,81.8L435.9,82.2L435.9,82.8L436.0,83.2L436.0,83.8L436.0,84.0L436.0,84.5L436.0,85.0L436.0,85.2L436.0,85.8L435.9,86.2L435.9,86.8L435.9,87.2L435.8,87.8L435.8,88.0L435.7,88.5L435.6,89.0L435.5,89.4L435.4,89.8L435.3,90.2L435.2,90.5L435.1,91.0L435.0,91.3L434.8,91.8L434.8,92.0L434.6,92.5L434.5,92.8L434.3,93.2L434.1,93.5L434.0,93.8L433.8,94.2L433.6,94.5L433.5,94.8L433.2,95.1L433.0,95.4L432.8,95.8L432.6,96.0L432.4,96.2L432.1,96.5L431.9,96.8L431.6,97.0L431.3,97.2L431.0,97.5L430.8,97.7L430.5,97.8L430.1,98.0L429.8,98.2L429.5,98.3L429.0,98.4L428.5,98.5L428.2,98.5Z" fill="#a8a8a8" stroke="#3a3a3a" stroke-width="0.5" fill-rule="evenodd"/><path d="M429.2,96.5L428.8,96.6L428.2,96.7L427.8,96.7L427.2,96.6L426.8,96.5L426.5,96.4L426.1,96.2L425.8,96.1L425.5,95.9L425.2,95.7L425.0,95.5L424.7,95.2L424.4,95.0L424.2,94.8L424.0,94.5L423.8,94.2L423.5,93.8L423.3,93.5L423.1,93.2L423.0,93.0L422.8,92.5L422.6,92.2L422.5,92.0L422.3,91.5L422.2,91.2L422.0,90.8L421.9,90.5L421.8,90.0L421.7,89.8L421.6,89.2L421.5,88.9L421.4,88.5L421.3,88.0L421.2,87.6L421.2,87.2L421.1,86.8L421.1,86.2L421.1,85.8L421.0,85.2L421.0,84.8L421.0,84.2L421.0,83.8L421.1,83.2L421.1,82.8L421.1,82.2L421.2,81.8L421.2,81.4L421.3,81.0L421.4,80.5L421.5,80.1L421.6,79.8L421.7,79.2L421.8,79.0L421.9,78.5L422.0,78.2L422.2,77.8L422.3,77.5L422.5,77.0L422.6,76.8L422.8,76.5L423.0,76.0L423.1,75.8L423.3,75.5L423.5,75.2L423.8,74.8L424.0,74.5L424.2,74.2L424.4,74.0L424.7,73.8L425.0,73.5L425.2,73.3L425.5,73.1L425.8,72.9L426.1,72.8L426.5,72.6L426.8,72.5L427.2,72.4L427.8,72.3L428.2,72.3L428.8,72.4L429.2,72.5L429.5,72.6L429.9,72.8L430.2,72.9L430.5,73.1L430.8,73.3L431.0,73.5L431.3,73.8L431.6,74.0L431.8,74.2L432.0,74.5L432.2,74.8L432.5,75.2L432.7,75.5L432.9,75.8L433.0,76.0L433.2,76.5L433.4,76.8L433.5,77.0L433.7,77.5L433.8,77.8L434.0,78.2L434.1,78.5L434.2,79.0L434.3,79.2L434.4,79.8L434.5,80.1L434.6,80.5L434.7,81.0L434.8,81.4L434.8,81.8L434.9,82.2L434.9,82.8L434.9,83.2L435.0,83.8L435.0,84.2L435.0,84.8L435.0,85.2L434.9,85.8L434.9,86.2L434.9,86.8L434.8,87.2L434.8,87.6L434.7,88.0L434.6,88.5L434.5,88.9L434.4,89.2L434.3,89.8L434.2,90.0L434.1,90.5L434.0,90.8L433.8,91.2L433.7,91.5L433.5,92.0L433.4,92.2L433.2,92.5L433.0,93.0L432.9,93.2L432.7,93.5L432.5,93.8L432.2,94.2L432.0,94.5L431.8,94.8L431.6,95.0L431.3,95.2L431.0,95.5L430.8,95.7L430.5,95.9L430.2,96.1L429.9,96.2L429.5,96.4L429.2,96.5Z" fill="#bcbcbc" stroke="#3a3a3a" stroke-width="0.5" fill-rule="evenodd"/><path d="M428.5,95.0L428.0,95.1L427.5,95.0L427.2,95.0L426.8,94.8L426.5,94.7L426.1,94.5L425.8,94.3L425.5,94.1L425.2,93.9L425.0,93.7L424.8,93.4L424.5,93.1L424.2,92.8L424.1,92.5L423.9,92.2L423.8,92.0L423.5,91.5L423.4,91.2L423.2,91.0L423.0,90.5L422.9,90.2L422.8,89.8L422.7,89.5L422.5,89.0L422.5,88.8L422.4,88.2L422.3,87.8L422.2,87.5L422.1,87.0L422.1,86.5L422.0,86.0L422.0,85.6L422.0,85.2L422.0,84.8L422.0,84.2L422.0,83.8L422.0,83.4L422.0,83.0L422.1,82.5L422.1,82.0L422.2,81.5L422.3,81.2L422.4,80.8L422.5,80.2L422.5,80.0L422.7,79.5L422.8,79.2L422.9,78.8L423.0,78.5L423.2,78.0L423.4,77.8L423.5,77.5L423.8,77.0L423.9,76.8L424.1,76.5L424.2,76.2L424.5,75.9L424.8,75.6L425.0,75.3L425.2,75.1L425.5,74.9L425.8,74.7L426.1,74.5L426.5,74.3L426.8,74.2L427.2,74.0L427.5,74.0L428.0,73.9L428.5,74.0L428.8,74.0L429.2,74.2L429.5,74.3L429.9,74.5L430.2,74.7L430.5,74.9L430.8,75.1L431.0,75.3L431.2,75.6L431.5,75.9L431.8,76.2L431.9,76.5L432.1,76.8L432.2,77.0L432.5,77.5L432.6,77.8L432.8,78.0L433.0,78.5L433.1,78.8L433.2,79.2L433.3,79.5L433.5,80.0L433.5,80.2L433.6,80.8L433.7,81.2L433.8,81.5L433.9,82.0L433.9,82.5L434.0,83.0L434.0,83.4L434.0,83.8L434.0,84.2L434.0,84.8L434.0,85.2L434.0,85.6L434.0,86.0L433.9,86.5L433.9,87.0L433.8,87.5L433.7,87.8L433.6,88.2L433.5,88.8L433.5,89.0L433.3,89.5L433.2,89.8L433.1,90.2L433.0,90.5L432.8,91.0L432.6,91.2L432.5,91.5L432.2,92.0L432.1,92.2L431.9,92.5L431.8,92.8L431.5,93.1L431.2,93.4L431.0,93.7L430.8,93.9L430.5,94.1L430.2,94.3L429.9,94.5L429.5,94.7L429.2,94.8L428.8,95.0L428.5,95.0Z" fill="#aaaaaa" stroke="#3a3a3a" stroke-width="0.5" fill-rule="evenodd"/><path d="M429.0,93.3L428.5,93.4L428.0,93.4L427.5,93.4L427.0,93.3L426.8,93.2L426.4,93.0L426.0,92.8L425.8,92.5L425.5,92.3L425.2,92.0L425.0,91.8L424.8,91.5L424.7,91.2L424.5,91.0L424.2,90.6L424.1,90.2L424.0,90.0L423.8,89.5L423.7,89.2L423.5,88.8L423.4,88.5L423.3,88.0L423.2,87.8L423.1,87.2L423.1,86.8L423.0,86.3L423.0,86.0L422.9,85.5L422.9,85.0L422.9,84.5L422.9,84.0L422.9,83.5L423.0,83.0L423.0,82.7L423.1,82.2L423.1,81.8L423.2,81.2L423.3,81.0L423.4,80.5L423.5,80.2L423.7,79.8L423.8,79.5L424.0,79.0L424.1,78.8L424.2,78.4L424.5,78.0L424.7,77.8L424.8,77.5L425.0,77.2L425.2,77.0L425.5,76.7L425.8,76.5L426.0,76.2L426.4,76.0L426.8,75.8L427.0,75.7L427.5,75.6L428.0,75.6L428.5,75.6L429.0,75.7L429.2,75.8L429.6,76.0L430.0,76.2L430.2,76.5L430.5,76.7L430.8,77.0L431.0,77.2L431.2,77.5L431.3,77.8L431.5,78.0L431.8,78.4L431.9,78.8L432.0,79.0L432.2,79.5L432.3,79.8L432.5,80.2L432.6,80.5L432.7,81.0L432.8,81.2L432.9,81.8L432.9,82.2L433.0,82.7L433.0,83.0L433.1,83.5L433.1,84.0L433.1,84.5L433.1,85.0L433.1,85.5L433.0,86.0L433.0,86.3L432.9,86.8L432.9,87.2L432.8,87.8L432.7,88.0L432.6,88.5L432.5,88.8L432.3,89.2L432.2,89.5L432.0,90.0L431.9,90.2L431.8,90.6L431.5,91.0L431.3,91.2L431.2,91.5L431.0,91.8L430.8,92.0L430.5,92.3L430.2,92.5L430.0,92.8L429.6,93.0L429.2,93.2L429.0,93.3Z" fill="#bebebe" stroke="#3a3a3a" stroke-width="0.5" fill-rule="evenodd"/><path d="M422,88.5 C421.5,95 424.5,99.5 428,99.5 C431.5,99.5 434.5,95 434,88.5 C432.5,85 423.5,85 422,88.5 Z" fill="#141414" filter="url(#bl05)"/><path d="M427.4,75.5 L428.8,75.5 L429.4,86.5 L431.2,90.5 L430.6,95.5 L428.2,97.2 L425.8,95.5 L425.2,90.5 L427,86.5 Z" fill="#ececec" filter="url(#bl05)"/><rect x="439.5" y="68.6" width="64.9" height="22.7" fill="#fff"/><clipPath id="c13g"><rect x="440.5" y="69.6" width="35" height="20.7"/></clipPath><path d="M430.0,75.9L430.3,75.5L430.7,75.0L431.0,74.6L431.4,74.2L431.8,73.9L432.2,73.5L432.5,73.2L433.0,72.8L433.5,72.5L433.8,72.2L434.2,72.0L434.8,71.7L435.2,71.4L435.8,71.2L436.2,70.9L436.8,70.7L437.2,70.5L437.8,70.2L438.5,70.0L439.0,69.8L439.5,69.7L440.1,69.5L440.8,69.3L441.2,69.2L442.0,69.0L442.5,68.9L443.2,68.8L443.8,68.7L444.5,68.6L445.2,68.6L446.0,68.5L446.5,68.5L447.2,68.4L448.0,68.4L448.8,68.4L449.5,68.5L450.0,68.5L450.8,68.6L451.5,68.6L452.2,68.7L452.8,68.8L453.5,68.9L454.0,69.0L454.8,69.2L455.2,69.3L455.9,69.5L456.5,69.7L457.0,69.8L457.5,70.0L458.2,70.2L458.8,70.5L459.2,70.7L459.8,70.9L460.2,71.2L460.8,71.4L461.2,71.7L461.8,72.0L462.2,72.2L462.5,72.5L463.0,72.8L463.5,73.2L463.8,73.5L464.2,73.9L464.6,74.2L465.0,74.6L465.3,75.0L465.7,75.5L466.0,75.9L466.3,76.2L466.6,76.8L466.8,77.2L467.1,77.8L467.3,78.2L467.5,79.0L467.6,79.5L467.7,80.2L467.7,81.0L467.7,81.8L467.6,82.5L467.5,83.0L467.3,83.8L467.1,84.2L466.8,84.8L466.6,85.2L466.3,85.8L466.0,86.1L465.7,86.5L465.3,87.0L465.0,87.4L464.6,87.8L464.2,88.1L463.8,88.5L463.5,88.8L463.0,89.2L462.5,89.5L462.2,89.8L461.8,90.0L461.2,90.3L460.8,90.6L460.2,90.8L459.8,91.1L459.2,91.3L458.8,91.5L458.2,91.8L457.5,92.0L457.0,92.2L456.5,92.3L455.9,92.5L455.2,92.7L454.8,92.8L454.0,93.0L453.5,93.1L452.8,93.2L452.2,93.3L451.5,93.4L450.8,93.4L450.0,93.5L449.5,93.5L448.8,93.6L448.0,93.6L447.2,93.6L446.5,93.5L446.0,93.5L445.2,93.4L444.5,93.4L443.8,93.3L443.2,93.2L442.5,93.1L442.0,93.0L441.2,92.8L440.8,92.7L440.1,92.5L439.5,92.3L439.0,92.2L438.5,92.0L437.8,91.8L437.2,91.5L436.8,91.3L436.2,91.1L435.8,90.8L435.2,90.6L434.8,90.3L434.2,90.0L433.8,89.8L433.5,89.5L433.0,89.2L432.5,88.8L432.2,88.5L431.8,88.1L431.4,87.8L431.0,87.4L430.7,87.0L430.3,86.5L430.0,86.1" fill="url(#pd0)" fill-opacity="1.0" clip-path="url(#c13g)"/><path d="M450.0,89.8L449.2,89.8L448.5,89.8L447.8,89.8L447.0,89.8L446.2,89.8L445.8,89.7L445.0,89.6L444.2,89.5L443.8,89.4L443.0,89.3L442.5,89.1L442.0,89.0L441.3,88.8L440.8,88.5L440.2,88.3L439.8,88.1L439.2,87.9L438.8,87.6L438.2,87.3L437.8,87.0L437.4,86.8L437.0,86.4L436.5,86.0L436.2,85.7L435.8,85.2L435.5,84.9L435.2,84.5L434.9,84.0L434.7,83.5L434.5,83.0L434.2,82.3L434.1,81.8L434.1,81.0L434.1,80.2L434.2,79.7L434.5,79.0L434.7,78.5L434.9,78.0L435.2,77.5L435.5,77.1L435.8,76.8L436.2,76.3L436.5,76.0L437.0,75.6L437.4,75.2L437.8,75.0L438.2,74.7L438.8,74.4L439.2,74.1L439.8,73.9L440.2,73.7L440.8,73.5L441.3,73.2L442.0,73.0L442.5,72.9L443.0,72.7L443.8,72.6L444.2,72.5L445.0,72.4L445.8,72.3L446.2,72.2L447.0,72.2L447.8,72.2L448.5,72.2L449.2,72.2L450.0,72.2L450.5,72.3L451.2,72.4L451.8,72.5L452.5,72.6L453.0,72.8L453.8,72.9L454.2,73.1L454.8,73.3L455.4,73.5L456.0,73.8L456.5,74.0L457.0,74.2L457.4,74.5L457.8,74.8L458.2,75.0L458.8,75.4L459.2,75.8L459.5,76.0L460.0,76.5L460.2,76.8L460.6,77.2L460.9,77.8L461.2,78.2L461.4,78.8L461.6,79.2L461.8,79.8L461.9,80.5L461.9,81.2L461.8,82.0L461.7,82.5L461.5,83.1L461.2,83.7L461.0,84.1L460.8,84.5L460.4,85.0L460.0,85.5L459.7,85.8L459.2,86.2L458.9,86.5L458.5,86.8L458.0,87.1L457.5,87.5L457.0,87.7L456.5,88.0L456.0,88.2L455.5,88.4L455.0,88.6L454.5,88.8L453.9,89.0L453.2,89.2L452.8,89.3L452.0,89.5L451.5,89.6L450.8,89.7L450.0,89.8Z" fill="url(#pw0)" fill-opacity="1.0" clip-path="url(#c13g)"/><path d="M450.0,86.8L449.2,86.9L448.5,86.9L447.8,86.9L447.0,86.9L446.2,86.8L445.8,86.7L445.0,86.6L444.5,86.5L443.8,86.3L443.2,86.1L442.8,85.9L442.2,85.6L441.8,85.4L441.2,85.1L440.8,84.8L440.5,84.5L440.0,84.0L439.8,83.7L439.4,83.2L439.1,82.8L438.9,82.2L438.8,81.5L438.7,81.0L438.8,80.5L438.9,79.8L439.1,79.2L439.4,78.8L439.8,78.3L440.0,78.0L440.5,77.5L440.8,77.2L441.2,76.9L441.8,76.6L442.2,76.4L442.8,76.1L443.2,75.9L443.8,75.7L444.5,75.5L445.0,75.4L445.8,75.3L446.2,75.2L447.0,75.1L447.8,75.1L448.5,75.1L449.2,75.1L450.0,75.2L450.5,75.3L451.2,75.5L451.8,75.6L452.3,75.8L453.0,76.0L453.5,76.2L454.0,76.5L454.5,76.8L454.8,77.0L455.2,77.3L455.8,77.7L456.0,78.0L456.4,78.5L456.7,79.0L457.0,79.5L457.2,80.0L457.3,80.5L457.3,81.2L457.2,81.8L457.0,82.5L456.8,83.0L456.5,83.4L456.2,83.8L455.8,84.2L455.5,84.5L455.0,84.9L454.5,85.2L454.0,85.5L453.5,85.8L453.0,86.0L452.5,86.2L452.0,86.3L451.4,86.5L450.8,86.6L450.2,86.8Z" fill="url(#pd1)" fill-opacity="1.0" clip-path="url(#c13g)"/><path d="M440.5,74.2 Q452.5,72.5 456.5,79.5 Q455.5,87 440.5,87.2 M440.5,76.8 Q449.5,75.6 452.5,80 Q451,84.3 440.5,84.5 M440.5,79 Q447,78.5 448.5,80.5 Q447.5,82.3 440.5,82.3" fill="none" stroke="#555" stroke-width="0.6"/><path d="M441,89.3 H472" stroke="#6a6ab0" stroke-width="1" opacity="0.55"/><rect x="439.5" y="68.6" width="64.9" height="22.7" fill="none" stroke="#000" stroke-width="2"/>
<text x="468.7" y="63.4" font-size="6.4" fill="#111" font-weight="bold">6.3</text>
<rect x="80.3" y="163.8" width="38.6" height="33.4" fill="#d6d6d6"/><clipPath id="c21a"><rect x="81" y="164.5" width="37.3" height="32"/></clipPath><path d="M100.2,187.5L99.5,187.6L98.8,187.7L98.0,187.7L97.2,187.6L96.5,187.5L96.0,187.4L95.3,187.2L94.8,187.1L94.2,186.9L93.8,186.7L93.2,186.5L92.8,186.2L92.2,185.9L91.8,185.5L91.4,185.2L91.0,184.9L90.5,184.5L90.2,184.2L89.8,183.8L89.5,183.3L89.2,183.0L88.9,182.5L88.6,182.0L88.3,181.5L88.1,181.0L87.9,180.5L87.7,180.0L87.5,179.3L87.4,178.8L87.2,178.1L87.2,177.5L87.1,176.8L87.1,176.0L87.2,175.2L87.3,174.8L87.4,174.0L87.6,173.5L87.8,173.0L88.0,172.4L88.2,171.8L88.5,171.3L88.8,170.9L89.0,170.5L89.4,170.0L89.8,169.5L90.0,169.2L90.5,168.8L90.8,168.5L91.2,168.0L91.6,167.8L92.0,167.5L92.5,167.2L93.0,166.9L93.5,166.6L94.0,166.4L94.5,166.2L95.1,166.0L95.8,165.8L96.2,165.7L97.0,165.6L97.8,165.5L98.5,165.5L99.2,165.6L100.0,165.6L100.5,165.8L101.2,165.9L101.8,166.1L102.3,166.2L102.9,166.5L103.4,166.8L103.9,167.0L104.4,167.2L104.8,167.5L105.2,167.8L105.8,168.1L106.2,168.4L106.8,168.6L107.2,168.9L107.8,169.1L108.2,169.3L108.8,169.5L109.5,169.7L110.0,169.8L110.7,170.0L111.2,170.1L111.9,170.2L112.5,170.4L113.1,170.5L113.8,170.7L114.2,170.8L114.9,171.0L115.5,171.2L116.0,171.4L116.5,171.5L117.0,171.8L117.5,172.0L118.0,172.3L118.5,172.5L119.0,172.9L119.5,173.2L119.8,173.5L120.2,174.0L120.5,174.4L120.8,174.9L120.9,175.5L121.0,176.2L120.8,177.0L120.6,177.5L120.2,177.9L120.0,178.2L119.5,178.7L119.2,179.0L118.8,179.3L118.2,179.6L117.8,179.9L117.2,180.1L116.8,180.4L116.2,180.6L115.7,180.8L115.0,181.0L114.5,181.1L114.0,181.3L113.2,181.5L112.8,181.6L112.1,181.8L111.5,181.9L111.0,182.0L110.2,182.2L109.8,182.4L109.2,182.6L108.8,182.8L108.2,183.0L107.8,183.3L107.2,183.7L106.9,184.0L106.5,184.3L106.0,184.7L105.6,185.0L105.2,185.3L104.8,185.6L104.2,186.0L103.8,186.2L103.3,186.5L102.8,186.7L102.2,186.9L101.8,187.1L101.2,187.3L100.5,187.5Z" fill="url(#pd0)" fill-opacity="1.0" clip-path="url(#c21a)"/><path d="M99.8,185.8L99.0,185.9L98.2,185.9L97.5,185.9L96.8,185.8L96.2,185.7L95.6,185.5L95.0,185.3L94.5,185.1L94.0,184.8L93.5,184.6L93.0,184.2L92.7,184.0L92.2,183.7L91.8,183.2L91.5,183.0L91.1,182.5L90.8,182.1L90.5,181.7L90.2,181.2L89.9,180.8L89.7,180.2L89.5,179.8L89.2,179.0L89.1,178.5L89.0,177.9L88.9,177.2L88.9,176.5L88.9,175.8L89.0,175.1L89.1,174.5L89.3,174.0L89.5,173.3L89.8,172.8L90.0,172.3L90.2,171.8L90.5,171.4L90.8,171.0L91.2,170.5L91.5,170.2L92.0,169.8L92.3,169.5L92.8,169.1L93.2,168.8L93.7,168.5L94.2,168.2L94.7,168.0L95.2,167.8L95.8,167.7L96.4,167.5L97.0,167.4L97.8,167.3L98.5,167.3L99.2,167.3L100.0,167.4L100.5,167.5L101.2,167.7L101.8,167.9L102.2,168.1L102.8,168.3L103.2,168.5L103.8,168.8L104.2,169.1L104.8,169.3L105.2,169.6L105.8,169.8L106.2,170.1L106.8,170.3L107.4,170.5L108.0,170.7L108.5,170.8L109.2,171.0L109.8,171.1L110.4,171.2L111.0,171.4L111.5,171.5L112.2,171.7L112.8,171.8L113.4,172.0L114.0,172.2L114.5,172.4L115.0,172.6L115.5,172.8L116.0,173.1L116.5,173.4L116.9,173.8L117.2,174.1L117.6,174.5L117.9,175.0L118.1,175.5L118.2,176.2L118.0,176.9L117.8,177.3L117.4,177.8L117.0,178.2L116.6,178.5L116.2,178.8L115.8,179.0L115.2,179.3L114.8,179.5L114.1,179.8L113.5,180.0L113.0,180.1L112.5,180.3L111.8,180.5L111.2,180.6L110.6,180.8L110.0,180.9L109.5,181.0L108.8,181.2L108.2,181.4L107.8,181.6L107.2,181.9L106.8,182.1L106.2,182.5L105.8,182.8L105.5,183.0L105.0,183.3L104.5,183.7L104.1,184.0L103.7,184.2L103.2,184.5L102.8,184.8L102.2,185.0L101.7,185.2L101.0,185.5L100.5,185.6L99.9,185.8Z" fill="url(#pw1)" fill-opacity="1.0" clip-path="url(#c21a)"/><path d="M100.0,184.5L99.2,184.7L98.5,184.7L97.8,184.7L97.0,184.6L96.5,184.5L95.8,184.3L95.2,184.1L94.8,183.9L94.2,183.6L93.8,183.3L93.3,183.0L93.0,182.8L92.5,182.3L92.2,182.0L91.8,181.5L91.5,181.1L91.2,180.7L91.0,180.2L90.8,179.7L90.5,179.1L90.3,178.5L90.2,178.0L90.1,177.2L90.1,176.5L90.1,175.8L90.2,175.0L90.3,174.5L90.5,174.0L90.8,173.4L91.0,172.9L91.2,172.4L91.5,172.0L91.9,171.5L92.2,171.1L92.6,170.8L93.0,170.4L93.5,170.0L93.9,169.8L94.3,169.5L94.8,169.2L95.4,169.0L96.0,168.8L96.5,168.7L97.2,168.5L97.8,168.5L98.5,168.5L99.2,168.5L99.8,168.6L100.5,168.7L101.0,168.8L101.5,169.0L102.1,169.2L102.7,169.5L103.2,169.7L103.8,170.0L104.2,170.2L104.8,170.5L105.2,170.7L105.8,170.9L106.2,171.1L106.8,171.2L107.5,171.5L108.0,171.6L108.6,171.8L109.2,171.9L109.8,172.0L110.5,172.2L111.0,172.3L111.7,172.5L112.2,172.7L112.8,172.9L113.2,173.0L113.8,173.3L114.2,173.5L114.8,173.8L115.2,174.2L115.5,174.5L115.9,175.0L116.1,175.5L116.2,176.2L116.0,176.8L115.7,177.2L115.3,177.8L115.0,178.0L114.5,178.3L114.0,178.6L113.5,178.8L113.0,179.1L112.5,179.2L111.8,179.5L111.2,179.6L110.8,179.8L110.0,180.0L109.5,180.1L109.0,180.2L108.2,180.5L107.8,180.6L107.2,180.8L106.8,181.0L106.2,181.3L105.8,181.6L105.2,181.9L104.8,182.2L104.3,182.5L103.9,182.8L103.5,183.0L103.0,183.3L102.5,183.6L102.0,183.9L101.5,184.1L101.0,184.3L100.2,184.5Z" fill="url(#pd2)" fill-opacity="1.0" clip-path="url(#c21a)"/><path d="M99.5,183.8L98.8,183.9L98.0,183.9L97.2,183.8L96.8,183.7L96.0,183.5L95.5,183.3L95.0,183.1L94.5,182.8L94.1,182.5L93.7,182.2L93.2,181.8L92.9,181.5L92.5,181.0L92.2,180.7L92.0,180.2L91.7,179.8L91.5,179.2L91.2,178.7L91.1,178.0L91.0,177.5L90.9,176.8L90.9,176.0L91.0,175.4L91.1,174.8L91.3,174.2L91.5,173.7L91.8,173.2L92.0,172.8L92.4,172.2L92.8,171.8L93.0,171.5L93.5,171.1L93.9,170.8L94.3,170.5L94.8,170.2L95.2,170.0L95.8,169.8L96.5,169.5L97.0,169.4L97.8,169.3L98.5,169.3L99.2,169.3L100.0,169.4L100.5,169.5L101.2,169.8L101.8,169.9L102.2,170.1L102.8,170.3L103.2,170.6L103.8,170.8L104.3,171.0L104.8,171.2L105.5,171.5L106.0,171.7L106.5,171.9L107.0,172.0L107.8,172.2L108.2,172.3L108.9,172.5L109.5,172.6L110.0,172.8L110.8,173.0L111.2,173.1L111.8,173.3L112.2,173.5L112.8,173.8L113.2,174.0L113.8,174.4L114.1,174.8L114.5,175.2L114.7,175.8L114.6,176.5L114.4,177.0L114.0,177.4L113.6,177.8L113.2,178.0L112.8,178.3L112.2,178.5L111.6,178.8L111.0,179.0L110.5,179.1L110.0,179.3L109.2,179.5L108.8,179.6L108.2,179.8L107.5,180.0L107.0,180.2L106.5,180.4L106.0,180.6L105.5,180.9L105.0,181.2L104.5,181.5L104.0,181.8L103.7,182.0L103.2,182.3L102.8,182.6L102.2,182.8L101.8,183.1L101.2,183.3L100.7,183.5L100.0,183.7L99.5,183.8Z" fill="url(#pw3)" fill-opacity="1.0" clip-path="url(#c21a)"/><path d="M100.0,182.8L99.5,182.9L99.0,182.9L98.5,183.0L98.0,183.0L97.5,182.9L97.0,182.8L96.7,182.8L96.2,182.6L95.9,182.5L95.5,182.3L95.2,182.2L94.9,182.0L94.5,181.8L94.2,181.5L94.0,181.3L93.8,181.1L93.5,180.8L93.2,180.5L93.0,180.2L92.9,180.0L92.7,179.8L92.5,179.4L92.3,179.0L92.2,178.8L92.0,178.2L92.0,178.0L91.9,177.5L91.8,177.0L91.8,176.5L91.8,176.0L91.9,175.5L92.0,175.0L92.0,174.8L92.2,174.2L92.3,174.0L92.5,173.7L92.7,173.2L92.9,173.0L93.1,172.8L93.3,172.5L93.5,172.2L93.8,172.0L94.1,171.8L94.4,171.5L94.7,171.2L95.0,171.1L95.2,170.9L95.6,170.8L96.0,170.6L96.3,170.5L96.8,170.4L97.2,170.2L97.5,170.2L98.0,170.2L98.5,170.1L99.0,170.2L99.5,170.2L99.8,170.2L100.2,170.3L100.8,170.5L101.0,170.5L101.5,170.7L101.8,170.8L102.2,171.0L102.5,171.1L103.0,171.2L103.2,171.4L103.6,171.5L104.0,171.7L104.2,171.8L104.8,172.0L105.0,172.1L105.4,172.2L105.8,172.4L106.2,172.5L106.5,172.6L107.0,172.8L107.2,172.8L107.8,173.0L108.0,173.0L108.5,173.2L108.8,173.2L109.2,173.4L109.6,173.5L110.0,173.6L110.4,173.8L110.8,173.9L111.0,174.0L111.5,174.2L111.8,174.4L112.0,174.6L112.2,174.8L112.5,175.0L112.8,175.3L112.9,175.8L112.9,176.2L112.8,176.7L112.5,177.0L112.3,177.2L112.0,177.4L111.8,177.6L111.5,177.8L111.0,178.0L110.8,178.1L110.4,178.2L110.0,178.4L109.7,178.5L109.2,178.7L109.0,178.8L108.5,178.9L108.2,179.0L107.8,179.1L107.4,179.2L107.0,179.4L106.7,179.5L106.2,179.7L106.0,179.8L105.6,180.0L105.2,180.2L105.0,180.3L104.6,180.5L104.2,180.7L104.0,180.9L103.8,181.0L103.4,181.2L103.0,181.5L102.8,181.6L102.5,181.8L102.0,182.0L101.8,182.1L101.5,182.3L101.0,182.5L100.8,182.6L100.2,182.7L100.0,182.8Z" fill="#e6e6e6" stroke="#333" stroke-width="0.6" fill-rule="evenodd"/><path d="M100.0,181.3L99.5,181.4L99.0,181.5L98.5,181.5L98.0,181.5L97.5,181.4L97.0,181.3L96.8,181.2L96.2,181.0L96.0,180.9L95.8,180.7L95.4,180.5L95.1,180.2L94.8,180.0L94.5,179.8L94.3,179.5L94.2,179.2L94.0,179.0L93.8,178.6L93.6,178.2L93.5,177.9L93.4,177.5L93.3,177.0L93.3,176.5L93.3,176.0L93.4,175.5L93.5,175.1L93.6,174.8L93.8,174.5L94.0,174.0L94.2,173.8L94.4,173.5L94.6,173.2L94.8,173.0L95.1,172.8L95.5,172.5L95.8,172.3L96.0,172.2L96.4,172.0L96.8,171.8L97.1,171.8L97.5,171.6L98.0,171.6L98.5,171.5L99.0,171.5L99.5,171.6L100.0,171.6L100.5,171.7L100.8,171.8L101.2,172.0L101.5,172.0L102.0,172.2L102.2,172.3L102.7,172.5L103.0,172.6L103.4,172.8L103.8,172.9L104.0,173.0L104.5,173.2L104.8,173.3L105.2,173.5L105.5,173.6L105.8,173.8L106.2,173.9L106.5,174.0L107.0,174.2L107.2,174.3L107.7,174.5L108.0,174.7L108.2,174.8L108.6,175.0L109.0,175.2L109.2,175.5L109.3,175.8L109.3,176.2L109.2,176.5L109.0,176.8L108.7,177.0L108.3,177.2L108.0,177.4L107.8,177.5L107.3,177.8L107.0,177.9L106.8,178.0L106.2,178.2L106.0,178.4L105.7,178.5L105.2,178.7L105.0,178.8L104.7,179.0L104.2,179.2L104.0,179.4L103.8,179.5L103.4,179.8L103.0,180.0L102.8,180.1L102.5,180.2L102.0,180.5L101.8,180.6L101.5,180.8L101.0,181.0L100.8,181.1L100.2,181.2L100.0,181.3Z" fill="#8c8c8c" stroke="#333" stroke-width="0.6" fill-rule="evenodd"/><path d="M100.0,180.1L99.5,180.2L99.0,180.2L98.5,180.2L98.0,180.2L97.5,180.1L97.2,180.0L96.8,179.8L96.5,179.7L96.2,179.5L95.9,179.2L95.6,179.0L95.4,178.8L95.2,178.5L95.0,178.2L94.8,177.8L94.7,177.5L94.6,177.0L94.6,176.5L94.6,176.0L94.7,175.5L94.8,175.2L95.0,174.8L95.2,174.5L95.4,174.2L95.6,174.0L95.9,173.8L96.2,173.5L96.5,173.3L96.8,173.2L97.1,173.0L97.5,172.9L98.0,172.8L98.2,172.7L98.8,172.7L99.2,172.7L99.8,172.7L100.0,172.8L100.5,172.9L101.0,173.0L101.2,173.1L101.7,173.2L102.0,173.4L102.4,173.5L102.8,173.7L103.0,173.8L103.4,174.0L103.8,174.2L104.0,174.3L104.4,174.5L104.8,174.7L105.0,174.9L105.2,175.1L105.5,175.3L105.8,175.7L105.9,176.0L105.8,176.5L105.6,176.8L105.4,177.0L105.1,177.2L104.8,177.5L104.5,177.7L104.2,177.9L104.0,178.0L103.7,178.2L103.3,178.5L103.0,178.7L102.8,178.8L102.4,179.0L102.0,179.2L101.8,179.4L101.5,179.5L101.0,179.7L100.8,179.8L100.2,180.0L100.0,180.1Z" fill="#a4a4a4" stroke="#333" stroke-width="0.6" fill-rule="evenodd"/><path d="M100.0,178.8L99.5,178.9L99.0,179.0L98.5,178.9L98.0,178.8L97.7,178.8L97.2,178.5L97.0,178.4L96.8,178.2L96.5,177.9L96.3,177.5L96.2,177.2L96.0,176.8L96.0,176.2L96.1,175.8L96.2,175.4L96.5,175.0L96.8,174.8L97.0,174.5L97.2,174.4L97.5,174.2L98.0,174.0L98.2,174.0L98.8,173.9L99.2,173.9L99.8,173.9L100.2,174.0L100.5,174.1L101.0,174.2L101.2,174.3L101.6,174.5L102.0,174.7L102.2,174.9L102.5,175.0L102.8,175.3L103.0,175.6L103.2,176.0L103.2,176.5L103.0,176.8L102.8,177.1L102.5,177.4L102.2,177.6L102.0,177.8L101.7,178.0L101.3,178.2L101.0,178.4L100.8,178.5L100.2,178.7L100.0,178.8Z" fill="#bdbdbd" stroke="#333" stroke-width="0.6" fill-rule="evenodd"/><circle cx="98.3" cy="176.6" r="0.9" fill="#eee"/><rect x="80.3" y="163.8" width="38.6" height="33.4" fill="none" stroke="#1c1c34" stroke-width="1.6"/><clipPath id="c21b"><rect x="119" y="164" width="55" height="34"/></clipPath><path d="M110.0,171.1L110.5,170.8L110.8,170.5L111.2,170.2L111.8,169.8L112.2,169.5L112.5,169.2L113.0,168.9L113.5,168.6L114.0,168.3L114.5,168.1L115.0,167.8L115.5,167.6L116.0,167.4L116.5,167.2L117.2,167.0L117.8,166.9L118.5,166.8L119.0,166.7L119.8,166.6L120.5,166.6L121.2,166.7L121.9,166.8L122.5,166.8L123.2,167.0L123.8,167.1L124.3,167.2L125.0,167.5L125.5,167.6L126.0,167.8L126.8,168.0L127.2,168.1L128.0,168.2L128.5,168.3L129.2,168.4L130.0,168.5L130.8,168.5L131.2,168.5L132.0,168.5L132.8,168.5L133.5,168.5L134.0,168.5L134.8,168.5L135.5,168.5L136.2,168.5L137.0,168.5L137.8,168.5L138.5,168.5L139.2,168.5L140.0,168.5L140.8,168.5L141.5,168.5L142.2,168.4L143.0,168.3L143.8,168.3L144.2,168.2L145.0,168.0L145.5,167.9L146.2,167.8L146.8,167.6L147.3,167.5L148.0,167.3L148.5,167.2L149.2,167.1L149.8,167.0L150.5,166.9L151.2,166.8L152.0,166.8L152.8,166.8L153.5,166.9L154.2,167.0L154.8,167.1L155.5,167.2L156.0,167.4L156.5,167.6L157.0,167.8L157.6,168.0L158.2,168.2L158.7,168.5L159.1,168.8L159.6,169.0L160.0,169.3L160.5,169.6L161.0,169.9L161.5,170.2L161.9,170.5L162.2,170.8L162.8,171.1L163.2,171.5L163.6,171.8L164.0,172.1L164.5,172.5L164.8,172.8L165.2,173.1L165.7,173.5L166.0,173.9L166.3,174.2L166.7,174.8L167.0,175.2L167.1,175.8L167.2,176.5L167.1,177.2L166.9,177.8L166.6,178.2L166.3,178.8L166.0,179.1L165.7,179.5L165.3,180.0L165.0,180.4L164.7,180.8L164.3,181.2L164.0,181.7L163.8,182.0L163.4,182.5L163.1,183.0L162.8,183.4L162.5,183.8L162.1,184.2L161.8,184.7L161.5,185.0L161.1,185.5L160.8,185.9L160.4,186.2L160.0,186.6L159.5,187.0L159.2,187.2L158.8,187.6L158.2,187.9L157.8,188.2L157.2,188.4L156.8,188.7L156.2,188.9L155.8,189.0L155.0,189.2L154.5,189.4L153.8,189.5L153.2,189.5L152.5,189.6L151.8,189.6L151.0,189.5L150.5,189.4L149.8,189.3L149.2,189.2L148.7,189.0L148.0,188.8L147.5,188.5L147.0,188.3L146.5,188.0L146.1,187.8L145.7,187.5L145.2,187.2L144.8,186.9L144.3,186.5L143.9,186.2L143.5,185.9L143.0,185.6L142.5,185.3L142.0,185.0L141.5,184.8L141.0,184.6L140.5,184.5L139.8,184.3L139.1,184.2L138.5,184.2L137.8,184.2L137.0,184.1L136.2,184.1L135.5,184.1L134.8,184.1L134.0,184.1L133.2,184.1L132.5,184.1L131.8,184.1L131.0,184.1L130.2,184.1L129.5,184.1L128.8,184.2L128.0,184.2L127.5,184.3L126.8,184.4L126.2,184.5L125.5,184.7L125.0,184.8L124.2,185.0L123.8,185.1L123.0,185.2L122.5,185.3L121.8,185.4L121.0,185.5L120.2,185.5L119.5,185.4L118.8,185.4L118.0,185.3L117.5,185.2L116.9,185.0L116.2,184.8L115.8,184.6L115.2,184.4L114.8,184.2L114.2,184.0L113.8,183.7L113.2,183.4L112.8,183.2L112.2,182.8L111.8,182.5L111.3,182.2L111.0,182.0L110.5,181.7L110.0,181.3" fill="url(#pd0)" fill-opacity="1.0" clip-path="url(#c21b)"/><path d="M110.0,173.7L110.4,173.2L110.8,172.8L111.0,172.5L111.5,172.0L111.8,171.8L112.2,171.3L112.6,171.0L113.0,170.7L113.5,170.3L113.9,170.0L114.3,169.8L114.8,169.5L115.2,169.2L115.8,169.0L116.3,168.8L117.0,168.5L117.5,168.3L118.0,168.2L118.8,168.1L119.5,168.0L120.0,168.0L120.8,168.0L121.2,168.0L122.0,168.1L122.8,168.2L123.2,168.4L123.8,168.5L124.5,168.7L125.0,168.8L125.6,169.0L126.2,169.2L126.8,169.3L127.5,169.5L128.0,169.6L128.8,169.7L129.3,169.8L130.0,169.8L130.8,169.8L131.5,169.8L132.2,169.8L133.0,169.8L133.8,169.8L134.5,169.8L135.2,169.8L136.0,169.8L136.8,169.8L137.5,169.8L138.2,169.8L139.0,169.8L139.8,169.8L140.5,169.8L141.2,169.8L142.0,169.8L142.5,169.7L143.2,169.7L144.0,169.6L144.5,169.5L145.2,169.4L145.8,169.2L146.5,169.1L147.0,169.0L147.8,168.8L148.2,168.7L149.0,168.5L149.5,168.4L150.2,168.3L151.0,168.3L151.5,168.2L152.2,168.2L152.8,168.3L153.5,168.3L154.2,168.5L154.8,168.6L155.5,168.8L156.0,168.9L156.5,169.1L157.0,169.3L157.5,169.5L158.0,169.8L158.5,170.1L159.0,170.4L159.5,170.7L159.9,171.0L160.3,171.2L160.8,171.6L161.2,172.0L161.5,172.3L162.0,172.8L162.2,173.1L162.6,173.5L163.0,174.0L163.2,174.3L163.5,174.8L163.8,175.3L163.9,176.0L164.0,176.8L163.9,177.5L163.8,178.2L163.5,178.8L163.3,179.2L163.1,179.8L162.8,180.2L162.6,180.8L162.3,181.2L162.0,181.7L161.8,182.1L161.5,182.5L161.1,183.0L160.8,183.5L160.5,183.8L160.1,184.2L159.8,184.7L159.4,185.0L159.0,185.4L158.6,185.8L158.2,186.0L157.8,186.4L157.2,186.7L156.8,187.0L156.2,187.2L155.8,187.4L155.2,187.6L154.6,187.8L154.0,187.9L153.2,188.0L152.8,188.0L152.0,188.0L151.5,188.0L150.8,187.9L150.0,187.8L149.5,187.6L149.0,187.5L148.5,187.2L147.9,187.0L147.4,186.8L147.0,186.5L146.5,186.2L146.0,185.9L145.5,185.5L145.1,185.2L144.8,185.0L144.2,184.6L143.8,184.3L143.3,184.0L142.8,183.8L142.3,183.5L141.8,183.3L141.2,183.2L140.5,183.0L140.0,183.0L139.2,182.9L138.5,182.9L137.8,182.9L137.0,182.8L136.2,182.8L135.5,182.8L134.8,182.8L134.0,182.8L133.2,182.8L132.5,182.8L131.8,182.8L131.0,182.8L130.2,182.8L129.5,182.8L128.8,182.8L128.0,182.9L127.2,183.0L126.8,183.1L126.0,183.2L125.5,183.3L124.8,183.5L124.2,183.6L123.7,183.8L123.0,183.9L122.3,184.0L121.8,184.1L121.0,184.1L120.2,184.1L119.5,184.1L118.8,184.0L118.2,184.0L117.5,183.8L117.0,183.6L116.5,183.5L115.9,183.2L115.4,183.0L114.9,182.8L114.4,182.5L114.0,182.2L113.5,181.9L113.0,181.6L112.6,181.2L112.2,181.0L111.8,180.6L111.4,180.2L111.0,179.9L110.7,179.5L110.2,179.0L110.0,178.7" fill="url(#pw1)" fill-opacity="1.0" clip-path="url(#c21b)"/><path d="M153.8,186.8L153.0,186.9L152.2,186.9L151.5,186.9L150.8,186.8L150.2,186.7L149.7,186.5L149.0,186.3L148.5,186.1L148.0,185.8L147.5,185.5L147.0,185.2L146.6,185.0L146.2,184.7L145.8,184.4L145.2,184.0L144.9,183.8L144.5,183.5L144.0,183.2L143.5,182.9L143.0,182.6L142.5,182.4L141.9,182.2L141.2,182.1L140.5,182.0L140.0,182.0L139.2,181.9L138.5,181.9L137.8,181.9L137.0,181.9L136.2,181.9L135.5,181.9L134.8,181.9L134.0,181.8L133.2,181.8L132.5,181.8L131.8,181.8L131.0,181.8L130.2,181.8L129.5,181.8L128.8,181.8L128.0,181.9L127.2,182.0L126.8,182.1L126.0,182.2L125.5,182.4L124.9,182.5L124.2,182.7L123.8,182.8L123.0,182.9L122.5,183.0L121.8,183.1L121.0,183.2L120.2,183.2L119.5,183.2L118.8,183.1L118.2,183.0L117.5,182.8L117.0,182.6L116.5,182.4L116.0,182.2L115.5,181.9L115.0,181.7L114.5,181.3L114.0,181.0L113.7,180.8L113.2,180.4L112.9,180.0L112.5,179.6L112.2,179.2L111.8,178.8L111.5,178.2L111.3,177.8L111.1,177.2L111.0,176.8L110.9,176.0L111.0,175.5L111.2,174.8L111.5,174.2L111.7,173.8L112.0,173.4L112.3,173.0L112.7,172.5L113.0,172.2L113.4,171.8L113.8,171.5L114.2,171.1L114.7,170.8L115.1,170.5L115.5,170.2L116.0,170.0L116.5,169.7L117.1,169.5L117.8,169.3L118.2,169.2L119.0,169.0L119.5,169.0L120.2,169.0L121.0,169.0L121.5,169.0L122.2,169.1L122.8,169.2L123.5,169.4L124.0,169.5L124.7,169.8L125.2,169.9L125.8,170.1L126.4,170.2L127.0,170.4L127.5,170.5L128.2,170.6L129.0,170.7L129.5,170.8L130.2,170.8L131.0,170.8L131.8,170.8L132.5,170.8L133.2,170.8L134.0,170.8L134.8,170.8L135.2,170.7L136.0,170.7L136.8,170.7L137.5,170.8L138.0,170.8L138.8,170.8L139.5,170.8L140.2,170.8L141.0,170.8L141.8,170.8L142.2,170.7L143.0,170.7L143.8,170.6L144.5,170.5L145.0,170.4L145.8,170.3L146.2,170.2L146.9,170.0L147.5,169.9L148.0,169.8L148.8,169.6L149.3,169.5L150.0,169.4L150.8,169.3L151.5,169.3L152.2,169.3L153.0,169.3L153.8,169.4L154.2,169.5L155.0,169.7L155.5,169.8L156.0,170.0L156.6,170.2L157.1,170.5L157.6,170.8L158.0,171.0L158.5,171.3L159.0,171.7L159.4,172.0L159.8,172.3L160.2,172.8L160.5,173.0L160.9,173.5L161.2,174.0L161.5,174.3L161.8,174.8L162.0,175.3L162.2,176.0L162.3,176.5L162.3,177.2L162.2,177.8L162.1,178.5L161.9,179.0L161.7,179.5L161.5,180.1L161.2,180.6L161.0,181.1L160.8,181.5L160.4,182.0L160.1,182.5L159.8,183.0L159.5,183.3L159.1,183.8L158.8,184.1L158.3,184.5L158.0,184.8L157.5,185.2L157.0,185.5L156.6,185.8L156.1,186.0L155.6,186.2L155.0,186.5L154.5,186.6L153.8,186.8Z" fill="url(#pd2)" fill-opacity="1.0" clip-path="url(#c21b)"/><path d="M153.8,185.8L153.0,185.9L152.2,185.9L151.5,185.9L150.8,185.8L150.2,185.7L149.6,185.5L149.0,185.3L148.5,185.0L148.0,184.8L147.5,184.5L147.2,184.2L146.8,184.0L146.2,183.6L145.8,183.3L145.4,183.0L145.0,182.7L144.5,182.4L144.0,182.1L143.5,181.8L143.0,181.6L142.5,181.5L141.8,181.3L141.2,181.2L140.5,181.1L139.8,181.0L139.0,181.0L138.2,181.0L137.5,181.0L136.8,181.0L136.0,181.0L135.5,181.0L134.8,181.0L134.0,181.0L133.2,181.0L132.5,180.9L131.8,180.9L131.0,180.9L130.2,180.9L129.5,180.9L128.8,180.9L128.0,181.0L127.5,181.1L126.8,181.2L126.2,181.3L125.5,181.5L125.0,181.6L124.5,181.8L123.8,181.9L123.2,182.0L122.5,182.2L122.0,182.3L121.2,182.4L120.5,182.4L119.8,182.4L119.0,182.3L118.5,182.2L117.8,182.0L117.2,181.8L116.8,181.6L116.2,181.4L115.8,181.1L115.2,180.8L114.9,180.5L114.5,180.2L114.0,179.8L113.8,179.5L113.3,179.0L113.0,178.5L112.8,178.1L112.5,177.5L112.4,177.0L112.3,176.2L112.3,175.5L112.5,174.9L112.8,174.3L113.0,173.8L113.2,173.4L113.6,173.0L114.0,172.5L114.3,172.2L114.8,171.8L115.1,171.5L115.5,171.2L116.0,170.9L116.5,170.7L117.0,170.4L117.5,170.2L118.2,170.0L118.8,169.9L119.5,169.8L120.2,169.8L121.0,169.8L121.8,169.9L122.4,170.0L123.0,170.1L123.5,170.3L124.2,170.5L124.8,170.6L125.2,170.8L125.9,171.0L126.5,171.2L127.0,171.3L127.8,171.5L128.2,171.5L129.0,171.6L129.8,171.7L130.5,171.7L131.2,171.7L132.0,171.7L132.8,171.7L133.5,171.6L134.2,171.6L135.0,171.6L135.8,171.6L136.5,171.6L137.2,171.6L138.0,171.6L138.8,171.6L139.5,171.6L140.2,171.7L141.0,171.7L141.8,171.6L142.5,171.6L143.2,171.6L143.8,171.5L144.5,171.4L145.2,171.2L145.8,171.1L146.4,171.0L147.0,170.8L147.5,170.7L148.2,170.5L148.8,170.4L149.5,170.3L150.0,170.2L150.8,170.1L151.5,170.1L152.2,170.1L153.0,170.2L153.6,170.2L154.2,170.4L154.8,170.5L155.5,170.8L156.0,171.0L156.5,171.2L157.0,171.5L157.5,171.8L157.9,172.0L158.2,172.3L158.8,172.7L159.1,173.0L159.5,173.4L159.8,173.8L160.1,174.2L160.4,174.8L160.7,175.2L160.9,175.8L161.0,176.4L161.1,177.0L161.0,177.8L161.0,178.2L160.8,179.0L160.6,179.5L160.4,180.0L160.2,180.5L159.9,181.0L159.6,181.5L159.3,182.0L159.0,182.4L158.7,182.8L158.3,183.2L158.0,183.5L157.5,184.0L157.2,184.2L156.8,184.6L156.2,184.9L155.8,185.1L155.2,185.4L154.8,185.5L154.0,185.7Z" fill="url(#pw3)" fill-opacity="1.0" clip-path="url(#c21b)"/><path d="M153.8,184.8L153.0,184.9L152.2,185.0L151.5,184.9L150.8,184.8L150.2,184.7L149.7,184.5L149.1,184.2L148.6,184.0L148.1,183.8L147.7,183.5L147.2,183.2L146.8,182.8L146.3,182.5L145.9,182.2L145.5,181.9L145.0,181.6L144.5,181.3L144.0,181.0L143.5,180.8L143.0,180.6L142.5,180.4L141.8,180.2L141.2,180.2L140.5,180.1L139.8,180.1L139.0,180.0L138.2,180.0L137.5,180.0L136.8,180.1L136.0,180.0L135.2,180.0L134.5,180.0L133.8,180.0L133.2,180.0L132.5,180.0L131.8,179.9L131.0,179.9L130.2,179.9L129.5,179.9L128.8,179.9L128.1,180.0L127.5,180.1L126.8,180.2L126.2,180.4L125.7,180.5L125.0,180.7L124.5,180.9L124.0,181.0L123.2,181.2L122.8,181.3L122.0,181.4L121.4,181.5L120.8,181.5L120.0,181.5L119.5,181.5L118.8,181.4L118.2,181.2L117.5,181.0L117.0,180.8L116.5,180.5L116.1,180.2L115.7,180.0L115.2,179.6L114.9,179.2L114.5,178.8L114.2,178.4L114.0,178.0L113.8,177.5L113.6,176.8L113.5,176.0L113.6,175.2L113.8,174.8L114.0,174.2L114.3,173.8L114.7,173.2L115.0,172.9L115.4,172.5L115.8,172.2L116.2,171.8L116.8,171.5L117.2,171.3L117.8,171.1L118.2,170.9L119.0,170.8L119.5,170.7L120.2,170.6L121.0,170.7L121.8,170.7L122.2,170.8L123.0,171.0L123.5,171.1L124.0,171.3L124.6,171.5L125.2,171.7L125.8,171.9L126.2,172.1L126.9,172.2L127.5,172.4L128.0,172.5L128.8,172.6L129.5,172.7L130.2,172.7L131.0,172.7L131.8,172.7L132.5,172.6L133.2,172.6L134.0,172.6L134.8,172.6L135.5,172.6L136.2,172.6L137.0,172.6L137.8,172.6L138.5,172.6L139.2,172.6L140.0,172.6L140.8,172.6L141.5,172.6L142.2,172.6L143.0,172.5L143.5,172.5L144.2,172.4L144.9,172.2L145.5,172.1L146.0,172.0L146.8,171.8L147.2,171.7L147.9,171.5L148.5,171.4L149.0,171.2L149.8,171.1L150.5,171.0L151.0,171.0L151.8,171.0L152.5,171.0L153.0,171.0L153.8,171.2L154.2,171.3L155.0,171.5L155.5,171.7L156.0,171.9L156.5,172.2L157.0,172.5L157.3,172.8L157.8,173.1L158.2,173.5L158.5,173.8L158.8,174.2L159.2,174.8L159.4,175.2L159.7,175.8L159.8,176.2L159.9,177.0L159.9,177.8L159.8,178.5L159.7,179.0L159.5,179.5L159.2,180.2L159.0,180.7L158.8,181.1L158.5,181.5L158.1,182.0L157.8,182.4L157.4,182.8L157.0,183.2L156.6,183.5L156.2,183.8L155.8,184.0L155.2,184.3L154.8,184.5L154.0,184.7Z" fill="url(#pd4)" fill-opacity="1.0" clip-path="url(#c21b)"/><path d="M153.5,184.0L153.0,184.1L152.5,184.2L152.0,184.2L151.5,184.1L151.0,184.1L150.7,184.0L150.2,183.9L149.9,183.8L149.5,183.6L149.2,183.5L148.8,183.2L148.5,183.1L148.2,183.0L147.9,182.8L147.6,182.5L147.2,182.3L147.0,182.1L146.8,181.9L146.5,181.7L146.2,181.5L145.9,181.2L145.5,181.0L145.2,180.8L145.0,180.6L144.8,180.5L144.4,180.2L144.0,180.0L143.8,179.9L143.4,179.8L143.0,179.6L142.6,179.5L142.2,179.4L141.8,179.3L141.4,179.2L141.0,179.2L140.5,179.2L140.0,179.2L139.5,179.1L139.0,179.1L138.5,179.1L138.0,179.2L137.5,179.2L137.0,179.2L136.5,179.2L136.0,179.2L135.5,179.2L135.0,179.1L134.5,179.1L134.0,179.1L133.5,179.1L133.0,179.1L132.5,179.0L132.0,179.0L131.6,179.0L131.2,179.0L130.8,179.0L130.2,179.0L129.8,178.9L129.2,179.0L128.8,179.0L128.5,179.0L128.0,179.1L127.5,179.2L127.2,179.2L126.8,179.4L126.3,179.5L126.0,179.6L125.5,179.7L125.2,179.8L124.8,180.0L124.5,180.1L124.0,180.2L123.8,180.3L123.2,180.5L123.0,180.5L122.5,180.6L122.0,180.7L121.8,180.8L121.2,180.8L120.8,180.8L120.2,180.8L119.8,180.8L119.4,180.8L119.0,180.7L118.5,180.6L118.2,180.5L117.8,180.3L117.5,180.2L117.1,180.0L116.8,179.8L116.5,179.6L116.2,179.4L116.0,179.2L115.8,179.0L115.5,178.7L115.2,178.4L115.0,178.0L114.9,177.8L114.8,177.5L114.6,177.0L114.5,176.5L114.5,176.2L114.5,175.8L114.5,175.5L114.7,175.0L114.8,174.8L115.0,174.2L115.1,174.0L115.3,173.8L115.5,173.5L115.8,173.2L116.0,173.0L116.3,172.8L116.6,172.5L117.0,172.3L117.2,172.1L117.5,172.0L118.0,171.8L118.2,171.7L118.8,171.5L119.0,171.5L119.5,171.4L120.0,171.4L120.5,171.3L121.0,171.4L121.5,171.4L122.0,171.5L122.2,171.5L122.8,171.7L123.0,171.8L123.5,171.9L123.8,172.0L124.2,172.2L124.5,172.3L125.0,172.4L125.2,172.5L125.8,172.7L126.0,172.8L126.5,173.0L126.8,173.1L127.2,173.2L127.5,173.3L128.0,173.4L128.4,173.5L128.8,173.5L129.2,173.6L129.8,173.6L130.2,173.6L130.8,173.6L131.2,173.6L131.8,173.6L132.2,173.6L132.8,173.5L133.2,173.5L133.5,173.5L134.0,173.5L134.5,173.5L135.0,173.5L135.5,173.4L136.0,173.4L136.5,173.4L137.0,173.4L137.5,173.5L138.0,173.5L138.5,173.5L139.0,173.5L139.2,173.5L139.8,173.5L140.2,173.5L140.8,173.5L141.2,173.5L141.8,173.5L142.2,173.5L142.5,173.5L143.0,173.4L143.5,173.4L144.0,173.3L144.2,173.2L144.8,173.1L145.2,173.0L145.5,172.9L146.0,172.8L146.2,172.7L146.8,172.6L147.0,172.5L147.5,172.4L147.9,172.2L148.2,172.1L148.8,172.0L149.0,172.0L149.5,171.9L150.0,171.8L150.2,171.7L150.8,171.7L151.2,171.7L151.8,171.6L152.2,171.7L152.8,171.7L153.1,171.8L153.5,171.8L154.0,171.9L154.2,172.0L154.8,172.2L155.0,172.3L155.5,172.5L155.8,172.6L156.0,172.8L156.4,173.0L156.7,173.2L157.0,173.5L157.2,173.7L157.5,173.9L157.8,174.2L158.0,174.5L158.2,174.8L158.3,175.0L158.5,175.3L158.7,175.8L158.8,176.0L158.9,176.5L159.0,177.0L159.0,177.2L159.0,177.8L159.0,178.0L158.9,178.5L158.8,179.0L158.7,179.2L158.5,179.8L158.4,180.0L158.2,180.4L158.0,180.8L157.9,181.0L157.7,181.2L157.5,181.5L157.2,181.8L157.0,182.1L156.8,182.3L156.5,182.6L156.2,182.8L155.9,183.0L155.5,183.2L155.2,183.4L155.0,183.5L154.5,183.8L154.2,183.8L153.8,184.0L153.5,184.0Z" fill="#111" clip-path="url(#c21b)"/><path d="M138,176.8 Q138,174.6 140.5,174.8 L147,175.3 L147,178.3 L140.5,178.9 Q138,179 138,176.8 Z" fill="#f4f4f4"/><circle cx="152.3" cy="178.3" r="5" fill="#7a7a7a" stroke="#eee" stroke-width="0.8"/><circle cx="152.5" cy="178.2" r="2.8" fill="#b0b0b0" stroke="#555" stroke-width="0.5"/><circle cx="153" cy="178" r="0.8" fill="#eee"/><rect x="124.6" y="163.2" width="49.1" height="35.8" fill="none" stroke="#5050b4" stroke-width="1"/>
<text x="88.6" y="159.1" font-size="6.4" fill="#111" font-weight="bold">81.9</text>
<text x="140.5" y="159.1" font-size="6.3" fill="#111" font-weight="bold">17.7</text>
<g fill="none" stroke="#505050" stroke-width="0.45"><ellipse cx="257.2" cy="160.0" rx="2.60" ry="8.00"/><ellipse cx="257.5" cy="160.0" rx="2.08" ry="6.40"/><ellipse cx="257.8" cy="160.0" rx="1.56" ry="4.80"/><ellipse cx="259.7" cy="162.5" rx="2.60" ry="10.00"/><ellipse cx="260.0" cy="162.5" rx="2.08" ry="8.00"/><ellipse cx="260.3" cy="162.5" rx="1.56" ry="6.00"/><ellipse cx="262.2" cy="164.0" rx="2.60" ry="11.00"/><ellipse cx="262.5" cy="164.0" rx="2.08" ry="8.80"/><ellipse cx="262.8" cy="164.0" rx="1.56" ry="6.60"/><ellipse cx="264.7" cy="164.5" rx="2.60" ry="11.00"/><ellipse cx="265.0" cy="164.5" rx="2.08" ry="8.80"/><ellipse cx="265.3" cy="164.5" rx="1.56" ry="6.60"/><ellipse cx="267.2" cy="163.5" rx="2.60" ry="10.50"/><ellipse cx="267.5" cy="163.5" rx="2.08" ry="8.40"/><ellipse cx="267.8" cy="163.5" rx="1.56" ry="6.30"/><ellipse cx="269.7" cy="161.5" rx="2.60" ry="9.00"/><ellipse cx="270.0" cy="161.5" rx="2.08" ry="7.20"/><ellipse cx="270.3" cy="161.5" rx="1.56" ry="5.40"/><ellipse cx="272.2" cy="158.5" rx="2.60" ry="7.00"/><ellipse cx="272.5" cy="158.5" rx="2.08" ry="5.60"/><ellipse cx="272.8" cy="158.5" rx="1.56" ry="4.20"/></g><clipPath id="c22b"><polygon points="247.5,132.1 280.8,132.1 280.8,140.3 273.3,150.9 247.5,150.9"/></clipPath><polygon points="247.5,132.1 280.8,132.1 280.8,140.3 273.3,150.9 247.5,150.9" fill="#6470e6"/><g clip-path="url(#c22b)"><path d="M267.5,153.0L267.0,153.0L266.5,153.0L266.2,153.0L265.8,153.0L265.2,152.9L264.8,152.9L264.2,152.8L263.8,152.8L263.5,152.7L263.0,152.6L262.5,152.5L262.2,152.5L261.8,152.3L261.5,152.2L261.0,152.1L260.6,152.0L260.2,151.9L259.9,151.8L259.5,151.6L259.2,151.5L258.8,151.2L258.5,151.1L258.2,151.0L257.8,150.8L257.5,150.6L257.2,150.4L257.0,150.2L256.6,150.0L256.3,149.8L256.0,149.5L255.8,149.3L255.5,149.1L255.2,148.9L255.0,148.7L254.8,148.4L254.5,148.1L254.2,147.8L254.0,147.5L253.8,147.2L253.7,147.0L253.5,146.7L253.2,146.3L253.1,146.0L253.0,145.7L252.8,145.2L252.7,145.0L252.6,144.5L252.5,144.0L252.5,143.8L252.4,143.2L252.4,142.8L252.5,142.2L252.5,142.0L252.6,141.5L252.7,141.0L252.8,140.8L253.0,140.2L253.1,140.0L253.2,139.6L253.4,139.2L253.6,139.0L253.8,138.7L254.0,138.4L254.2,138.0L254.5,137.8L254.7,137.5L254.9,137.2L255.2,137.0L255.4,136.8L255.7,136.5L256.0,136.2L256.2,136.0L256.5,135.8L256.8,135.6L257.0,135.4L257.3,135.2L257.6,135.0L258.0,134.8L258.2,134.6L258.5,134.4L258.8,134.2L259.2,134.0L259.5,133.9L259.8,133.8L260.2,133.5L260.5,133.4L260.8,133.2L261.2,133.1L261.5,132.9L262.0,132.8L262.2,132.6L262.6,132.5L263.0,132.4L263.3,132.2L263.8,132.1L264.1,132.0L264.5,131.9L265.0,131.8L265.2,131.7L265.8,131.5L266.0,131.5L266.5,131.4L267.0,131.3L267.2,131.2L267.8,131.1L268.2,131.1L268.8,131.0L269.0,131.0L269.5,130.9L270.0,130.9L270.5,130.9L271.0,130.8L271.5,130.8L272.0,130.8L272.5,130.9L273.0,130.9L273.5,130.9L274.0,131.0L274.2,131.0L274.8,131.1L275.2,131.2L275.5,131.3L276.0,131.4L276.5,131.5L276.8,131.6L277.2,131.7L277.5,131.8L278.0,132.0L278.2,132.1L278.5,132.2L279.0,132.5L279.2,132.6L279.5,132.8L280.0,133.0L280.2,133.2L280.5,133.3L280.8,133.5L281.0,133.8L281.3,134.0L281.6,134.2L281.9,134.5L282.1,134.8L282.3,135.0L282.5,135.2L282.8,135.6L283.0,136.0L283.2,136.2L283.3,136.5L283.5,137.0L283.6,137.2L283.7,137.8L283.8,138.0L283.9,138.5L283.9,139.0L284.0,139.5L284.0,140.0L283.9,140.5L283.8,141.0L283.8,141.4L283.7,141.8L283.5,142.2L283.4,142.5L283.2,143.0L283.1,143.2L283.0,143.6L282.8,144.0L282.7,144.2L282.5,144.6L282.3,145.0L282.1,145.2L281.9,145.5L281.8,145.8L281.5,146.2L281.3,146.5L281.1,146.8L280.9,147.0L280.7,147.2L280.4,147.5L280.2,147.8L280.0,148.0L279.7,148.2L279.5,148.5L279.2,148.8L278.9,149.0L278.6,149.2L278.3,149.5L278.0,149.7L277.8,149.9L277.5,150.0L277.2,150.2L276.8,150.5L276.5,150.6L276.2,150.8L275.8,151.0L275.5,151.2L275.2,151.3L274.8,151.5L274.5,151.6L274.1,151.8L273.8,151.9L273.4,152.0L273.0,152.1L272.6,152.2L272.2,152.3L271.8,152.5L271.5,152.5L271.0,152.6L270.5,152.7L270.2,152.8L269.8,152.8L269.2,152.9L268.8,152.9L268.2,153.0L267.8,153.0L267.5,153.0Z" fill="#4a52c0" stroke="#161a60" stroke-width="0.5" fill-rule="evenodd"/><path d="M269.2,150.5L268.8,150.6L268.2,150.6L267.8,150.6L267.2,150.6L266.8,150.6L266.2,150.6L265.8,150.6L265.2,150.5L264.9,150.5L264.5,150.4L264.0,150.4L263.5,150.2L263.2,150.2L262.8,150.1L262.5,150.0L262.0,149.8L261.8,149.7L261.2,149.5L261.0,149.4L260.6,149.2L260.2,149.1L260.0,148.9L259.7,148.8L259.3,148.5L259.0,148.3L258.8,148.1L258.5,147.9L258.2,147.7L258.0,147.5L257.8,147.2L257.5,147.0L257.2,146.7L257.0,146.3L256.8,146.0L256.6,145.8L256.5,145.5L256.3,145.0L256.2,144.8L256.0,144.2L256.0,144.0L255.9,143.5L255.8,143.0L255.9,142.5L255.9,142.0L256.0,141.6L256.1,141.2L256.2,140.8L256.4,140.5L256.5,140.2L256.7,139.8L256.9,139.5L257.1,139.2L257.2,139.0L257.5,138.7L257.8,138.4L258.0,138.1L258.2,137.8L258.5,137.6L258.8,137.4L259.0,137.1L259.2,136.9L259.5,136.7L259.8,136.5L260.2,136.2L260.5,136.0L260.8,135.9L261.0,135.7L261.4,135.5L261.8,135.3L262.0,135.1L262.3,135.0L262.8,134.8L263.0,134.6L263.3,134.5L263.8,134.3L264.0,134.2L264.5,134.0L264.8,133.9L265.2,133.8L265.5,133.6L266.0,133.5L266.2,133.4L266.8,133.3L267.0,133.2L267.5,133.1L268.0,133.0L268.2,132.9L268.8,132.9L269.2,132.8L269.6,132.8L270.0,132.7L270.5,132.7L271.0,132.7L271.5,132.6L272.0,132.7L272.5,132.7L273.0,132.7L273.3,132.8L273.8,132.8L274.2,132.9L274.8,133.0L275.0,133.1L275.5,133.2L275.8,133.3L276.2,133.4L276.5,133.5L277.0,133.7L277.2,133.8L277.5,134.0L278.0,134.2L278.2,134.4L278.5,134.6L278.8,134.8L279.1,135.0L279.4,135.2L279.6,135.5L279.8,135.8L280.1,136.0L280.2,136.3L280.5,136.6L280.7,137.0L280.8,137.2L281.0,137.7L281.1,138.0L281.2,138.5L281.2,139.0L281.3,139.2L281.3,139.8L281.2,140.0L281.2,140.5L281.1,141.0L281.0,141.3L280.8,141.8L280.7,142.0L280.5,142.5L280.4,142.8L280.2,143.1L280.0,143.5L279.9,143.8L279.7,144.0L279.5,144.3L279.2,144.7L279.0,145.0L278.8,145.2L278.6,145.5L278.4,145.8L278.1,146.0L277.9,146.2L277.7,146.5L277.4,146.8L277.1,147.0L276.8,147.2L276.5,147.5L276.2,147.7L276.0,147.9L275.8,148.1L275.5,148.2L275.1,148.5L274.8,148.7L274.5,148.8L274.2,149.0L273.8,149.2L273.5,149.3L273.1,149.5L272.8,149.6L272.4,149.8L272.0,149.9L271.6,150.0L271.2,150.1L270.8,150.2L270.5,150.3L270.0,150.4L269.5,150.5L269.2,150.5Z" fill="#343aa0" stroke="#161a60" stroke-width="0.5" fill-rule="evenodd"/><path d="M268.8,148.8L268.2,148.8L267.8,148.9L267.2,148.9L266.8,148.9L266.2,148.8L265.8,148.8L265.4,148.8L265.0,148.7L264.5,148.6L264.1,148.5L263.8,148.4L263.3,148.2L263.0,148.2L262.6,148.0L262.2,147.8L262.0,147.7L261.6,147.5L261.2,147.3L261.0,147.1L260.8,147.0L260.5,146.8L260.2,146.5L259.9,146.2L259.7,146.0L259.5,145.8L259.2,145.4L259.0,145.0L258.8,144.8L258.7,144.5L258.6,144.0L258.5,143.8L258.4,143.2L258.4,142.8L258.4,142.2L258.5,141.8L258.6,141.5L258.7,141.0L258.8,140.8L259.0,140.4L259.2,140.0L259.4,139.8L259.5,139.5L259.8,139.2L260.0,138.9L260.2,138.7L260.5,138.4L260.8,138.2L261.0,137.9L261.2,137.7L261.5,137.5L261.8,137.2L262.2,137.0L262.5,136.8L262.8,136.6L263.0,136.5L263.4,136.2L263.8,136.0L264.0,135.9L264.3,135.8L264.8,135.5L265.0,135.4L265.4,135.2L265.8,135.1L266.0,135.0L266.5,134.8L266.8,134.7L267.2,134.6L267.6,134.5L268.0,134.4L268.5,134.3L268.8,134.2L269.2,134.2L269.8,134.1L270.2,134.0L270.8,134.0L271.0,134.0L271.5,134.0L272.0,134.0L272.2,134.0L272.8,134.1L273.2,134.1L273.8,134.2L274.0,134.3L274.5,134.4L274.9,134.5L275.2,134.6L275.6,134.8L276.0,134.9L276.2,135.0L276.6,135.2L277.0,135.5L277.2,135.7L277.5,135.9L277.8,136.1L278.0,136.3L278.2,136.6L278.5,136.9L278.7,137.2L278.8,137.5L279.0,137.9L279.1,138.2L279.2,138.8L279.3,139.0L279.3,139.5L279.3,140.0L279.2,140.2L279.1,140.8L279.0,141.1L278.9,141.5L278.8,141.8L278.5,142.2L278.4,142.5L278.2,142.8L278.0,143.1L277.8,143.5L277.6,143.8L277.4,144.0L277.2,144.2L276.9,144.5L276.7,144.8L276.5,145.0L276.2,145.2L275.9,145.5L275.7,145.8L275.4,146.0L275.0,146.2L274.8,146.5L274.5,146.6L274.2,146.8L273.9,147.0L273.5,147.2L273.2,147.4L273.0,147.5L272.5,147.8L272.2,147.9L271.9,148.0L271.5,148.1L271.2,148.2L270.8,148.4L270.3,148.5L270.0,148.6L269.5,148.7L269.0,148.7L268.8,148.8Z" fill="#262c88" stroke="#161a60" stroke-width="0.5" fill-rule="evenodd"/><path d="M267.8,147.3L267.2,147.3L266.8,147.2L266.5,147.2L266.0,147.2L265.5,147.1L265.1,147.0L264.8,146.9L264.2,146.8L264.0,146.7L263.6,146.5L263.2,146.3L263.0,146.2L262.7,146.0L262.4,145.8L262.1,145.5L261.8,145.2L261.6,145.0L261.4,144.8L261.2,144.5L261.0,144.1L260.9,143.8L260.8,143.4L260.7,143.0L260.7,142.5L260.7,142.0L260.8,141.7L260.9,141.2L261.0,140.9L261.2,140.5L261.4,140.2L261.5,140.0L261.8,139.7L262.0,139.4L262.2,139.1L262.5,138.8L262.8,138.6L263.0,138.3L263.2,138.1L263.5,137.9L263.8,137.7L264.1,137.5L264.5,137.2L264.8,137.1L265.0,136.9L265.3,136.8L265.8,136.5L266.0,136.4L266.4,136.2L266.8,136.1L267.0,136.0L267.5,135.8L267.8,135.7L268.2,135.6L268.7,135.5L269.0,135.4L269.5,135.3L270.0,135.3L270.2,135.2L270.8,135.2L271.2,135.2L271.8,135.2L272.2,135.2L272.5,135.3L273.0,135.3L273.5,135.4L273.8,135.5L274.2,135.7L274.5,135.8L275.0,136.0L275.2,136.1L275.5,136.2L275.9,136.5L276.2,136.8L276.5,137.0L276.7,137.2L276.9,137.5L277.0,137.8L277.2,138.2L277.4,138.5L277.5,139.0L277.5,139.2L277.5,139.8L277.5,140.0L277.4,140.5L277.2,141.0L277.1,141.2L277.0,141.6L276.8,142.0L276.6,142.2L276.4,142.5L276.2,142.8L276.0,143.1L275.8,143.4L275.5,143.7L275.2,143.9L275.0,144.2L274.8,144.4L274.5,144.6L274.2,144.8L274.0,145.0L273.7,145.2L273.3,145.5L273.0,145.7L272.8,145.8L272.4,146.0L272.0,146.2L271.8,146.3L271.3,146.5L271.0,146.6L270.6,146.8L270.2,146.9L269.8,147.0L269.5,147.0L269.0,147.1L268.5,147.2L268.0,147.2L267.8,147.3Z" fill="#2e3494" stroke="#161a60" stroke-width="0.5" fill-rule="evenodd"/><path d="M268.8,145.5L268.2,145.6L267.8,145.6L267.2,145.6L266.8,145.5L266.5,145.5L266.0,145.4L265.5,145.2L265.2,145.1L264.9,145.0L264.5,144.8L264.2,144.6L264.0,144.4L263.8,144.1L263.5,143.8L263.3,143.5L263.2,143.2L263.0,142.8L263.0,142.5L263.0,142.0L263.0,141.8L263.1,141.2L263.2,140.9L263.5,140.5L263.6,140.2L263.8,140.0L264.0,139.7L264.2,139.4L264.5,139.2L264.8,138.9L265.0,138.7L265.3,138.5L265.6,138.2L266.0,138.0L266.2,137.8L266.5,137.7L266.8,137.5L267.2,137.3L267.5,137.2L268.0,137.0L268.2,136.9L268.8,136.8L269.0,136.7L269.5,136.6L270.0,136.5L270.2,136.5L270.8,136.4L271.2,136.4L271.8,136.5L272.2,136.5L272.5,136.6L273.0,136.7L273.3,136.8L273.8,136.9L274.0,137.1L274.3,137.2L274.6,137.5L274.9,137.8L275.1,138.0L275.3,138.2L275.5,138.6L275.6,139.0L275.7,139.5L275.7,140.0L275.6,140.5L275.5,140.8L275.3,141.2L275.1,141.5L275.0,141.8L274.8,142.1L274.5,142.4L274.2,142.7L274.0,142.9L273.8,143.2L273.5,143.4L273.2,143.6L273.0,143.8L272.7,144.0L272.3,144.2L272.0,144.4L271.8,144.6L271.4,144.8L271.0,144.9L270.8,145.0L270.2,145.2L270.0,145.3L269.5,145.4L269.0,145.5L268.8,145.5Z" fill="#3c42a4" stroke="#161a60" stroke-width="0.5" fill-rule="evenodd"/><path d="M269.2,143.5L268.8,143.6L268.2,143.6L267.8,143.5L267.5,143.5L267.0,143.3L266.8,143.2L266.4,143.0L266.2,142.8L266.0,142.5L265.8,142.0L265.7,141.8L265.8,141.5L265.8,141.0L266.0,140.6L266.2,140.2L266.4,140.0L266.6,139.8L266.9,139.5L267.2,139.2L267.5,139.0L267.8,138.8L268.0,138.7L268.4,138.5L268.8,138.4L269.1,138.2L269.5,138.1L270.0,138.0L270.2,138.0L270.8,138.0L271.2,138.0L271.5,138.0L272.0,138.2L272.3,138.2L272.7,138.5L273.0,138.7L273.2,139.0L273.4,139.2L273.5,139.8L273.4,140.2L273.3,140.8L273.2,141.0L273.0,141.3L272.8,141.6L272.5,141.8L272.2,142.1L272.0,142.3L271.7,142.5L271.3,142.8L271.0,142.9L270.8,143.0L270.2,143.2L270.0,143.3L269.5,143.5L269.2,143.5Z" fill="#6a70c4" stroke="#161a60" stroke-width="0.5" fill-rule="evenodd"/></g><polygon points="247.5,132.1 280.8,132.1 280.8,140.3 273.3,150.9 247.5,150.9" fill="none" stroke="#2238d8" stroke-width="1.9"/><polygon points="272.6,149.5 275.6,140 292.4,140 292.4,183.7 272.6,183.7" fill="#e2aabc" stroke="#d83020" stroke-width="1.9" stroke-linejoin="round"/><path d="M277,143 Q281,146 280,152 Q279,157 276,158" fill="none" stroke="#a87080" stroke-width="0.5"/>
<text x="290.3" y="135.1" font-size="6.4" fill="#111" font-weight="bold">59.0</text>
<text x="311" y="163.7" font-size="6.5" fill="#111" font-weight="bold">2.8</text>
<path d="M429.2,209.5L428.5,209.6L427.8,209.6L427.0,209.6L426.3,209.5L425.8,209.4L425.2,209.2L424.5,209.0L424.0,208.8L423.5,208.6L423.0,208.3L422.5,208.1L422.0,207.8L421.7,207.5L421.2,207.2L420.8,206.8L420.4,206.5L420.0,206.1L419.7,205.8L419.2,205.3L419.0,205.0L418.6,204.5L418.2,204.1L418.0,203.7L417.7,203.2L417.3,202.8L417.0,202.2L416.8,201.8L416.5,201.3L416.2,200.9L416.0,200.4L415.8,199.8L415.5,199.3L415.3,198.8L415.1,198.2L414.9,197.8L414.7,197.2L414.5,196.7L414.3,196.0L414.1,195.5L414.0,195.0L413.8,194.2L413.7,193.8L413.5,193.0L413.4,192.5L413.3,191.8L413.2,191.2L413.1,190.5L413.0,189.9L412.9,189.2L412.8,188.5L412.8,187.8L412.8,187.1L412.7,186.5L412.7,185.8L412.7,185.0L412.7,184.2L412.7,183.5L412.8,182.9L412.8,182.2L412.8,181.5L412.9,180.8L413.0,180.1L413.1,179.5L413.2,178.8L413.3,178.2L413.4,177.5L413.5,177.0L413.7,176.2L413.8,175.8L414.0,175.0L414.1,174.5L414.3,174.0L414.5,173.3L414.7,172.8L414.9,172.2L415.1,171.8L415.3,171.2L415.5,170.7L415.8,170.2L416.0,169.6L416.2,169.1L416.5,168.7L416.8,168.2L417.0,167.8L417.3,167.2L417.7,166.8L418.0,166.3L418.2,165.9L418.6,165.5L419.0,165.0L419.2,164.7L419.7,164.2L420.0,163.9L420.4,163.5L420.8,163.2L421.2,162.8L421.7,162.5L422.0,162.2L422.5,161.9L423.0,161.7L423.5,161.4L424.0,161.2L424.5,161.0L425.2,160.8L425.8,160.6L426.3,160.5L427.0,160.4L427.8,160.4L428.5,160.4L429.2,160.5L429.8,160.6L430.4,160.8L431.0,160.9L431.5,161.1L432.0,161.4L432.5,161.6L433.0,161.9L433.5,162.2L433.9,162.5L434.3,162.8L434.8,163.1L435.2,163.5L435.5,163.8L435.9,164.2L436.2,164.6L436.6,165.0L437.0,165.5L437.2,165.8L437.6,166.2L437.9,166.8L438.2,167.2L438.5,167.6L438.8,168.0L439.0,168.5L439.3,169.0L439.5,169.5L439.8,170.0L440.0,170.5L440.2,171.1L440.5,171.7L440.7,172.2L440.9,172.8L441.1,173.2L441.2,173.8L441.5,174.5L441.6,175.0L441.8,175.6L441.9,176.2L442.0,176.8L442.2,177.5L442.3,178.0L442.4,178.8L442.5,179.3L442.6,180.0L442.7,180.8L442.8,181.5L442.8,182.0L442.8,182.8L442.9,183.5L442.9,184.2L442.9,185.0L442.9,185.8L442.9,186.5L442.8,187.2L442.8,188.0L442.8,188.5L442.7,189.2L442.6,190.0L442.5,190.7L442.4,191.2L442.3,192.0L442.2,192.5L442.0,193.2L441.9,193.8L441.8,194.4L441.6,195.0L441.5,195.5L441.2,196.2L441.1,196.8L440.9,197.2L440.7,197.8L440.5,198.3L440.2,198.9L440.0,199.5L439.8,200.0L439.5,200.5L439.3,201.0L439.0,201.5L438.8,202.0L438.5,202.4L438.2,202.8L437.9,203.2L437.6,203.8L437.2,204.2L437.0,204.5L436.6,205.0L436.2,205.4L435.9,205.8L435.5,206.2L435.2,206.5L434.8,206.9L434.3,207.2L433.9,207.5L433.5,207.8L433.0,208.1L432.5,208.4L432.0,208.6L431.5,208.9L431.0,209.1L430.4,209.2L429.8,209.4L429.2,209.5Z" fill="url(#pd0)" fill-opacity="1.0"/><path d="M428.5,206.5L427.8,206.5L427.0,206.5L426.5,206.4L425.8,206.3L425.2,206.1L424.8,206.0L424.2,205.7L423.7,205.5L423.2,205.2L422.8,204.9L422.2,204.6L421.9,204.2L421.5,203.9L421.0,203.5L420.8,203.2L420.3,202.8L420.0,202.4L419.7,202.0L419.3,201.5L419.0,201.1L418.8,200.7L418.5,200.2L418.2,199.8L417.9,199.2L417.6,198.8L417.4,198.2L417.1,197.8L416.9,197.2L416.7,196.8L416.5,196.2L416.3,195.5L416.1,195.0L415.9,194.5L415.8,193.9L415.6,193.2L415.5,192.8L415.3,192.0L415.2,191.5L415.1,190.8L415.0,190.2L414.9,189.5L414.8,188.8L414.7,188.2L414.7,187.5L414.6,186.8L414.6,186.0L414.6,185.2L414.6,184.5L414.6,183.8L414.6,183.0L414.7,182.2L414.8,181.6L414.8,181.0L414.9,180.2L415.0,179.6L415.1,179.0L415.2,178.2L415.4,177.8L415.5,177.1L415.7,176.5L415.8,176.0L416.0,175.3L416.2,174.8L416.3,174.2L416.5,173.8L416.8,173.2L417.0,172.6L417.2,172.0L417.5,171.5L417.8,171.0L418.0,170.5L418.2,170.1L418.5,169.7L418.8,169.2L419.1,168.8L419.5,168.2L419.8,167.9L420.1,167.5L420.5,167.0L420.8,166.8L421.2,166.3L421.6,166.0L422.0,165.6L422.5,165.3L422.9,165.0L423.3,164.8L423.8,164.5L424.3,164.2L424.9,164.0L425.5,163.8L426.0,163.7L426.8,163.5L427.2,163.5L428.0,163.5L428.6,163.5L429.2,163.6L430.0,163.8L430.5,163.9L431.0,164.1L431.5,164.3L432.0,164.6L432.5,164.9L433.0,165.2L433.4,165.5L433.8,165.8L434.2,166.2L434.6,166.5L435.0,166.9L435.3,167.2L435.7,167.8L436.0,168.1L436.3,168.5L436.7,169.0L437.0,169.5L437.2,169.9L437.5,170.4L437.8,170.8L438.0,171.3L438.2,171.8L438.5,172.4L438.8,172.9L439.0,173.5L439.2,174.0L439.3,174.5L439.5,175.0L439.7,175.8L439.9,176.2L440.0,176.8L440.2,177.5L440.3,178.0L440.5,178.8L440.5,179.2L440.7,180.0L440.8,180.7L440.8,181.2L440.9,182.0L440.9,182.8L441.0,183.5L441.0,184.0L441.0,184.8L441.0,185.5L441.0,186.1L441.0,186.8L440.9,187.5L440.9,188.2L440.8,189.0L440.7,189.5L440.6,190.2L440.5,191.0L440.4,191.5L440.2,192.2L440.1,192.8L440.0,193.3L439.8,194.0L439.7,194.5L439.5,195.0L439.3,195.8L439.1,196.2L438.9,196.8L438.7,197.2L438.5,197.8L438.2,198.2L438.0,198.8L437.7,199.2L437.4,199.8L437.1,200.2L436.8,200.8L436.5,201.2L436.2,201.6L435.9,202.0L435.5,202.5L435.2,202.8L434.8,203.2L434.5,203.6L434.0,204.0L433.7,204.2L433.2,204.6L432.8,205.0L432.3,205.2L431.9,205.5L431.3,205.8L430.8,206.0L430.2,206.2L429.8,206.3L429.0,206.5L428.5,206.5Z" fill="url(#pw0)" fill-opacity="1.0"/><path d="M429.0,203.8L428.2,203.9L427.5,203.9L426.8,203.8L426.2,203.7L425.5,203.5L425.0,203.3L424.5,203.1L424.0,202.8L423.5,202.5L423.1,202.2L422.8,202.0L422.2,201.6L421.9,201.2L421.5,200.9L421.2,200.5L420.8,200.0L420.5,199.7L420.2,199.2L419.9,198.8L419.5,198.2L419.3,197.8L419.0,197.3L418.8,196.8L418.5,196.3L418.3,195.8L418.1,195.2L417.9,194.8L417.7,194.2L417.5,193.7L417.3,193.0L417.2,192.5L417.0,191.8L416.9,191.2L416.8,190.7L416.6,190.0L416.5,189.2L416.4,188.8L416.4,188.0L416.3,187.2L416.2,186.5L416.2,186.0L416.2,185.2L416.2,184.5L416.2,183.8L416.3,183.2L416.3,182.5L416.4,181.8L416.5,181.0L416.5,180.5L416.7,179.8L416.8,179.2L416.9,178.5L417.0,178.0L417.2,177.2L417.4,176.8L417.5,176.2L417.8,175.6L418.0,175.0L418.2,174.5L418.4,174.0L418.6,173.5L418.9,173.0L419.1,172.5L419.4,172.0L419.7,171.5L420.0,171.0L420.2,170.7L420.6,170.2L421.0,169.8L421.2,169.4L421.6,169.0L422.0,168.6L422.4,168.2L422.8,168.0L423.2,167.6L423.8,167.3L424.2,167.0L424.8,166.8L425.2,166.6L425.8,166.4L426.4,166.2L427.0,166.2L427.8,166.1L428.5,166.1L429.2,166.2L429.8,166.4L430.2,166.5L430.8,166.8L431.3,167.0L431.8,167.2L432.2,167.6L432.8,167.9L433.2,168.2L433.5,168.6L434.0,169.0L434.2,169.3L434.6,169.8L435.0,170.2L435.2,170.5L435.6,171.0L435.9,171.5L436.2,172.0L436.5,172.5L436.7,173.0L437.0,173.5L437.2,174.0L437.4,174.5L437.6,175.0L437.8,175.5L438.0,176.0L438.2,176.8L438.4,177.2L438.5,177.8L438.7,178.5L438.8,179.0L438.9,179.8L439.0,180.2L439.1,181.0L439.2,181.8L439.3,182.2L439.3,183.0L439.4,183.8L439.4,184.5L439.4,185.2L439.4,186.0L439.3,186.8L439.3,187.5L439.2,188.0L439.2,188.8L439.1,189.5L439.0,190.0L438.8,190.8L438.7,191.2L438.6,192.0L438.4,192.5L438.2,193.2L438.1,193.8L437.9,194.2L437.7,194.8L437.5,195.3L437.2,195.9L437.0,196.5L436.8,197.0L436.5,197.5L436.2,197.9L436.0,198.3L435.7,198.8L435.4,199.2L435.0,199.8L434.8,200.1L434.4,200.5L434.0,201.0L433.7,201.2L433.2,201.7L432.8,202.0L432.5,202.3L432.0,202.6L431.5,202.9L431.0,203.2L430.5,203.4L430.0,203.5L429.2,203.7Z" fill="url(#pd1)" fill-opacity="1.0"/><path d="M429.2,202.3L428.8,202.4L428.2,202.4L427.8,202.5L427.2,202.4L426.8,202.4L426.2,202.3L426.0,202.2L425.5,202.0L425.2,201.9L424.8,201.8L424.5,201.6L424.2,201.5L423.9,201.2L423.5,201.0L423.2,200.8L423.0,200.6L422.8,200.4L422.5,200.2L422.2,199.9L422.0,199.7L421.8,199.4L421.5,199.1L421.2,198.8L421.0,198.5L420.8,198.2L420.7,198.0L420.5,197.8L420.2,197.4L420.0,197.0L419.9,196.8L419.7,196.5L419.5,196.0L419.4,195.8L419.2,195.5L419.0,195.0L418.9,194.8L418.8,194.3L418.6,194.0L418.5,193.7L418.4,193.2L418.2,192.9L418.1,192.5L418.0,192.0L417.9,191.8L417.8,191.2L417.7,191.0L417.6,190.5L417.5,190.0L417.5,189.8L417.4,189.2L417.3,188.8L417.3,188.2L417.2,188.0L417.2,187.5L417.2,187.0L417.1,186.5L417.1,186.0L417.1,185.5L417.1,185.0L417.1,184.5L417.1,184.0L417.1,183.5L417.2,183.0L417.2,182.5L417.2,182.0L417.3,181.8L417.3,181.2L417.4,180.8L417.5,180.2L417.5,180.0L417.6,179.5L417.7,179.0L417.8,178.8L417.9,178.2L418.0,178.0L418.1,177.5L418.2,177.1L418.4,176.8L418.5,176.3L418.6,176.0L418.8,175.7L418.9,175.2L419.0,175.0L419.2,174.5L419.4,174.2L419.5,174.0L419.7,173.5L419.9,173.2L420.0,173.0L420.2,172.6L420.5,172.2L420.7,172.0L420.8,171.8L421.0,171.5L421.2,171.2L421.5,170.9L421.8,170.6L422.0,170.3L422.2,170.1L422.5,169.8L422.8,169.6L423.0,169.4L423.2,169.2L423.5,169.0L423.9,168.8L424.2,168.5L424.5,168.4L424.8,168.2L425.2,168.1L425.5,168.0L426.0,167.8L426.2,167.7L426.8,167.6L427.2,167.6L427.8,167.5L428.2,167.6L428.8,167.6L429.2,167.7L429.5,167.8L430.0,167.9L430.2,168.0L430.8,168.2L431.0,168.3L431.3,168.5L431.7,168.8L432.0,168.9L432.2,169.1L432.5,169.3L432.8,169.5L433.0,169.8L433.3,170.0L433.5,170.2L433.8,170.5L434.0,170.8L434.2,171.1L434.5,171.4L434.8,171.7L434.9,172.0L435.1,172.2L435.3,172.5L435.5,172.9L435.7,173.2L435.9,173.5L436.0,173.8L436.2,174.2L436.4,174.5L436.5,174.8L436.7,175.2L436.8,175.5L437.0,176.0L437.1,176.2L437.2,176.8L437.3,177.0L437.5,177.5L437.5,177.8L437.7,178.2L437.8,178.6L437.9,179.0L438.0,179.5L438.0,179.8L438.1,180.2L438.2,180.8L438.2,181.2L438.3,181.5L438.4,182.0L438.4,182.5L438.4,183.0L438.5,183.5L438.5,184.0L438.5,184.3L438.5,184.8L438.5,185.2L438.5,185.7L438.5,186.0L438.5,186.5L438.4,187.0L438.4,187.5L438.4,188.0L438.3,188.5L438.2,188.8L438.2,189.2L438.1,189.8L438.0,190.2L438.0,190.5L437.9,191.0L437.8,191.4L437.7,191.8L437.5,192.2L437.5,192.5L437.3,193.0L437.2,193.2L437.1,193.8L437.0,194.0L436.8,194.5L436.7,194.8L436.5,195.2L436.4,195.5L436.2,195.8L436.0,196.2L435.9,196.5L435.7,196.8L435.5,197.1L435.3,197.5L435.1,197.8L434.9,198.0L434.8,198.3L434.5,198.6L434.2,198.9L434.0,199.2L433.8,199.5L433.5,199.8L433.3,200.0L433.0,200.2L432.8,200.5L432.5,200.7L432.2,200.9L432.0,201.1L431.7,201.2L431.3,201.5L431.0,201.7L430.8,201.8L430.2,202.0L430.0,202.1L429.5,202.2L429.2,202.3Z" fill="#b4b4b4" stroke="#222" stroke-width="0.55" fill-rule="evenodd"/><path d="M428.5,200.3L428.0,200.3L427.5,200.3L427.0,200.3L426.8,200.2L426.2,200.1L425.9,200.0L425.5,199.8L425.2,199.7L424.8,199.5L424.5,199.3L424.2,199.2L424.0,199.0L423.7,198.8L423.4,198.5L423.1,198.2L422.8,198.0L422.6,197.8L422.4,197.5L422.2,197.2L422.0,197.0L421.8,196.7L421.5,196.4L421.3,196.0L421.1,195.8L421.0,195.5L420.8,195.1L420.6,194.8L420.4,194.5L420.2,194.1L420.1,193.8L420.0,193.5L419.8,193.0L419.7,192.8L419.5,192.2L419.4,192.0L419.3,191.5L419.2,191.2L419.1,190.8L419.0,190.4L418.9,190.0L418.8,189.5L418.8,189.1L418.7,188.8L418.6,188.2L418.6,187.8L418.5,187.2L418.5,187.0L418.4,186.5L418.4,186.0L418.4,185.5L418.4,185.0L418.4,184.5L418.4,184.0L418.4,183.5L418.5,183.0L418.5,182.8L418.6,182.2L418.6,181.8L418.7,181.2L418.8,180.9L418.8,180.5L418.9,180.0L419.0,179.6L419.1,179.2L419.2,178.8L419.3,178.5L419.4,178.0L419.5,177.8L419.7,177.2L419.8,177.0L420.0,176.5L420.1,176.2L420.2,175.9L420.4,175.5L420.6,175.2L420.8,174.9L421.0,174.5L421.1,174.2L421.3,174.0L421.5,173.6L421.8,173.3L422.0,173.0L422.2,172.8L422.4,172.5L422.6,172.2L422.8,172.0L423.1,171.8L423.4,171.5L423.7,171.2L424.0,171.0L424.2,170.8L424.5,170.7L424.8,170.5L425.2,170.3L425.5,170.2L425.9,170.0L426.2,169.9L426.8,169.8L427.0,169.7L427.5,169.7L428.0,169.7L428.5,169.7L428.8,169.8L429.2,169.9L429.7,170.0L430.0,170.1L430.3,170.2L430.8,170.5L431.0,170.6L431.2,170.8L431.6,171.0L431.9,171.2L432.2,171.5L432.5,171.7L432.8,172.0L433.0,172.2L433.2,172.5L433.4,172.8L433.6,173.0L433.8,173.2L434.0,173.5L434.2,173.9L434.5,174.2L434.6,174.5L434.8,174.8L435.0,175.2L435.2,175.5L435.3,175.8L435.5,176.2L435.6,176.5L435.8,176.8L435.9,177.2L436.0,177.5L436.2,178.0L436.2,178.3L436.4,178.8L436.5,179.2L436.6,179.5L436.7,180.0L436.8,180.3L436.8,180.8L436.9,181.2L437.0,181.8L437.0,182.0L437.1,182.5L437.1,183.0L437.2,183.5L437.2,184.0L437.2,184.5L437.2,185.0L437.2,185.5L437.2,186.0L437.2,186.5L437.1,187.0L437.1,187.5L437.0,188.0L437.0,188.2L436.9,188.8L436.8,189.2L436.8,189.7L436.7,190.0L436.6,190.5L436.5,190.8L436.4,191.2L436.2,191.7L436.2,192.0L436.0,192.5L435.9,192.8L435.8,193.2L435.6,193.5L435.5,193.8L435.3,194.2L435.2,194.5L435.0,194.8L434.8,195.2L434.6,195.5L434.5,195.8L434.2,196.1L434.0,196.5L433.8,196.8L433.6,197.0L433.4,197.2L433.2,197.5L433.0,197.8L432.8,198.0L432.5,198.3L432.2,198.5L431.9,198.8L431.6,199.0L431.2,199.2L431.0,199.4L430.8,199.5L430.3,199.8L430.0,199.9L429.7,200.0L429.2,200.1L428.8,200.2L428.5,200.3Z" fill="#a8a8a8" stroke="#222" stroke-width="0.55" fill-rule="evenodd"/><path d="M429.0,198.5L428.5,198.6L428.0,198.7L427.5,198.6L427.0,198.6L426.5,198.5L426.2,198.4L425.8,198.2L425.5,198.1L425.2,198.0L424.8,197.8L424.5,197.6L424.2,197.4L424.0,197.2L423.8,197.0L423.5,196.7L423.2,196.5L423.0,196.2L422.8,195.9L422.5,195.6L422.3,195.2L422.1,195.0L421.9,194.8L421.8,194.4L421.5,194.0L421.4,193.8L421.2,193.5L421.0,193.0L420.9,192.8L420.8,192.4L420.6,192.0L420.5,191.7L420.3,191.2L420.2,190.9L420.1,190.5L420.0,190.0L419.9,189.8L419.8,189.2L419.8,188.8L419.7,188.5L419.6,188.0L419.6,187.5L419.5,187.0L419.5,186.8L419.5,186.2L419.4,185.8L419.4,185.2L419.4,184.8L419.4,184.2L419.5,183.8L419.5,183.2L419.5,183.0L419.6,182.5L419.6,182.0L419.7,181.5L419.8,181.2L419.8,180.8L419.9,180.2L420.0,180.0L420.1,179.5L420.2,179.1L420.3,178.8L420.5,178.3L420.6,178.0L420.8,177.6L420.9,177.2L421.0,177.0L421.2,176.5L421.4,176.2L421.5,176.0L421.8,175.6L421.9,175.2L422.1,175.0L422.3,174.8L422.5,174.4L422.8,174.1L423.0,173.8L423.2,173.5L423.5,173.3L423.8,173.0L424.0,172.8L424.2,172.6L424.5,172.4L424.8,172.2L425.2,172.0L425.5,171.9L425.8,171.8L426.2,171.6L426.5,171.5L427.0,171.4L427.5,171.4L428.0,171.3L428.5,171.4L429.0,171.5L429.2,171.5L429.8,171.7L430.0,171.8L430.4,172.0L430.8,172.2L431.0,172.4L431.2,172.6L431.5,172.8L431.8,173.0L432.1,173.2L432.3,173.5L432.5,173.8L432.8,174.0L433.0,174.3L433.2,174.6L433.5,175.0L433.7,175.2L433.8,175.5L434.0,175.8L434.2,176.2L434.4,176.5L434.5,176.8L434.7,177.2L434.8,177.5L435.0,178.0L435.1,178.2L435.2,178.7L435.3,179.0L435.5,179.5L435.5,179.8L435.7,180.2L435.8,180.7L435.8,181.0L435.9,181.5L436.0,182.0L436.0,182.2L436.1,182.8L436.1,183.2L436.1,183.8L436.2,184.2L436.2,184.8L436.2,185.2L436.2,185.8L436.1,186.2L436.1,186.8L436.1,187.2L436.0,187.8L436.0,188.0L435.9,188.5L435.8,189.0L435.8,189.3L435.7,189.8L435.5,190.2L435.5,190.5L435.3,191.0L435.2,191.3L435.1,191.8L435.0,192.0L434.8,192.5L434.7,192.8L434.5,193.2L434.4,193.5L434.2,193.8L434.0,194.2L433.8,194.5L433.7,194.8L433.5,195.0L433.2,195.4L433.0,195.7L432.8,196.0L432.5,196.2L432.3,196.5L432.1,196.8L431.8,197.0L431.5,197.2L431.2,197.4L431.0,197.6L430.8,197.8L430.4,198.0L430.0,198.2L429.8,198.3L429.2,198.5L429.0,198.5Z" fill="#b0b0b0" stroke="#222" stroke-width="0.55" fill-rule="evenodd"/><path d="M429.2,197.0L428.8,197.1L428.2,197.2L427.8,197.2L427.2,197.2L426.8,197.1L426.3,197.0L426.0,196.9L425.7,196.8L425.2,196.5L425.0,196.4L424.8,196.2L424.5,196.0L424.2,195.8L423.9,195.5L423.7,195.2L423.5,195.0L423.2,194.7L423.0,194.4L422.8,194.1L422.5,193.8L422.4,193.5L422.2,193.2L422.0,192.8L421.9,192.5L421.7,192.2L421.5,191.8L421.4,191.5L421.3,191.0L421.2,190.8L421.0,190.2L420.9,190.0L420.8,189.5L420.8,189.2L420.6,188.8L420.6,188.2L420.5,187.9L420.4,187.5L420.4,187.0L420.3,186.5L420.3,186.0L420.3,185.5L420.3,185.0L420.3,184.5L420.3,184.0L420.3,183.5L420.4,183.0L420.4,182.5L420.5,182.1L420.6,181.8L420.6,181.2L420.8,180.8L420.8,180.5L420.9,180.0L421.0,179.8L421.2,179.2L421.3,179.0L421.4,178.5L421.5,178.2L421.7,177.8L421.9,177.5L422.0,177.2L422.2,176.8L422.4,176.5L422.5,176.2L422.8,175.9L423.0,175.6L423.2,175.3L423.5,175.0L423.7,174.8L423.9,174.5L424.2,174.2L424.5,174.0L424.8,173.8L425.0,173.6L425.2,173.5L425.7,173.2L426.0,173.1L426.3,173.0L426.8,172.9L427.2,172.8L427.8,172.8L428.2,172.8L428.8,172.9L429.2,173.0L429.5,173.1L429.9,173.2L430.2,173.4L430.5,173.6L430.8,173.8L431.1,174.0L431.4,174.2L431.7,174.5L431.9,174.8L432.1,175.0L432.3,175.2L432.5,175.5L432.8,175.8L433.0,176.2L433.2,176.5L433.4,176.8L433.5,177.0L433.7,177.5L433.9,177.8L434.0,178.1L434.2,178.5L434.3,178.8L434.4,179.2L434.5,179.5L434.7,180.0L434.8,180.4L434.8,180.8L435.0,181.2L435.0,181.5L435.1,182.0L435.2,182.5L435.2,183.0L435.2,183.4L435.3,183.8L435.3,184.2L435.3,184.8L435.3,185.2L435.3,185.8L435.3,186.2L435.2,186.6L435.2,187.0L435.2,187.5L435.1,188.0L435.0,188.5L435.0,188.8L434.8,189.2L434.8,189.6L434.7,190.0L434.5,190.5L434.4,190.8L434.3,191.2L434.2,191.5L434.0,191.9L433.9,192.2L433.7,192.5L433.5,193.0L433.4,193.2L433.2,193.5L433.0,193.8L432.8,194.2L432.5,194.5L432.3,194.8L432.1,195.0L431.9,195.2L431.7,195.5L431.4,195.8L431.1,196.0L430.8,196.2L430.5,196.4L430.2,196.6L429.9,196.8L429.5,196.9L429.2,197.0Z" fill="#a0a0a0" stroke="#222" stroke-width="0.55" fill-rule="evenodd"/><path d="M429.0,195.8L428.5,195.9L428.0,196.0L427.5,196.0L427.0,195.9L426.5,195.8L426.2,195.7L425.9,195.5L425.5,195.3L425.2,195.1L425.0,195.0L424.7,194.8L424.4,194.5L424.2,194.2L424.0,194.0L423.7,193.8L423.5,193.4L423.2,193.1L423.0,192.8L422.9,192.5L422.8,192.2L422.5,191.8L422.4,191.5L422.2,191.2L422.1,190.8L422.0,190.5L421.8,190.0L421.7,189.8L421.6,189.2L421.5,188.9L421.4,188.5L421.3,188.0L421.2,187.5L421.2,187.2L421.2,186.8L421.1,186.2L421.1,185.8L421.1,185.2L421.1,184.8L421.1,184.2L421.1,183.8L421.2,183.2L421.2,182.8L421.2,182.5L421.3,182.0L421.4,181.5L421.5,181.1L421.6,180.8L421.7,180.2L421.8,180.0L422.0,179.5L422.1,179.2L422.2,178.8L422.4,178.5L422.5,178.2L422.8,177.8L422.9,177.5L423.0,177.2L423.2,176.9L423.5,176.6L423.7,176.2L424.0,176.0L424.2,175.8L424.4,175.5L424.7,175.2L425.0,175.0L425.2,174.9L425.5,174.7L425.9,174.5L426.2,174.3L426.5,174.2L427.0,174.1L427.5,174.0L428.0,174.0L428.5,174.1L429.0,174.2L429.2,174.3L429.7,174.5L430.0,174.6L430.2,174.8L430.6,175.0L430.9,175.2L431.2,175.5L431.4,175.8L431.6,176.0L431.9,176.2L432.1,176.5L432.2,176.8L432.5,177.2L432.7,177.5L432.8,177.8L433.0,178.0L433.2,178.5L433.3,178.8L433.5,179.2L433.6,179.5L433.8,179.9L433.9,180.2L434.0,180.7L434.1,181.0L434.2,181.5L434.2,181.9L434.3,182.2L434.4,182.8L434.4,183.2L434.5,183.8L434.5,184.0L434.5,184.5L434.5,185.0L434.5,185.5L434.5,186.0L434.5,186.2L434.4,186.8L434.4,187.2L434.3,187.8L434.2,188.1L434.2,188.5L434.1,189.0L434.0,189.3L433.9,189.8L433.8,190.1L433.6,190.5L433.5,190.8L433.3,191.2L433.2,191.5L433.0,192.0L432.8,192.2L432.7,192.5L432.5,192.8L432.2,193.2L432.1,193.5L431.9,193.8L431.6,194.0L431.4,194.2L431.2,194.5L430.9,194.8L430.6,195.0L430.2,195.2L430.0,195.4L429.7,195.5L429.2,195.7L429.0,195.8Z" fill="#a8a8a8" stroke="#222" stroke-width="0.55" fill-rule="evenodd"/><path d="M428.0,194.8L427.5,194.8L427.2,194.7L426.8,194.6L426.4,194.5L426.0,194.3L425.8,194.2L425.5,194.0L425.1,193.8L424.8,193.5L424.6,193.2L424.4,193.0L424.2,192.8L424.0,192.5L423.8,192.2L423.5,191.8L423.3,191.5L423.2,191.2L423.0,190.9L422.8,190.5L422.7,190.2L422.6,189.8L422.5,189.5L422.3,189.0L422.2,188.7L422.1,188.2L422.0,187.8L422.0,187.5L421.9,187.0L421.9,186.5L421.8,186.0L421.8,185.5L421.8,185.0L421.8,184.5L421.8,184.0L421.9,183.5L421.9,183.0L422.0,182.5L422.0,182.2L422.1,181.8L422.2,181.3L422.3,181.0L422.5,180.5L422.6,180.2L422.7,179.8L422.8,179.5L423.0,179.1L423.2,178.8L423.3,178.5L423.5,178.2L423.8,177.8L424.0,177.5L424.2,177.2L424.4,177.0L424.6,176.8L424.8,176.5L425.1,176.2L425.5,176.0L425.8,175.8L426.0,175.7L426.4,175.5L426.8,175.4L427.2,175.3L427.5,175.2L428.0,175.2L428.2,175.3L428.8,175.4L429.2,175.5L429.5,175.6L429.8,175.8L430.1,176.0L430.5,176.2L430.8,176.5L431.0,176.7L431.2,177.0L431.4,177.2L431.6,177.5L431.8,177.8L432.0,178.0L432.2,178.5L432.4,178.8L432.5,179.0L432.8,179.5L432.9,179.8L433.0,180.1L433.1,180.5L433.2,180.9L433.3,181.2L433.5,181.8L433.5,182.0L433.6,182.5L433.7,183.0L433.7,183.5L433.8,183.8L433.8,184.2L433.8,184.8L433.8,185.2L433.8,185.8L433.8,186.2L433.7,186.5L433.7,187.0L433.6,187.5L433.5,188.0L433.5,188.2L433.3,188.8L433.2,189.1L433.1,189.5L433.0,189.9L432.9,190.2L432.8,190.5L432.5,191.0L432.4,191.2L432.2,191.5L432.0,192.0L431.8,192.2L431.6,192.5L431.4,192.8L431.2,193.0L431.0,193.3L430.8,193.5L430.5,193.8L430.1,194.0L429.8,194.2L429.5,194.4L429.2,194.5L428.8,194.6L428.2,194.7L428.0,194.8Z" fill="#969696" stroke="#222" stroke-width="0.55" fill-rule="evenodd"/><path d="M428.5,193.5L428.0,193.6L427.5,193.6L427.0,193.5L426.8,193.4L426.3,193.2L426.0,193.1L425.8,192.9L425.5,192.7L425.2,192.5L425.0,192.2L424.7,192.0L424.5,191.7L424.2,191.4L424.0,191.0L423.9,190.8L423.7,190.5L423.5,190.0L423.4,189.8L423.2,189.4L423.1,189.0L423.0,188.6L422.9,188.2L422.8,187.8L422.7,187.5L422.7,187.0L422.6,186.5L422.6,186.0L422.5,185.5L422.5,185.0L422.5,184.5L422.6,184.0L422.6,183.5L422.7,183.0L422.7,182.5L422.8,182.2L422.9,181.8L423.0,181.4L423.1,181.0L423.2,180.6L423.4,180.2L423.5,180.0L423.7,179.5L423.9,179.2L424.0,179.0L424.2,178.6L424.5,178.3L424.7,178.0L425.0,177.8L425.2,177.5L425.5,177.3L425.8,177.1L426.0,176.9L426.3,176.8L426.8,176.6L427.0,176.5L427.5,176.4L428.0,176.4L428.5,176.5L428.8,176.5L429.2,176.7L429.5,176.9L429.8,177.0L430.1,177.2L430.4,177.5L430.6,177.8L430.9,178.0L431.1,178.2L431.3,178.5L431.5,178.9L431.7,179.2L431.9,179.5L432.0,179.8L432.2,180.2L432.3,180.5L432.5,181.0L432.6,181.2L432.7,181.8L432.8,182.0L432.9,182.5L432.9,183.0L433.0,183.5L433.0,183.8L433.1,184.2L433.1,184.8L433.1,185.2L433.1,185.8L433.0,186.2L433.0,186.5L432.9,187.0L432.9,187.5L432.8,188.0L432.7,188.2L432.6,188.8L432.5,189.0L432.3,189.5L432.2,189.8L432.0,190.2L431.9,190.5L431.7,190.8L431.5,191.1L431.3,191.5L431.1,191.8L430.9,192.0L430.6,192.2L430.4,192.5L430.1,192.8L429.8,193.0L429.5,193.1L429.2,193.3L428.8,193.5L428.5,193.5Z" fill="#a0a0a0" stroke="#222" stroke-width="0.55" fill-rule="evenodd"/><path d="M428.8,192.3L428.2,192.4L427.8,192.4L427.2,192.4L426.8,192.2L426.5,192.1L426.2,192.0L425.9,191.8L425.6,191.5L425.3,191.2L425.1,191.0L424.9,190.8L424.7,190.5L424.5,190.1L424.3,189.8L424.2,189.5L424.0,189.1L423.9,188.8L423.8,188.4L423.6,188.0L423.5,187.5L423.5,187.2L423.4,186.8L423.3,186.2L423.3,185.8L423.2,185.5L423.2,185.0L423.2,184.5L423.3,184.2L423.3,183.8L423.4,183.2L423.5,182.8L423.5,182.5L423.6,182.0L423.8,181.6L423.9,181.2L424.0,180.9L424.2,180.5L424.3,180.2L424.5,179.9L424.7,179.5L424.9,179.2L425.1,179.0L425.3,178.8L425.6,178.5L425.9,178.2L426.2,178.0L426.5,177.9L426.8,177.8L427.2,177.6L427.8,177.6L428.2,177.6L428.8,177.7L429.0,177.8L429.3,178.0L429.7,178.2L430.0,178.5L430.2,178.7L430.5,179.0L430.7,179.2L430.9,179.5L431.0,179.8L431.2,180.1L431.4,180.5L431.5,180.8L431.7,181.2L431.8,181.5L432.0,182.0L432.0,182.2L432.1,182.8L432.2,183.2L432.3,183.5L432.3,184.0L432.4,184.5L432.4,185.0L432.4,185.5L432.3,186.0L432.3,186.5L432.2,186.8L432.1,187.2L432.0,187.8L432.0,188.0L431.8,188.5L431.7,188.8L431.5,189.2L431.4,189.5L431.2,189.9L431.0,190.2L430.9,190.5L430.7,190.8L430.5,191.0L430.2,191.3L430.0,191.5L429.7,191.8L429.3,192.0L429.0,192.2L428.8,192.3Z" fill="#8e8e8e" stroke="#222" stroke-width="0.55" fill-rule="evenodd"/><path d="M428.5,190.8L428.0,190.9L427.5,190.9L427.1,190.8L426.8,190.6L426.5,190.5L426.2,190.2L425.9,190.0L425.7,189.8L425.5,189.5L425.2,189.2L425.0,188.8L424.9,188.5L424.8,188.1L424.6,187.8L424.5,187.4L424.4,187.0L424.3,186.5L424.2,186.0L424.2,185.8L424.2,185.2L424.2,184.8L424.2,184.2L424.2,184.0L424.3,183.5L424.4,183.0L424.5,182.6L424.6,182.2L424.8,181.9L424.9,181.5L425.0,181.2L425.2,180.8L425.5,180.5L425.7,180.2L425.9,180.0L426.2,179.8L426.5,179.5L426.8,179.4L427.1,179.2L427.5,179.1L428.0,179.1L428.5,179.2L428.8,179.3L429.1,179.5L429.4,179.8L429.7,180.0L429.9,180.2L430.1,180.5L430.3,180.8L430.5,181.1L430.7,181.5L430.8,181.8L431.0,182.2L431.1,182.5L431.2,183.0L431.2,183.3L431.3,183.8L431.4,184.2L431.4,184.8L431.4,185.2L431.4,185.8L431.3,186.2L431.2,186.7L431.2,187.0L431.1,187.5L431.0,187.8L430.8,188.2L430.7,188.5L430.5,188.9L430.3,189.2L430.1,189.5L429.9,189.8L429.7,190.0L429.4,190.2L429.1,190.5L428.8,190.7L428.5,190.8Z" fill="#9a9a9a" stroke="#222" stroke-width="0.55" fill-rule="evenodd"/><path d="M421.5,191 C421.5,196 424.5,198.5 428,198.5 C432,198.5 435.5,195 435,190 C434,187 432.5,187 431,188.5 L426,188.5 C424,187 422,187.5 421.5,191 Z" fill="#111" filter="url(#bl05)"/><circle cx="428.5" cy="190" r="1.8" fill="#cfcfcf" filter="url(#bl05)"/><rect x="439.3" y="169.9" width="59.9" height="18" fill="#fff" stroke="#000" stroke-width="2"/>
<text x="482" y="165.4" font-size="6.4" fill="#111" font-weight="bold">0.4</text>
<g stroke="#000" stroke-width="1.8" fill="none">
<line x1="178" y1="60.5" x2="225" y2="60.5" marker-end="url(#ah)"/>
<polyline points="152.6,74.3 163.6,95.5 379.5,95.5" marker-end="url(#ah)"/>
<line x1="173.6" y1="179" x2="225" y2="179" marker-end="url(#ah)"/>
<polyline points="163.3,182.3 173,199.2 378.5,199.2" marker-end="url(#ah)"/>
</g>
<line x1="75.7" y1="25.4" x2="77.9" y2="25.4" stroke="#333" stroke-width="0.9"/><line x1="75.7" y1="46.4" x2="77.9" y2="46.4" stroke="#333" stroke-width="0.9"/><line x1="75.7" y1="65.80000000000001" x2="77.9" y2="65.80000000000001" stroke="#333" stroke-width="0.9"/><line x1="75.7" y1="86.2" x2="77.9" y2="86.2" stroke="#333" stroke-width="0.9"/><line x1="75.7" y1="96.4" x2="77.9" y2="96.4" stroke="#333" stroke-width="0.9"/><text transform="translate(63.3,28.0) scale(0.83,1)" font-size="7.6" fill="#111" stroke="#111" stroke-width="0.22">10</text><text transform="translate(70.42,24.7) scale(0.83,1)" font-size="4.864" fill="#111">5</text><text transform="translate(63.3,49.0) scale(0.83,1)" font-size="7.6" fill="#111" stroke="#111" stroke-width="0.22">10</text><text transform="translate(70.42,45.7) scale(0.83,1)" font-size="4.864" fill="#111">4</text><text transform="translate(63.3,68.4) scale(0.83,1)" font-size="7.6" fill="#111" stroke="#111" stroke-width="0.22">10</text><text transform="translate(70.42,65.1) scale(0.83,1)" font-size="4.864" fill="#111">3</text><text transform="translate(63.3,88.8) scale(0.83,1)" font-size="7.6" fill="#111" stroke="#111" stroke-width="0.22">10</text><text transform="translate(70.42,85.5) scale(0.83,1)" font-size="4.864" fill="#111">2</text><text transform="translate(68.3,99.0) scale(0.83,1)" font-size="7.6" fill="#111" stroke="#111" stroke-width="0.22">0</text>
<text transform="translate(85.6,117.5) scale(0.83,1)" font-size="7.6" fill="#111" stroke="#111" stroke-width="0.22">0</text><text transform="translate(94.9,117.5) scale(0.83,1)" font-size="7.6" fill="#111" stroke="#111" stroke-width="0.22">10</text><text transform="translate(102.02,114.2) scale(0.83,1)" font-size="4.864" fill="#111">2</text><text transform="translate(118.7,117.5) scale(0.83,1)" font-size="7.6" fill="#111" stroke="#111" stroke-width="0.22">10</text><text transform="translate(125.82,114.2) scale(0.83,1)" font-size="4.864" fill="#111">3</text><text transform="translate(143.0,117.5) scale(0.83,1)" font-size="7.6" fill="#111" stroke="#111" stroke-width="0.22">10</text><text transform="translate(150.12,114.2) scale(0.83,1)" font-size="4.864" fill="#111">4</text><text transform="translate(166.5,117.5) scale(0.83,1)" font-size="7.6" fill="#111" stroke="#111" stroke-width="0.22">10</text><text transform="translate(173.62,114.2) scale(0.83,1)" font-size="4.864" fill="#111">5</text>
<line x1="245.4" y1="28.4" x2="247.6" y2="28.4" stroke="#333" stroke-width="0.9"/><line x1="245.4" y1="47.4" x2="247.6" y2="47.4" stroke="#333" stroke-width="0.9"/><line x1="245.4" y1="67.9" x2="247.6" y2="67.9" stroke="#333" stroke-width="0.9"/><line x1="245.4" y1="89.9" x2="247.6" y2="89.9" stroke="#333" stroke-width="0.9"/><text transform="translate(233.7,31.0) scale(0.83,1)" font-size="7.6" fill="#111" stroke="#111" stroke-width="0.22">10</text><text transform="translate(240.82,27.7) scale(0.83,1)" font-size="4.864" fill="#111">5</text><text transform="translate(233.7,50.0) scale(0.83,1)" font-size="7.6" fill="#111" stroke="#111" stroke-width="0.22">10</text><text transform="translate(240.82,46.7) scale(0.83,1)" font-size="4.864" fill="#111">4</text><text transform="translate(233.7,70.5) scale(0.83,1)" font-size="7.6" fill="#111" stroke="#111" stroke-width="0.22">10</text><text transform="translate(240.82,67.2) scale(0.83,1)" font-size="4.864" fill="#111">3</text><text transform="translate(233.7,92.5) scale(0.83,1)" font-size="7.6" fill="#111" stroke="#111" stroke-width="0.22">10</text><text transform="translate(240.82,89.2) scale(0.83,1)" font-size="4.864" fill="#111">2</text>
<text transform="translate(258.6,117.5) scale(0.83,1)" font-size="7.6" fill="#111" stroke="#111" stroke-width="0.22">0</text><text transform="translate(267.7,117.5) scale(0.83,1)" font-size="7.6" fill="#111" stroke="#111" stroke-width="0.22">10</text><text transform="translate(274.82,114.2) scale(0.83,1)" font-size="4.864" fill="#111">2</text><text transform="translate(290.8,117.5) scale(0.83,1)" font-size="7.6" fill="#111" stroke="#111" stroke-width="0.22">10</text><text transform="translate(297.92,114.2) scale(0.83,1)" font-size="4.864" fill="#111">3</text><text transform="translate(313.5,117.5) scale(0.83,1)" font-size="7.6" fill="#111" stroke="#111" stroke-width="0.22">10</text><text transform="translate(320.62,114.2) scale(0.83,1)" font-size="4.864" fill="#111">4</text><text transform="translate(336,117.5) scale(0.83,1)" font-size="7.6" fill="#111" stroke="#111" stroke-width="0.22">10</text><text transform="translate(343.12,114.2) scale(0.83,1)" font-size="4.864" fill="#111">5</text>
<line x1="409.0" y1="29.799999999999997" x2="411.2" y2="29.799999999999997" stroke="#333" stroke-width="0.9"/><line x1="409.0" y1="49.4" x2="411.2" y2="49.4" stroke="#333" stroke-width="0.9"/><line x1="409.0" y1="70.9" x2="411.2" y2="70.9" stroke="#333" stroke-width="0.9"/><line x1="409.0" y1="90.4" x2="411.2" y2="90.4" stroke="#333" stroke-width="0.9"/><line x1="409.0" y1="100.4" x2="411.2" y2="100.4" stroke="#333" stroke-width="0.9"/><text transform="translate(396.4,32.4) scale(0.83,1)" font-size="7.6" fill="#111" stroke="#111" stroke-width="0.22">10</text><text transform="translate(403.52,29.1) scale(0.83,1)" font-size="4.864" fill="#111">5</text><text transform="translate(396.4,52.0) scale(0.83,1)" font-size="7.6" fill="#111" stroke="#111" stroke-width="0.22">10</text><text transform="translate(403.52,48.7) scale(0.83,1)" font-size="4.864" fill="#111">4</text><text transform="translate(396.4,73.5) scale(0.83,1)" font-size="7.6" fill="#111" stroke="#111" stroke-width="0.22">10</text><text transform="translate(403.52,70.2) scale(0.83,1)" font-size="4.864" fill="#111">3</text><text transform="translate(396.4,93.0) scale(0.83,1)" font-size="7.6" fill="#111" stroke="#111" stroke-width="0.22">10</text><text transform="translate(403.52,89.7) scale(0.83,1)" font-size="4.864" fill="#111">2</text><text transform="translate(401.3,103.0) scale(0.83,1)" font-size="7.6" fill="#111" stroke="#111" stroke-width="0.22">0</text>
<line x1="76.2" y1="134.3" x2="78.4" y2="134.3" stroke="#333" stroke-width="0.9"/><line x1="76.2" y1="155.3" x2="78.4" y2="155.3" stroke="#333" stroke-width="0.9"/><line x1="76.2" y1="175.3" x2="78.4" y2="175.3" stroke="#333" stroke-width="0.9"/><line x1="76.2" y1="197.20000000000002" x2="78.4" y2="197.20000000000002" stroke="#333" stroke-width="0.9"/><line x1="76.2" y1="207.70000000000002" x2="78.4" y2="207.70000000000002" stroke="#333" stroke-width="0.9"/><text transform="translate(64,136.9) scale(0.83,1)" font-size="7.6" fill="#111" stroke="#111" stroke-width="0.22">10</text><text transform="translate(71.12,133.6) scale(0.83,1)" font-size="4.864" fill="#111">5</text><text transform="translate(64,157.9) scale(0.83,1)" font-size="7.6" fill="#111" stroke="#111" stroke-width="0.22">10</text><text transform="translate(71.12,154.6) scale(0.83,1)" font-size="4.864" fill="#111">4</text><text transform="translate(64,177.9) scale(0.83,1)" font-size="7.6" fill="#111" stroke="#111" stroke-width="0.22">10</text><text transform="translate(71.12,174.6) scale(0.83,1)" font-size="4.864" fill="#111">3</text><text transform="translate(64,199.8) scale(0.83,1)" font-size="7.6" fill="#111" stroke="#111" stroke-width="0.22">10</text><text transform="translate(71.12,196.5) scale(0.83,1)" font-size="4.864" fill="#111">2</text><text transform="translate(69.3,210.3) scale(0.83,1)" font-size="7.6" fill="#111" stroke="#111" stroke-width="0.22">0</text>
<text transform="translate(85.8,227.4) scale(0.83,1)" font-size="7.6" fill="#111" stroke="#111" stroke-width="0.22">0</text><text transform="translate(94.9,227.4) scale(0.83,1)" font-size="7.6" fill="#111" stroke="#111" stroke-width="0.22">10</text><text transform="translate(102.02,224.1) scale(0.83,1)" font-size="4.864" fill="#111">2</text><text transform="translate(118.7,227.4) scale(0.83,1)" font-size="7.6" fill="#111" stroke="#111" stroke-width="0.22">10</text><text transform="translate(125.82,224.1) scale(0.83,1)" font-size="4.864" fill="#111">3</text><text transform="translate(143.0,227.4) scale(0.83,1)" font-size="7.6" fill="#111" stroke="#111" stroke-width="0.22">10</text><text transform="translate(150.12,224.1) scale(0.83,1)" font-size="4.864" fill="#111">4</text><text transform="translate(166.5,227.4) scale(0.83,1)" font-size="7.6" fill="#111" stroke="#111" stroke-width="0.22">10</text><text transform="translate(173.62,224.1) scale(0.83,1)" font-size="4.864" fill="#111">5</text>
<line x1="245.4" y1="129.6" x2="247.6" y2="129.6" stroke="#333" stroke-width="0.9"/><line x1="245.4" y1="152.1" x2="247.6" y2="152.1" stroke="#333" stroke-width="0.9"/><line x1="245.4" y1="171.6" x2="247.6" y2="171.6" stroke="#333" stroke-width="0.9"/><line x1="245.4" y1="193.3" x2="247.6" y2="193.3" stroke="#333" stroke-width="0.9"/><line x1="245.4" y1="202.20000000000002" x2="247.6" y2="202.20000000000002" stroke="#333" stroke-width="0.9"/><text transform="translate(233.2,132.2) scale(0.83,1)" font-size="7.6" fill="#111" stroke="#111" stroke-width="0.22">10</text><text transform="translate(240.32,128.9) scale(0.83,1)" font-size="4.864" fill="#111">5</text><text transform="translate(233.2,154.7) scale(0.83,1)" font-size="7.6" fill="#111" stroke="#111" stroke-width="0.22">10</text><text transform="translate(240.32,151.4) scale(0.83,1)" font-size="4.864" fill="#111">4</text><text transform="translate(233.2,174.2) scale(0.83,1)" font-size="7.6" fill="#111" stroke="#111" stroke-width="0.22">10</text><text transform="translate(240.32,170.9) scale(0.83,1)" font-size="4.864" fill="#111">3</text><text transform="translate(233.2,195.9) scale(0.83,1)" font-size="7.6" fill="#111" stroke="#111" stroke-width="0.22">10</text><text transform="translate(240.32,192.6) scale(0.83,1)" font-size="4.864" fill="#111">2</text><text transform="translate(238.5,204.8) scale(0.83,1)" font-size="7.6" fill="#111" stroke="#111" stroke-width="0.22">0</text>
<text transform="translate(258.6,222.6) scale(0.83,1)" font-size="7.6" fill="#111" stroke="#111" stroke-width="0.22">0</text><text transform="translate(267.7,222.6) scale(0.83,1)" font-size="7.6" fill="#111" stroke="#111" stroke-width="0.22">10</text><text transform="translate(274.82,219.3) scale(0.83,1)" font-size="4.864" fill="#111">2</text><text transform="translate(290.8,222.6) scale(0.83,1)" font-size="7.6" fill="#111" stroke="#111" stroke-width="0.22">10</text><text transform="translate(297.92,219.3) scale(0.83,1)" font-size="4.864" fill="#111">3</text><text transform="translate(313.5,222.6) scale(0.83,1)" font-size="7.6" fill="#111" stroke="#111" stroke-width="0.22">10</text><text transform="translate(320.62,219.3) scale(0.83,1)" font-size="4.864" fill="#111">4</text><text transform="translate(336,222.6) scale(0.83,1)" font-size="7.6" fill="#111" stroke="#111" stroke-width="0.22">10</text><text transform="translate(343.12,219.3) scale(0.83,1)" font-size="4.864" fill="#111">5</text>
<line x1="409.0" y1="128.6" x2="411.2" y2="128.6" stroke="#333" stroke-width="0.9"/><line x1="409.0" y1="148.70000000000002" x2="411.2" y2="148.70000000000002" stroke="#333" stroke-width="0.9"/><line x1="409.0" y1="169.70000000000002" x2="411.2" y2="169.70000000000002" stroke="#333" stroke-width="0.9"/><line x1="409.0" y1="189.9" x2="411.2" y2="189.9" stroke="#333" stroke-width="0.9"/><line x1="409.0" y1="199.8" x2="411.2" y2="199.8" stroke="#333" stroke-width="0.9"/><text transform="translate(397.4,131.2) scale(0.83,1)" font-size="7.6" fill="#111" stroke="#111" stroke-width="0.22">10</text><text transform="translate(404.52,127.9) scale(0.83,1)" font-size="4.864" fill="#111">5</text><text transform="translate(397.4,151.3) scale(0.83,1)" font-size="7.6" fill="#111" stroke="#111" stroke-width="0.22">10</text><text transform="translate(404.52,148.0) scale(0.83,1)" font-size="4.864" fill="#111">4</text><text transform="translate(397.4,172.3) scale(0.83,1)" font-size="7.6" fill="#111" stroke="#111" stroke-width="0.22">10</text><text transform="translate(404.52,169.0) scale(0.83,1)" font-size="4.864" fill="#111">3</text><text transform="translate(397.4,192.5) scale(0.83,1)" font-size="7.6" fill="#111" stroke="#111" stroke-width="0.22">10</text><text transform="translate(404.52,189.2) scale(0.83,1)" font-size="4.864" fill="#111">2</text><text transform="translate(402.3,202.4) scale(0.83,1)" font-size="7.6" fill="#111" stroke="#111" stroke-width="0.22">0</text>
<text transform="translate(420.6,220.7) scale(0.83,1)" font-size="7.6" fill="#111" stroke="#111" stroke-width="0.22">0</text><text transform="translate(430.0,220.7) scale(0.83,1)" font-size="7.6" fill="#111" stroke="#111" stroke-width="0.22">10</text><text transform="translate(437.12,217.4) scale(0.83,1)" font-size="4.864" fill="#111">2</text><text transform="translate(454.4,220.7) scale(0.83,1)" font-size="7.6" fill="#111" stroke="#111" stroke-width="0.22">10</text><text transform="translate(461.52,217.4) scale(0.83,1)" font-size="4.864" fill="#111">3</text><text transform="translate(478.3,220.7) scale(0.83,1)" font-size="7.6" fill="#111" stroke="#111" stroke-width="0.22">10</text><text transform="translate(485.42,217.4) scale(0.83,1)" font-size="4.864" fill="#111">4</text><text transform="translate(500.1,220.7) scale(0.83,1)" font-size="7.6" fill="#111" stroke="#111" stroke-width="0.22">10</text><text transform="translate(507.22,217.4) scale(0.83,1)" font-size="4.864" fill="#111">5</text>
<text transform="translate(53.8,117.6) scale(0.81,1)" font-size="8.8" fill="#111">CD3</text>
<text transform="translate(218.2,115.1) scale(0.81,1)" font-size="8.8" fill="#111">T-bet</text>
<text transform="translate(371.2,114.6) scale(0.8,1)" font-size="9.0" fill="#111">BCL-6</text>
<text transform="translate(115.2,240) scale(0.81,1)" font-size="8.8" fill="#111">CD4</text>
<text transform="translate(283.4,234.8) scale(0.81,1)" font-size="8.8" fill="#111">GATA3</text>
<text transform="translate(445.6,232.7) scale(0.81,1)" font-size="8.8" fill="#111">CXCR5</text>
<text x="23.5" y="267.3" font-size="11.6" fill="#000" font-weight="bold">B</text>
<g stroke="#000" stroke-width="1.3" fill="none"><polyline points="54.2,272.3 54.2,404 246.5,404"/><line x1="50.900000000000006" y1="275.4" x2="54.2" y2="275.4"/><line x1="50.900000000000006" y1="316.8" x2="54.2" y2="316.8"/><line x1="50.900000000000006" y1="358.5" x2="54.2" y2="358.5"/><line x1="50.900000000000006" y1="400.2" x2="54.2" y2="400.2"/><line x1="57.6" y1="404" x2="57.6" y2="407"/><line x1="71.3" y1="404" x2="71.3" y2="407"/><line x1="100.4" y1="404" x2="100.4" y2="407"/><line x1="143" y1="404" x2="143" y2="407"/><line x1="236" y1="404" x2="236" y2="407"/></g>
<text x="48.3" y="278.6" font-size="8.8" fill="#1a1a1a" text-anchor="end">3</text>
<text x="48.3" y="319.9" font-size="8.8" fill="#1a1a1a" text-anchor="end">2</text>
<text x="48.3" y="361.4" font-size="8.8" fill="#1a1a1a" text-anchor="end">1</text>
<text x="48.3" y="403.1" font-size="8.8" fill="#1a1a1a" text-anchor="end">0</text>
<text x="57.9" y="417.7" font-size="8.3" fill="#1a1a1a" text-anchor="middle">Pre</text>
<text x="71.2" y="417.7" font-size="8.3" fill="#1a1a1a" text-anchor="middle">1</text>
<text x="100.6" y="417.7" font-size="8.3" fill="#1a1a1a" text-anchor="middle">3</text>
<text x="143" y="417.7" font-size="8.3" fill="#1a1a1a" text-anchor="middle">6</text>
<text x="236.2" y="417.7" font-size="8.3" fill="#1a1a1a" text-anchor="middle">12</text>
<text transform="translate(96.8,430.6) scale(0.857,1)" font-size="10.4" fill="#1a1a1a" stroke="#1a1a1a" stroke-width="0.2">Time post ibrutinib initiation</text>
<text transform="translate(37.8,399.9) rotate(-90) scale(0.94,1)" font-size="9.4" fill="#1a1a1a" stroke="#1a1a1a" stroke-width="0.2">Change from pre ibrutinib (ratio)</text>
<polyline points="58,358.6 71.1,352 100.5,336.7 143,334.4 236,344.6" fill="none" stroke="#8c8c8c" stroke-width="1.8"/><path d="M100.5,330.2 V343.2 M96.5,330.2 H104.5 M96.5,343.2 H104.5" fill="none" stroke="#939393" stroke-width="1.2"/><path d="M143,324 V345.3 M139.0,324 H147.0 M139.0,345.3 H147.0" fill="none" stroke="#939393" stroke-width="1.2"/><path d="M236,329.2 V360 M232.0,329.2 H240.0 M232.0,360 H240.0" fill="none" stroke="#939393" stroke-width="1.2"/>
<polyline points="58,358.6 71.1,353.9 100.5,350.5 150.7,328.2 243.5,337.8" fill="none" stroke="#363c8e" stroke-width="1.8"/><path d="M71.1,347.7 V356 M67.1,347.7 H75.1" fill="none" stroke="#5e619e" stroke-width="1.2"/><path d="M100.5,350.5 V369.5 M96.5,369.5 H104.5" fill="none" stroke="#5e619e" stroke-width="1.2"/><path d="M150.7,301.3 V355.5 M146.7,301.3 H154.7 M146.7,355.5 H154.7" fill="none" stroke="#5e619e" stroke-width="1.2"/><path d="M243.5,304.3 V371.9 M239.5,304.3 H247.5 M239.5,371.9 H247.5" fill="none" stroke="#5e619e" stroke-width="1.2"/>
<polyline points="58,358.6 71.1,361.4 100.5,385.9 135.4,391.3 236,386.2" fill="none" stroke="#c8356a" stroke-width="1.8"/><path d="M71.1,361.4 V369.5 M67.1,369.5 H75.1" fill="none" stroke="#c94674" stroke-width="1.2"/><path d="M100.5,377 V392 M96.5,377 H104.5" fill="none" stroke="#c94674" stroke-width="1.2"/><path d="M236,376 V394.6 M232.0,376 H240.0 M232.0,394.6 H240.0" fill="none" stroke="#c94674" stroke-width="1.2"/>
<polyline points="58,358.6 71.1,389.3 100.5,395.5 143,397.5 236,400.9" fill="none" stroke="#000" stroke-width="2.0"/><path d="M71.1,381.5 V396.8 M67.1,381.5 H75.1 M67.1,396.8 H75.1" fill="none" stroke="#111" stroke-width="1.4"/>
<circle cx="71.1" cy="352" r="4.1" fill="#8c8c8c"/>
<circle cx="100.5" cy="336.7" r="4.1" fill="#8c8c8c"/>
<circle cx="143" cy="334.4" r="4.1" fill="#8c8c8c"/>
<circle cx="236" cy="344.6" r="4.1" fill="#8c8c8c"/>
<rect x="67.5" y="350.29999999999995" width="7.2" height="7.2" fill="#363c8e"/>
<rect x="96.9" y="346.9" width="7.2" height="7.2" fill="#363c8e"/>
<rect x="147.1" y="324.59999999999997" width="7.2" height="7.2" fill="#363c8e"/>
<rect x="239.9" y="334.2" width="7.2" height="7.2" fill="#363c8e"/>
<polygon points="71.1,357.09999999999997 75.19999999999999,364.2 67.0,364.2" fill="#c8356a"/>
<polygon points="100.5,381.59999999999997 104.6,388.7 96.4,388.7" fill="#c8356a"/>
<polygon points="135.4,387.0 139.5,394.1 131.3,394.1" fill="#c8356a"/>
<polygon points="236,381.9 240.1,389.0 231.9,389.0" fill="#c8356a"/>
<polygon points="71.1,384.5 75.89999999999999,389.3 71.1,394.1 66.3,389.3" fill="#fff" stroke="#000" stroke-width="1.3"/>
<polygon points="100.5,390.7 105.3,395.5 100.5,400.3 95.7,395.5" fill="#fff" stroke="#000" stroke-width="1.3"/>
<polygon points="143,392.7 147.8,397.5 143,402.3 138.2,397.5" fill="#fff" stroke="#000" stroke-width="1.3"/>
<polygon points="236,396.09999999999997 240.8,400.9 236,405.7 231.2,400.9" fill="#fff" stroke="#000" stroke-width="1.3"/>
<polygon points="57.8,353.8 62.599999999999994,358.6 57.8,363.40000000000003 53.0,358.6" fill="#b06c98" stroke="#000" stroke-width="1.3"/>
<line x1="57.8" y1="358.6" x2="71.1" y2="389.3" stroke="#000" stroke-width="2"/>
<polygon points="71.1,384.5 75.89999999999999,389.3 71.1,394.1 66.3,389.3" fill="#fff" stroke="#000" stroke-width="1.3"/>
<text x="263.5" y="267.8" font-size="11.6" fill="#000" font-weight="bold">C</text>
<g stroke="#000" stroke-width="1.3" fill="none"><polyline points="292.9,272.7 292.9,404.6 486.3,404.6"/><line x1="289.59999999999997" y1="275.9" x2="292.9" y2="275.9"/><line x1="289.59999999999997" y1="316.8" x2="292.9" y2="316.8"/><line x1="289.59999999999997" y1="358.3" x2="292.9" y2="358.3"/><line x1="289.59999999999997" y1="399.4" x2="292.9" y2="399.4"/><line x1="300" y1="404.6" x2="300" y2="407.6"/><line x1="314.5" y1="404.6" x2="314.5" y2="407.6"/><line x1="385.9" y1="404.6" x2="385.9" y2="407.6"/><line x1="479" y1="404.6" x2="479" y2="407.6"/></g>
<text x="287.0" y="279.0" font-size="8.8" fill="#1a1a1a" text-anchor="end">3</text>
<text x="287.0" y="319.9" font-size="8.8" fill="#1a1a1a" text-anchor="end">2</text>
<text x="287.0" y="361.3" font-size="8.8" fill="#1a1a1a" text-anchor="end">1</text>
<text x="287.0" y="402.4" font-size="8.8" fill="#1a1a1a" text-anchor="end">0</text>
<text x="300.2" y="417.7" font-size="8.3" fill="#1a1a1a" text-anchor="middle">1</text>
<text x="314.6" y="417.7" font-size="8.3" fill="#1a1a1a" text-anchor="middle">3</text>
<text x="385.4" y="417.7" font-size="8.3" fill="#1a1a1a" text-anchor="middle">6</text>
<text x="479.2" y="417.7" font-size="8.3" fill="#1a1a1a" text-anchor="middle">12</text>
<text transform="translate(322.9,429.8) scale(0.857,1)" font-size="10.4" fill="#1a1a1a" stroke="#1a1a1a" stroke-width="0.2">Time post ibrutinib discontinuation</text>
<text transform="translate(277.9,400.1) rotate(-90) scale(0.94,1)" font-size="9.4" fill="#1a1a1a" stroke="#1a1a1a" stroke-width="0.2">Change from pre ibrutinib (ratio)</text>
<polyline points="300,317 315,317 386,339.2 479,336.2" fill="none" stroke="#8c8c8c" stroke-width="1.8"/><path d="M386,317.5 V361.8 M382.0,317.5 H390.0 M382.0,361.8 H390.0" fill="none" stroke="#939393" stroke-width="1.2"/><path d="M479,312.3 V368.5 M475.0,312.3 H483.0 M475.0,368.5 H483.0" fill="none" stroke="#939393" stroke-width="1.2"/>
<polyline points="300,338 315,317 393.5,307.5 485.7,338.4" fill="none" stroke="#363c8e" stroke-width="1.8"/><path d="M393.5,278.9 V336.4 M389.5,278.9 H397.5 M389.5,336.4 H397.5" fill="none" stroke="#5e619e" stroke-width="1.2"/><path d="M485.7,304.3 V371.6 M481.7,304.3 H489.7 M481.7,371.6 H489.7" fill="none" stroke="#5e619e" stroke-width="1.2"/>
<polyline points="300,399.4 315,387 386,387.7 479,374.2" fill="none" stroke="#c8356a" stroke-width="1.8"/><path d="M479,366 V381.7 M475.0,366 H483.0 M475.0,381.7 H483.0" fill="none" stroke="#c94674" stroke-width="1.2"/>
<polyline points="300,399.4 315,395 386,399.5 479,396.3" fill="none" stroke="#000" stroke-width="2.0"/><path d="M315,391 V399 M311.0,391 H319.0 M311.0,399 H319.0" fill="none" stroke="#111" stroke-width="1.4"/><path d="M479,392.3 V400.2 M475.0,392.3 H483.0 M475.0,400.2 H483.0" fill="none" stroke="#111" stroke-width="1.4"/>
<circle cx="300" cy="317" r="3.6" fill="#8c8c8c"/>
<circle cx="386" cy="339.2" r="3.6" fill="#8c8c8c"/>
<circle cx="479" cy="336.2" r="3.6" fill="#8c8c8c"/>
<rect x="296.4" y="334.4" width="7.2" height="7.2" fill="#363c8e"/>
<rect x="311.4" y="313.4" width="7.2" height="7.2" fill="#363c8e"/>
<rect x="389.9" y="303.9" width="7.2" height="7.2" fill="#363c8e"/>
<rect x="482.09999999999997" y="334.79999999999995" width="7.2" height="7.2" fill="#363c8e"/>
<polygon points="300,395.09999999999997 304.1,402.2 295.9,402.2" fill="#c8356a"/>
<polygon points="315,382.7 319.1,389.8 310.9,389.8" fill="#c8356a"/>
<polygon points="386,383.4 390.1,390.5 381.9,390.5" fill="#c8356a"/>
<polygon points="479,369.9 483.1,377.0 474.9,377.0" fill="#c8356a"/>
<polygon points="300.2,395.7 304.0,399.5 300.2,403.3 296.4,399.5" fill="#a86488" stroke="#000" stroke-width="1.3"/>
<polygon points="315,392.1 318.4,395.5 315,398.9 311.6,395.5" fill="#fff" stroke="#000" stroke-width="1.3"/>
<polygon points="386.1,396.20000000000005 389.5,399.6 386.1,403.0 382.70000000000005,399.6" fill="#fff" stroke="#000" stroke-width="1.3"/>
<polygon points="479,392.90000000000003 482.4,396.3 479,399.7 475.6,396.3" fill="#fff" stroke="#000" stroke-width="1.3"/>
<line x1="411.5" y1="262" x2="427.2" y2="262" stroke="#8c8c8c" stroke-width="1.6"/>
<line x1="411.5" y1="273.5" x2="427.2" y2="273.5" stroke="#363c8e" stroke-width="1.6"/>
<line x1="411.5" y1="285" x2="427.2" y2="285" stroke="#c8356a" stroke-width="1.6"/>
<line x1="411.5" y1="296.6" x2="427.2" y2="296.6" stroke="#000" stroke-width="1.6"/>
<circle cx="419.5" cy="262" r="3.6" fill="#8c8c8c"/>
<rect x="415.9" y="269.9" width="7.2" height="7.2" fill="#363c8e"/>
<polygon points="419.5,280.7 423.6,287.8 415.4,287.8" fill="#c8356a"/>
<polygon points="419.5,293.0 423.1,296.6 419.5,300.20000000000005 415.9,296.6" fill="#fff" stroke="#000" stroke-width="1.3"/>
<text x="430.6" y="265.4" font-size="7.6" fill="#222">CD8</text>
<text x="430.6" y="276.4" font-size="7.6" fill="#222">CD4Tbet</text>
<text x="430.6" y="287.3" font-size="7.6" fill="#222">CD4Gata3</text>
<text x="430.6" y="298.8" font-size="7.6" fill="#222">CXCR5BCL6</text>
</svg></body></html>
